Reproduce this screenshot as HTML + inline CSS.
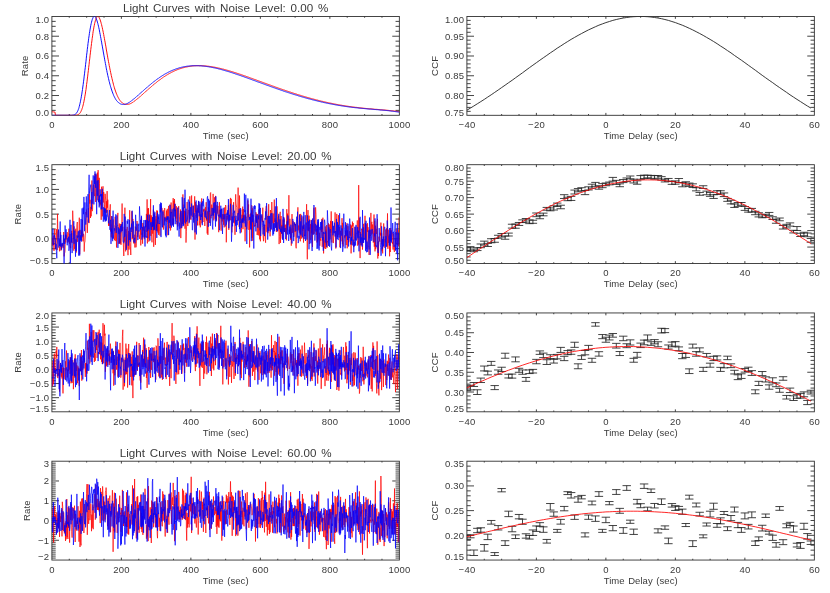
<!DOCTYPE html>
<html><head><meta charset="utf-8"><title>Light Curves and CCF</title>
<style>
html,body{margin:0;padding:0;background:#fff;}
svg{display:block;will-change:transform;}
text{font-family:"Liberation Sans",sans-serif;fill:#3a3a3a;}
</style></head><body>
<svg width="830" height="593" viewBox="0 0 830 593">
<defs><clipPath id="cl0"><rect x="51.9" y="16.45" width="347.45" height="98.85"/></clipPath><clipPath id="cr0"><rect x="466.9" y="16.45" width="347.45" height="98.85"/></clipPath><clipPath id="cl1"><rect x="51.9" y="164.70" width="347.45" height="98.85"/></clipPath><clipPath id="cr1"><rect x="466.9" y="164.70" width="347.45" height="98.85"/></clipPath><clipPath id="cl2"><rect x="51.9" y="312.95" width="347.45" height="98.85"/></clipPath><clipPath id="cr2"><rect x="466.9" y="312.95" width="347.45" height="98.85"/></clipPath><clipPath id="cl3"><rect x="51.9" y="461.20" width="347.45" height="98.85"/></clipPath><clipPath id="cr3"><rect x="466.9" y="461.20" width="347.45" height="98.85"/></clipPath></defs>
<rect x="0" y="0" width="830" height="593" fill="#ffffff"/>
<rect x="51.90" y="16.45" width="347.45" height="98.85" fill="none" stroke="#303030" stroke-width="0.9"/>
<text x="52.01" y="128.10" text-anchor="middle" font-size="9.5" letter-spacing="0.22">0</text>
<line x1="69.27" y1="115.30" x2="69.27" y2="114.00" stroke="#303030" stroke-width="0.9"/>
<line x1="69.27" y1="16.45" x2="69.27" y2="17.75" stroke="#303030" stroke-width="0.9"/>
<line x1="86.65" y1="115.30" x2="86.65" y2="114.00" stroke="#303030" stroke-width="0.9"/>
<line x1="86.65" y1="16.45" x2="86.65" y2="17.75" stroke="#303030" stroke-width="0.9"/>
<line x1="104.02" y1="115.30" x2="104.02" y2="114.00" stroke="#303030" stroke-width="0.9"/>
<line x1="104.02" y1="16.45" x2="104.02" y2="17.75" stroke="#303030" stroke-width="0.9"/>
<line x1="121.39" y1="115.30" x2="121.39" y2="112.90" stroke="#303030" stroke-width="0.9"/>
<line x1="121.39" y1="16.45" x2="121.39" y2="18.85" stroke="#303030" stroke-width="0.9"/>
<text x="121.50" y="128.10" text-anchor="middle" font-size="9.5" letter-spacing="0.22">200</text>
<line x1="138.76" y1="115.30" x2="138.76" y2="114.00" stroke="#303030" stroke-width="0.9"/>
<line x1="138.76" y1="16.45" x2="138.76" y2="17.75" stroke="#303030" stroke-width="0.9"/>
<line x1="156.14" y1="115.30" x2="156.14" y2="114.00" stroke="#303030" stroke-width="0.9"/>
<line x1="156.14" y1="16.45" x2="156.14" y2="17.75" stroke="#303030" stroke-width="0.9"/>
<line x1="173.51" y1="115.30" x2="173.51" y2="114.00" stroke="#303030" stroke-width="0.9"/>
<line x1="173.51" y1="16.45" x2="173.51" y2="17.75" stroke="#303030" stroke-width="0.9"/>
<line x1="190.88" y1="115.30" x2="190.88" y2="112.90" stroke="#303030" stroke-width="0.9"/>
<line x1="190.88" y1="16.45" x2="190.88" y2="18.85" stroke="#303030" stroke-width="0.9"/>
<text x="190.99" y="128.10" text-anchor="middle" font-size="9.5" letter-spacing="0.22">400</text>
<line x1="208.25" y1="115.30" x2="208.25" y2="114.00" stroke="#303030" stroke-width="0.9"/>
<line x1="208.25" y1="16.45" x2="208.25" y2="17.75" stroke="#303030" stroke-width="0.9"/>
<line x1="225.63" y1="115.30" x2="225.63" y2="114.00" stroke="#303030" stroke-width="0.9"/>
<line x1="225.63" y1="16.45" x2="225.63" y2="17.75" stroke="#303030" stroke-width="0.9"/>
<line x1="243.00" y1="115.30" x2="243.00" y2="114.00" stroke="#303030" stroke-width="0.9"/>
<line x1="243.00" y1="16.45" x2="243.00" y2="17.75" stroke="#303030" stroke-width="0.9"/>
<line x1="260.37" y1="115.30" x2="260.37" y2="112.90" stroke="#303030" stroke-width="0.9"/>
<line x1="260.37" y1="16.45" x2="260.37" y2="18.85" stroke="#303030" stroke-width="0.9"/>
<text x="260.48" y="128.10" text-anchor="middle" font-size="9.5" letter-spacing="0.22">600</text>
<line x1="277.74" y1="115.30" x2="277.74" y2="114.00" stroke="#303030" stroke-width="0.9"/>
<line x1="277.74" y1="16.45" x2="277.74" y2="17.75" stroke="#303030" stroke-width="0.9"/>
<line x1="295.12" y1="115.30" x2="295.12" y2="114.00" stroke="#303030" stroke-width="0.9"/>
<line x1="295.12" y1="16.45" x2="295.12" y2="17.75" stroke="#303030" stroke-width="0.9"/>
<line x1="312.49" y1="115.30" x2="312.49" y2="114.00" stroke="#303030" stroke-width="0.9"/>
<line x1="312.49" y1="16.45" x2="312.49" y2="17.75" stroke="#303030" stroke-width="0.9"/>
<line x1="329.86" y1="115.30" x2="329.86" y2="112.90" stroke="#303030" stroke-width="0.9"/>
<line x1="329.86" y1="16.45" x2="329.86" y2="18.85" stroke="#303030" stroke-width="0.9"/>
<text x="329.97" y="128.10" text-anchor="middle" font-size="9.5" letter-spacing="0.22">800</text>
<line x1="347.23" y1="115.30" x2="347.23" y2="114.00" stroke="#303030" stroke-width="0.9"/>
<line x1="347.23" y1="16.45" x2="347.23" y2="17.75" stroke="#303030" stroke-width="0.9"/>
<line x1="364.61" y1="115.30" x2="364.61" y2="114.00" stroke="#303030" stroke-width="0.9"/>
<line x1="364.61" y1="16.45" x2="364.61" y2="17.75" stroke="#303030" stroke-width="0.9"/>
<line x1="381.98" y1="115.30" x2="381.98" y2="114.00" stroke="#303030" stroke-width="0.9"/>
<line x1="381.98" y1="16.45" x2="381.98" y2="17.75" stroke="#303030" stroke-width="0.9"/>
<text x="399.46" y="128.10" text-anchor="middle" font-size="9.5" letter-spacing="0.22">1000</text>
<text x="49.32" y="115.70" text-anchor="end" font-size="9.5" letter-spacing="0.22">0.0</text>
<line x1="51.90" y1="110.36" x2="55.70" y2="110.36" stroke="#303030" stroke-width="0.9"/>
<line x1="399.35" y1="110.36" x2="395.55" y2="110.36" stroke="#303030" stroke-width="0.9"/>
<line x1="51.90" y1="105.41" x2="55.70" y2="105.41" stroke="#303030" stroke-width="0.9"/>
<line x1="399.35" y1="105.41" x2="395.55" y2="105.41" stroke="#303030" stroke-width="0.9"/>
<line x1="51.90" y1="100.47" x2="55.70" y2="100.47" stroke="#303030" stroke-width="0.9"/>
<line x1="399.35" y1="100.47" x2="395.55" y2="100.47" stroke="#303030" stroke-width="0.9"/>
<line x1="51.90" y1="95.53" x2="59.00" y2="95.53" stroke="#303030" stroke-width="0.9"/>
<line x1="399.35" y1="95.53" x2="392.25" y2="95.53" stroke="#303030" stroke-width="0.9"/>
<text x="49.32" y="99.03" text-anchor="end" font-size="9.5" letter-spacing="0.22">0.2</text>
<line x1="51.90" y1="90.59" x2="55.70" y2="90.59" stroke="#303030" stroke-width="0.9"/>
<line x1="399.35" y1="90.59" x2="395.55" y2="90.59" stroke="#303030" stroke-width="0.9"/>
<line x1="51.90" y1="85.64" x2="55.70" y2="85.64" stroke="#303030" stroke-width="0.9"/>
<line x1="399.35" y1="85.64" x2="395.55" y2="85.64" stroke="#303030" stroke-width="0.9"/>
<line x1="51.90" y1="80.70" x2="55.70" y2="80.70" stroke="#303030" stroke-width="0.9"/>
<line x1="399.35" y1="80.70" x2="395.55" y2="80.70" stroke="#303030" stroke-width="0.9"/>
<line x1="51.90" y1="75.76" x2="59.00" y2="75.76" stroke="#303030" stroke-width="0.9"/>
<line x1="399.35" y1="75.76" x2="392.25" y2="75.76" stroke="#303030" stroke-width="0.9"/>
<text x="49.32" y="79.26" text-anchor="end" font-size="9.5" letter-spacing="0.22">0.4</text>
<line x1="51.90" y1="70.82" x2="55.70" y2="70.82" stroke="#303030" stroke-width="0.9"/>
<line x1="399.35" y1="70.82" x2="395.55" y2="70.82" stroke="#303030" stroke-width="0.9"/>
<line x1="51.90" y1="65.88" x2="55.70" y2="65.88" stroke="#303030" stroke-width="0.9"/>
<line x1="399.35" y1="65.88" x2="395.55" y2="65.88" stroke="#303030" stroke-width="0.9"/>
<line x1="51.90" y1="60.93" x2="55.70" y2="60.93" stroke="#303030" stroke-width="0.9"/>
<line x1="399.35" y1="60.93" x2="395.55" y2="60.93" stroke="#303030" stroke-width="0.9"/>
<line x1="51.90" y1="55.99" x2="59.00" y2="55.99" stroke="#303030" stroke-width="0.9"/>
<line x1="399.35" y1="55.99" x2="392.25" y2="55.99" stroke="#303030" stroke-width="0.9"/>
<text x="49.32" y="59.49" text-anchor="end" font-size="9.5" letter-spacing="0.22">0.6</text>
<line x1="51.90" y1="51.05" x2="55.70" y2="51.05" stroke="#303030" stroke-width="0.9"/>
<line x1="399.35" y1="51.05" x2="395.55" y2="51.05" stroke="#303030" stroke-width="0.9"/>
<line x1="51.90" y1="46.10" x2="55.70" y2="46.10" stroke="#303030" stroke-width="0.9"/>
<line x1="399.35" y1="46.10" x2="395.55" y2="46.10" stroke="#303030" stroke-width="0.9"/>
<line x1="51.90" y1="41.16" x2="55.70" y2="41.16" stroke="#303030" stroke-width="0.9"/>
<line x1="399.35" y1="41.16" x2="395.55" y2="41.16" stroke="#303030" stroke-width="0.9"/>
<line x1="51.90" y1="36.22" x2="59.00" y2="36.22" stroke="#303030" stroke-width="0.9"/>
<line x1="399.35" y1="36.22" x2="392.25" y2="36.22" stroke="#303030" stroke-width="0.9"/>
<text x="49.32" y="39.72" text-anchor="end" font-size="9.5" letter-spacing="0.22">0.8</text>
<line x1="51.90" y1="31.28" x2="55.70" y2="31.28" stroke="#303030" stroke-width="0.9"/>
<line x1="399.35" y1="31.28" x2="395.55" y2="31.28" stroke="#303030" stroke-width="0.9"/>
<line x1="51.90" y1="26.33" x2="55.70" y2="26.33" stroke="#303030" stroke-width="0.9"/>
<line x1="399.35" y1="26.33" x2="395.55" y2="26.33" stroke="#303030" stroke-width="0.9"/>
<line x1="51.90" y1="21.39" x2="55.70" y2="21.39" stroke="#303030" stroke-width="0.9"/>
<line x1="399.35" y1="21.39" x2="395.55" y2="21.39" stroke="#303030" stroke-width="0.9"/>
<text x="49.32" y="22.55" text-anchor="end" font-size="9.5" letter-spacing="0.22">1.0</text>
<text x="225.65" y="139.20" text-anchor="middle" font-size="9.5" letter-spacing="0.05" word-spacing="0.9">Time (sec)</text>
<text x="27.70" y="65.88" text-anchor="middle" font-size="9.5" letter-spacing="0.15" transform="rotate(-90 27.70 65.88)">Rate</text>
<text x="225.63" y="11.85" text-anchor="middle" font-size="11.6" letter-spacing="0.02" word-spacing="1.55">Light Curves with Noise Level: 0.00 %</text>
<g clip-path="url(#cl0)">
<polyline points="51.9,111.7 52.2,111.7 52.6,111.8 52.9,111.8 53.3,111.9 53.6,111.9 54.0,112.0 54.3,112.0 54.7,112.1 55.0,112.1 55.4,115.3 55.7,115.3 56.1,115.3 56.4,115.3 56.8,115.3 57.1,115.3 57.5,115.3 57.8,115.3 58.2,115.3 58.5,115.3 58.8,115.3 59.2,115.3 59.5,115.3 59.9,115.3 60.2,115.3 60.6,115.3 60.9,115.3 61.3,115.3 61.6,115.3 62.0,115.3 62.3,115.3 62.7,115.3 63.0,115.3 63.4,115.3 63.7,115.3 64.1,115.3 64.4,115.3 64.8,115.3 65.1,115.3 65.5,115.3 65.8,115.3 66.1,115.3 66.5,115.3 66.8,115.3 67.2,115.3 67.5,115.3 67.9,115.3 68.2,115.3 68.6,115.3 68.9,115.3 69.3,115.3 69.6,115.3 70.0,115.3 70.3,115.3 70.7,115.3 71.0,115.3 71.4,115.3 71.7,115.3 72.1,115.3 72.4,115.3 72.7,115.3 73.1,115.3 73.4,115.3 73.8,115.3 74.1,115.3 74.5,115.3 74.8,115.3 75.2,115.3 75.5,115.2 75.9,115.2 76.2,115.2 76.6,115.1 76.9,115.0 77.3,115.0 77.6,114.8 78.0,114.7 78.3,114.5 78.7,114.3 79.0,114.1 79.3,113.8 79.7,113.4 80.0,113.0 80.4,112.5 80.7,111.9 81.1,111.2 81.4,110.4 81.8,109.6 82.1,108.6 82.5,107.5 82.8,106.3 83.2,104.9 83.5,103.4 83.9,101.8 84.2,100.1 84.6,98.2 84.9,96.2 85.3,94.1 85.6,91.9 86.0,89.5 86.3,87.0 86.6,84.4 87.0,81.8 87.3,79.0 87.7,76.1 88.0,73.2 88.4,70.3 88.7,67.3 89.1,64.3 89.4,61.2 89.8,58.2 90.1,55.2 90.5,52.2 90.8,49.3 91.2,46.4 91.5,43.6 91.9,40.9 92.2,38.3 92.6,35.8 92.9,33.4 93.2,31.2 93.6,29.1 93.9,27.1 94.3,25.3 94.6,23.6 95.0,22.2 95.3,20.8 95.7,19.7 96.0,18.7 96.4,17.9 96.7,17.3 97.1,16.9 97.4,16.6 97.8,16.5 98.1,16.5 98.5,16.7 98.8,17.1 99.2,17.6 99.5,18.2 99.8,19.0 100.2,19.9 100.5,21.0 100.9,22.1 101.2,23.4 101.6,24.7 101.9,26.2 102.3,27.7 102.6,29.3 103.0,31.0 103.3,32.7 103.7,34.5 104.0,36.4 104.4,38.3 104.7,40.2 105.1,42.1 105.4,44.1 105.8,46.1 106.1,48.0 106.4,50.0 106.8,52.0 107.1,54.0 107.5,55.9 107.8,57.9 108.2,59.8 108.5,61.7 108.9,63.5 109.2,65.4 109.6,67.2 109.9,68.9 110.3,70.7 110.6,72.3 111.0,74.0 111.3,75.6 111.7,77.1 112.0,78.6 112.4,80.1 112.7,81.5 113.1,82.9 113.4,84.2 113.7,85.5 114.1,86.7 114.4,87.8 114.8,89.0 115.1,90.0 115.5,91.1 115.8,92.0 116.2,93.0 116.5,93.9 116.9,94.7 117.2,95.5 117.6,96.3 117.9,97.0 118.3,97.7 118.6,98.3 119.0,98.9 119.3,99.5 119.7,100.0 120.0,100.5 120.3,100.9 120.7,101.3 121.0,101.7 121.4,102.1 121.7,102.4 122.1,102.7 122.4,103.0 122.8,103.2 123.1,103.4 123.5,103.6 123.8,103.8 124.2,104.0 124.5,104.1 124.9,104.2 125.2,104.3 125.6,104.3 125.9,104.4 126.3,104.4 126.6,104.4 126.9,104.4 127.3,104.4 127.6,104.4 128.0,104.4 128.3,104.3 128.7,104.2 129.0,104.2 129.4,104.1 129.7,103.9 130.1,103.8 130.4,103.6 130.8,103.5 131.1,103.3 131.5,103.1 131.8,102.9 132.2,102.7 132.5,102.5 132.9,102.3 133.2,102.0 133.6,101.8 133.9,101.5 134.2,101.3 134.6,101.0 134.9,100.8 135.3,100.5 135.6,100.2 136.0,100.0 136.3,99.7 136.7,99.4 137.0,99.1 137.4,98.9 137.7,98.6 138.1,98.3 138.4,98.0 138.8,97.7 139.1,97.4 139.5,97.1 139.8,96.8 140.2,96.5 140.5,96.2 140.8,95.9 141.2,95.6 141.5,95.3 141.9,95.0 142.2,94.7 142.6,94.4 142.9,94.0 143.3,93.7 143.6,93.4 144.0,93.1 144.3,92.8 144.7,92.5 145.0,92.2 145.4,91.9 145.7,91.6 146.1,91.2 146.4,90.9 146.8,90.6 147.1,90.3 147.4,90.0 147.8,89.7 148.1,89.4 148.5,89.1 148.8,88.8 149.2,88.5 149.5,88.2 149.9,87.9 150.2,87.6 150.6,87.3 150.9,87.0 151.3,86.7 151.6,86.4 152.0,86.1 152.3,85.8 152.7,85.5 153.0,85.2 153.4,84.9 153.7,84.6 154.1,84.3 154.4,84.0 154.7,83.7 155.1,83.5 155.4,83.2 155.8,82.9 156.1,82.6 156.5,82.3 156.8,82.1 157.2,81.8 157.5,81.5 157.9,81.2 158.2,81.0 158.6,80.7 158.9,80.4 159.3,80.2 159.6,79.9 160.0,79.7 160.3,79.4 160.7,79.2 161.0,78.9 161.3,78.7 161.7,78.4 162.0,78.2 162.4,77.9 162.7,77.7 163.1,77.4 163.4,77.2 163.8,77.0 164.1,76.7 164.5,76.5 164.8,76.3 165.2,76.1 165.5,75.8 165.9,75.6 166.2,75.4 166.6,75.2 166.9,75.0 167.3,74.8 167.6,74.6 167.9,74.3 168.3,74.1 168.6,73.9 169.0,73.7 169.3,73.5 169.7,73.4 170.0,73.2 170.4,73.0 170.7,72.8 171.1,72.6 171.4,72.4 171.8,72.2 172.1,72.1 172.5,71.9 172.8,71.7 173.2,71.6 173.5,71.4 173.9,71.2 174.2,71.1 174.5,70.9 174.9,70.7 175.2,70.6 175.6,70.4 175.9,70.3 176.3,70.2 176.6,70.0 177.0,69.9 177.3,69.7 177.7,69.6 178.0,69.5 178.4,69.3 178.7,69.2 179.1,69.1 179.4,68.9 179.8,68.8 180.1,68.7 180.5,68.6 180.8,68.5 181.2,68.4 181.5,68.3 181.8,68.2 182.2,68.0 182.5,67.9 182.9,67.8 183.2,67.7 183.6,67.7 183.9,67.6 184.3,67.5 184.6,67.4 185.0,67.3 185.3,67.2 185.7,67.1 186.0,67.1 186.4,67.0 186.7,66.9 187.1,66.8 187.4,66.8 187.8,66.7 188.1,66.6 188.4,66.6 188.8,66.5 189.1,66.5 189.5,66.4 189.8,66.3 190.2,66.3 190.5,66.2 190.9,66.2 191.2,66.1 191.6,66.1 191.9,66.1 192.3,66.0 192.6,66.0 193.0,66.0 193.3,65.9 193.7,65.9 194.0,65.9 194.4,65.8 194.7,65.8 195.0,65.8 195.4,65.8 195.7,65.7 196.1,65.7 196.4,65.7 196.8,65.7 197.1,65.7 197.5,65.7 197.8,65.7 198.2,65.7 198.5,65.7 198.9,65.7 199.2,65.7 199.6,65.7 199.9,65.7 200.3,65.7 200.6,65.7 201.0,65.7 201.3,65.7 201.7,65.7 202.0,65.7 202.3,65.7 202.7,65.8 203.0,65.8 203.4,65.8 203.7,65.8 204.1,65.8 204.4,65.9 204.8,65.9 205.1,65.9 205.5,65.9 205.8,66.0 206.2,66.0 206.5,66.0 206.9,66.1 207.2,66.1 207.6,66.2 207.9,66.2 208.3,66.2 208.6,66.3 208.9,66.3 209.3,66.4 209.6,66.4 210.0,66.5 210.3,66.5 210.7,66.6 211.0,66.6 211.4,66.7 211.7,66.7 212.1,66.8 212.4,66.8 212.8,66.9 213.1,67.0 213.5,67.0 213.8,67.1 214.2,67.1 214.5,67.2 214.9,67.3 215.2,67.3 215.5,67.4 215.9,67.5 216.2,67.5 216.6,67.6 216.9,67.7 217.3,67.8 217.6,67.8 218.0,67.9 218.3,68.0 218.7,68.1 219.0,68.1 219.4,68.2 219.7,68.3 220.1,68.4 220.4,68.5 220.8,68.5 221.1,68.6 221.5,68.7 221.8,68.8 222.2,68.9 222.5,69.0 222.8,69.1 223.2,69.1 223.5,69.2 223.9,69.3 224.2,69.4 224.6,69.5 224.9,69.6 225.3,69.7 225.6,69.8 226.0,69.9 226.3,70.0 226.7,70.1 227.0,70.2 227.4,70.3 227.7,70.4 228.1,70.5 228.4,70.6 228.8,70.7 229.1,70.8 229.4,70.9 229.8,71.0 230.1,71.1 230.5,71.2 230.8,71.3 231.2,71.4 231.5,71.5 231.9,71.6 232.2,71.7 232.6,71.8 232.9,71.9 233.3,72.0 233.6,72.2 234.0,72.3 234.3,72.4 234.7,72.5 235.0,72.6 235.4,72.7 235.7,72.8 236.0,72.9 236.4,73.0 236.7,73.2 237.1,73.3 237.4,73.4 237.8,73.5 238.1,73.6 238.5,73.7 238.8,73.9 239.2,74.0 239.5,74.1 239.9,74.2 240.2,74.3 240.6,74.4 240.9,74.6 241.3,74.7 241.6,74.8 242.0,74.9 242.3,75.0 242.7,75.2 243.0,75.3 243.3,75.4 243.7,75.5 244.0,75.6 244.4,75.8 244.7,75.9 245.1,76.0 245.4,76.1 245.8,76.2 246.1,76.4 246.5,76.5 246.8,76.6 247.2,76.7 247.5,76.9 247.9,77.0 248.2,77.1 248.6,77.2 248.9,77.4 249.3,77.5 249.6,77.6 249.9,77.7 250.3,77.9 250.6,78.0 251.0,78.1 251.3,78.2 251.7,78.4 252.0,78.5 252.4,78.6 252.7,78.7 253.1,78.9 253.4,79.0 253.8,79.1 254.1,79.2 254.5,79.4 254.8,79.5 255.2,79.6 255.5,79.7 255.9,79.9 256.2,80.0 256.5,80.1 256.9,80.3 257.2,80.4 257.6,80.5 257.9,80.6 258.3,80.8 258.6,80.9 259.0,81.0 259.3,81.1 259.7,81.3 260.0,81.4 260.4,81.5 260.7,81.7 261.1,81.8 261.4,81.9 261.8,82.0 262.1,82.2 262.5,82.3 262.8,82.4 263.1,82.5 263.5,82.7 263.8,82.8 264.2,82.9 264.5,83.1 264.9,83.2 265.2,83.3 265.6,83.4 265.9,83.6 266.3,83.7 266.6,83.8 267.0,83.9 267.3,84.1 267.7,84.2 268.0,84.3 268.4,84.4 268.7,84.6 269.1,84.7 269.4,84.8 269.8,85.0 270.1,85.1 270.4,85.2 270.8,85.3 271.1,85.5 271.5,85.6 271.8,85.7 272.2,85.8 272.5,86.0 272.9,86.1 273.2,86.2 273.6,86.3 273.9,86.5 274.3,86.6 274.6,86.7 275.0,86.8 275.3,87.0 275.7,87.1 276.0,87.2 276.4,87.3 276.7,87.5 277.0,87.6 277.4,87.7 277.7,87.8 278.1,87.9 278.4,88.1 278.8,88.2 279.1,88.3 279.5,88.4 279.8,88.6 280.2,88.7 280.5,88.8 280.9,88.9 281.2,89.0 281.6,89.2 281.9,89.3 282.3,89.4 282.6,89.5 283.0,89.6 283.3,89.8 283.6,89.9 284.0,90.0 284.3,90.1 284.7,90.2 285.0,90.4 285.4,90.5 285.7,90.6 286.1,90.7 286.4,90.8 286.8,91.0 287.1,91.1 287.5,91.2 287.8,91.3 288.2,91.4 288.5,91.5 288.9,91.7 289.2,91.8 289.6,91.9 289.9,92.0 290.3,92.1 290.6,92.2 290.9,92.3 291.3,92.5 291.6,92.6 292.0,92.7 292.3,92.8 292.7,92.9 293.0,93.0 293.4,93.1 293.7,93.3 294.1,93.4 294.4,93.5 294.8,93.6 295.1,93.7 295.5,93.8 295.8,93.9 296.2,94.0 296.5,94.1 296.9,94.3 297.2,94.4 297.5,94.5 297.9,94.6 298.2,94.7 298.6,94.8 298.9,94.9 299.3,95.0 299.6,95.1 300.0,95.2 300.3,95.3 300.7,95.4 301.0,95.5 301.4,95.7 301.7,95.8 302.1,95.9 302.4,96.0 302.8,96.1 303.1,96.2 303.5,96.3 303.8,96.4 304.1,96.5 304.5,96.6 304.8,96.7 305.2,96.8 305.5,96.9 305.9,97.0 306.2,97.1 306.6,97.2 306.9,97.3 307.3,97.4 307.6,97.5 308.0,97.6 308.3,97.7 308.7,97.8 309.0,97.9 309.4,98.0 309.7,98.1 310.1,98.2 310.4,98.3 310.8,98.4 311.1,98.5 311.4,98.6 311.8,98.7 312.1,98.8 312.5,98.9 312.8,98.9 313.2,99.0 313.5,99.1 313.9,99.2 314.2,99.3 314.6,99.4 314.9,99.5 315.3,99.6 315.6,99.7 316.0,99.8 316.3,99.9 316.7,100.0 317.0,100.0 317.4,100.1 317.7,100.2 318.0,100.3 318.4,100.4 318.7,100.5 319.1,100.6 319.4,100.7 319.8,100.7 320.1,100.8 320.5,100.9 320.8,101.0 321.2,101.1 321.5,101.2 321.9,101.3 322.2,101.3 322.6,101.4 322.9,101.5 323.3,101.6 323.6,101.7 324.0,101.7 324.3,101.8 324.6,101.9 325.0,102.0 325.3,102.1 325.7,102.1 326.0,102.2 326.4,102.3 326.7,102.4 327.1,102.5 327.4,102.5 327.8,102.6 328.1,102.7 328.5,102.8 328.8,102.8 329.2,102.9 329.5,103.0 329.9,103.1 330.2,103.1 330.6,103.2 330.9,103.3 331.2,103.3 331.6,103.4 331.9,103.5 332.3,103.6 332.6,103.6 333.0,103.7 333.3,103.8 333.7,103.8 334.0,103.9 334.4,104.0 334.7,104.0 335.1,104.1 335.4,104.2 335.8,104.2 336.1,104.3 336.5,104.4 336.8,104.4 337.2,104.5 337.5,104.6 337.9,104.6 338.2,104.7 338.5,104.8 338.9,104.8 339.2,104.9 339.6,104.9 339.9,105.0 340.3,105.1 340.6,105.1 341.0,105.2 341.3,105.2 341.7,105.3 342.0,105.4 342.4,105.4 342.7,105.5 343.1,105.5 343.4,105.6 343.8,105.6 344.1,105.7 344.5,105.8 344.8,105.8 345.1,105.9 345.5,105.9 345.8,106.0 346.2,106.0 346.5,106.1 346.9,106.1 347.2,106.2 347.6,106.2 347.9,106.3 348.3,106.3 348.6,106.4 349.0,106.4 349.3,106.5 349.7,106.5 350.0,106.6 350.4,106.6 350.7,106.7 351.1,106.7 351.4,106.8 351.7,106.8 352.1,106.9 352.4,106.9 352.8,107.0 353.1,107.0 353.5,107.0 353.8,107.1 354.2,107.1 354.5,107.2 354.9,107.2 355.2,107.3 355.6,107.3 355.9,107.4 356.3,107.4 356.6,107.4 357.0,107.5 357.3,107.5 357.7,107.6 358.0,107.6 358.4,107.6 358.7,107.7 359.0,107.7 359.4,107.8 359.7,107.8 360.1,107.8 360.4,107.9 360.8,107.9 361.1,107.9 361.5,108.0 361.8,108.0 362.2,108.1 362.5,108.1 362.9,108.1 363.2,108.2 363.6,108.2 363.9,108.2 364.3,108.3 364.6,108.3 365.0,108.3 365.3,108.4 365.6,108.4 366.0,108.4 366.3,108.5 366.7,108.5 367.0,108.5 367.4,108.6 367.7,108.6 368.1,108.6 368.4,108.7 368.8,108.7 369.1,108.7 369.5,108.8 369.8,108.8 370.2,108.8 370.5,108.8 370.9,108.9 371.2,108.9 371.6,108.9 371.9,109.0 372.2,109.0 372.6,109.0 372.9,109.1 373.3,109.1 373.6,109.1 374.0,109.1 374.3,109.2 374.7,109.2 375.0,109.2 375.4,109.3 375.7,109.3 376.1,109.3 376.4,109.3 376.8,109.4 377.1,109.4 377.5,109.4 377.8,109.5 378.2,109.5 378.5,109.5 378.9,109.5 379.2,109.6 379.5,109.6 379.9,109.6 380.2,109.7 380.6,109.7 380.9,109.7 381.3,109.7 381.6,109.8 382.0,109.8 382.3,109.8 382.7,109.9 383.0,109.9 383.4,109.9 383.7,110.0 384.1,110.0 384.4,110.0 384.8,110.0 385.1,110.1 385.5,110.1 385.8,110.1 386.1,110.2 386.5,110.2 386.8,110.2 387.2,110.3 387.5,110.3 387.9,110.3 388.2,110.4 388.6,110.4 388.9,110.4 389.3,110.5 389.6,110.5 390.0,110.5 390.3,110.6 390.7,110.6 391.0,110.6 391.4,110.7 391.7,110.7 392.1,110.7 392.4,110.8 392.7,110.8 393.1,110.9 393.4,110.9 393.8,110.9 394.1,111.0 394.5,111.0 394.8,111.1 395.2,111.1 395.5,111.1 395.9,111.2 396.2,111.2 396.6,111.3 396.9,111.3 397.3,111.4 397.6,111.4 398.0,111.5 398.3,111.5 398.7,111.6 399.0,111.6" fill="none" stroke="#ff0000" stroke-width="0.95" stroke-linejoin="bevel"/>
<polyline points="51.9,115.3 52.2,115.3 52.6,115.3 52.9,115.3 53.3,115.3 53.6,115.3 54.0,115.3 54.3,115.3 54.7,115.3 55.0,115.3 55.4,115.3 55.7,115.3 56.1,115.3 56.4,115.3 56.8,115.3 57.1,115.3 57.5,115.3 57.8,115.3 58.2,115.3 58.5,115.3 58.8,115.3 59.2,115.3 59.5,115.3 59.9,115.3 60.2,115.3 60.6,115.3 60.9,115.3 61.3,115.3 61.6,115.3 62.0,115.3 62.3,115.3 62.7,115.3 63.0,115.3 63.4,115.3 63.7,115.3 64.1,115.3 64.4,115.3 64.8,115.3 65.1,115.3 65.5,115.3 65.8,115.3 66.1,115.3 66.5,115.3 66.8,115.3 67.2,115.3 67.5,115.3 67.9,115.3 68.2,115.3 68.6,115.3 68.9,115.3 69.3,115.3 69.6,115.3 70.0,115.3 70.3,115.3 70.7,115.3 71.0,115.3 71.4,115.3 71.7,115.3 72.1,115.2 72.4,115.2 72.7,115.2 73.1,115.1 73.4,115.0 73.8,115.0 74.1,114.8 74.5,114.7 74.8,114.5 75.2,114.3 75.5,114.1 75.9,113.8 76.2,113.4 76.6,113.0 76.9,112.5 77.3,111.9 77.6,111.2 78.0,110.4 78.3,109.6 78.7,108.6 79.0,107.5 79.3,106.3 79.7,104.9 80.0,103.4 80.4,101.8 80.7,100.1 81.1,98.2 81.4,96.2 81.8,94.1 82.1,91.9 82.5,89.5 82.8,87.0 83.2,84.4 83.5,81.8 83.9,79.0 84.2,76.1 84.6,73.2 84.9,70.3 85.3,67.3 85.6,64.3 86.0,61.2 86.3,58.2 86.6,55.2 87.0,52.2 87.3,49.3 87.7,46.4 88.0,43.6 88.4,40.9 88.7,38.3 89.1,35.8 89.4,33.4 89.8,31.2 90.1,29.1 90.5,27.1 90.8,25.3 91.2,23.6 91.5,22.2 91.9,20.8 92.2,19.7 92.6,18.7 92.9,17.9 93.2,17.3 93.6,16.9 93.9,16.6 94.3,16.5 94.6,16.5 95.0,16.7 95.3,17.1 95.7,17.6 96.0,18.2 96.4,19.0 96.7,19.9 97.1,21.0 97.4,22.1 97.8,23.4 98.1,24.7 98.5,26.2 98.8,27.7 99.2,29.3 99.5,31.0 99.8,32.7 100.2,34.5 100.5,36.4 100.9,38.3 101.2,40.2 101.6,42.1 101.9,44.1 102.3,46.1 102.6,48.0 103.0,50.0 103.3,52.0 103.7,54.0 104.0,55.9 104.4,57.9 104.7,59.8 105.1,61.7 105.4,63.5 105.8,65.4 106.1,67.2 106.4,68.9 106.8,70.7 107.1,72.3 107.5,74.0 107.8,75.6 108.2,77.1 108.5,78.6 108.9,80.1 109.2,81.5 109.6,82.9 109.9,84.2 110.3,85.5 110.6,86.7 111.0,87.8 111.3,89.0 111.7,90.0 112.0,91.1 112.4,92.0 112.7,93.0 113.1,93.9 113.4,94.7 113.7,95.5 114.1,96.3 114.4,97.0 114.8,97.7 115.1,98.3 115.5,98.9 115.8,99.5 116.2,100.0 116.5,100.5 116.9,100.9 117.2,101.3 117.6,101.7 117.9,102.1 118.3,102.4 118.6,102.7 119.0,103.0 119.3,103.2 119.7,103.4 120.0,103.6 120.3,103.8 120.7,104.0 121.0,104.1 121.4,104.2 121.7,104.3 122.1,104.3 122.4,104.4 122.8,104.4 123.1,104.4 123.5,104.4 123.8,104.4 124.2,104.4 124.5,104.4 124.9,104.3 125.2,104.2 125.6,104.2 125.9,104.1 126.3,103.9 126.6,103.8 126.9,103.6 127.3,103.5 127.6,103.3 128.0,103.1 128.3,102.9 128.7,102.7 129.0,102.5 129.4,102.3 129.7,102.0 130.1,101.8 130.4,101.5 130.8,101.3 131.1,101.0 131.5,100.8 131.8,100.5 132.2,100.2 132.5,100.0 132.9,99.7 133.2,99.4 133.6,99.1 133.9,98.9 134.2,98.6 134.6,98.3 134.9,98.0 135.3,97.7 135.6,97.4 136.0,97.1 136.3,96.8 136.7,96.5 137.0,96.2 137.4,95.9 137.7,95.6 138.1,95.3 138.4,95.0 138.8,94.7 139.1,94.4 139.5,94.0 139.8,93.7 140.2,93.4 140.5,93.1 140.8,92.8 141.2,92.5 141.5,92.2 141.9,91.9 142.2,91.6 142.6,91.2 142.9,90.9 143.3,90.6 143.6,90.3 144.0,90.0 144.3,89.7 144.7,89.4 145.0,89.1 145.4,88.8 145.7,88.5 146.1,88.2 146.4,87.9 146.8,87.6 147.1,87.3 147.4,87.0 147.8,86.7 148.1,86.4 148.5,86.1 148.8,85.8 149.2,85.5 149.5,85.2 149.9,84.9 150.2,84.6 150.6,84.3 150.9,84.0 151.3,83.7 151.6,83.5 152.0,83.2 152.3,82.9 152.7,82.6 153.0,82.3 153.4,82.1 153.7,81.8 154.1,81.5 154.4,81.2 154.7,81.0 155.1,80.7 155.4,80.4 155.8,80.2 156.1,79.9 156.5,79.7 156.8,79.4 157.2,79.2 157.5,78.9 157.9,78.7 158.2,78.4 158.6,78.2 158.9,77.9 159.3,77.7 159.6,77.4 160.0,77.2 160.3,77.0 160.7,76.7 161.0,76.5 161.3,76.3 161.7,76.1 162.0,75.8 162.4,75.6 162.7,75.4 163.1,75.2 163.4,75.0 163.8,74.8 164.1,74.6 164.5,74.3 164.8,74.1 165.2,73.9 165.5,73.7 165.9,73.5 166.2,73.4 166.6,73.2 166.9,73.0 167.3,72.8 167.6,72.6 167.9,72.4 168.3,72.2 168.6,72.1 169.0,71.9 169.3,71.7 169.7,71.6 170.0,71.4 170.4,71.2 170.7,71.1 171.1,70.9 171.4,70.7 171.8,70.6 172.1,70.4 172.5,70.3 172.8,70.2 173.2,70.0 173.5,69.9 173.9,69.7 174.2,69.6 174.5,69.5 174.9,69.3 175.2,69.2 175.6,69.1 175.9,68.9 176.3,68.8 176.6,68.7 177.0,68.6 177.3,68.5 177.7,68.4 178.0,68.3 178.4,68.2 178.7,68.0 179.1,67.9 179.4,67.8 179.8,67.7 180.1,67.7 180.5,67.6 180.8,67.5 181.2,67.4 181.5,67.3 181.8,67.2 182.2,67.1 182.5,67.1 182.9,67.0 183.2,66.9 183.6,66.8 183.9,66.8 184.3,66.7 184.6,66.6 185.0,66.6 185.3,66.5 185.7,66.5 186.0,66.4 186.4,66.3 186.7,66.3 187.1,66.2 187.4,66.2 187.8,66.1 188.1,66.1 188.4,66.1 188.8,66.0 189.1,66.0 189.5,66.0 189.8,65.9 190.2,65.9 190.5,65.9 190.9,65.8 191.2,65.8 191.6,65.8 191.9,65.8 192.3,65.7 192.6,65.7 193.0,65.7 193.3,65.7 193.7,65.7 194.0,65.7 194.4,65.7 194.7,65.7 195.0,65.7 195.4,65.7 195.7,65.7 196.1,65.7 196.4,65.7 196.8,65.7 197.1,65.7 197.5,65.7 197.8,65.7 198.2,65.7 198.5,65.7 198.9,65.7 199.2,65.8 199.6,65.8 199.9,65.8 200.3,65.8 200.6,65.8 201.0,65.9 201.3,65.9 201.7,65.9 202.0,65.9 202.3,66.0 202.7,66.0 203.0,66.0 203.4,66.1 203.7,66.1 204.1,66.2 204.4,66.2 204.8,66.2 205.1,66.3 205.5,66.3 205.8,66.4 206.2,66.4 206.5,66.5 206.9,66.5 207.2,66.6 207.6,66.6 207.9,66.7 208.3,66.7 208.6,66.8 208.9,66.8 209.3,66.9 209.6,67.0 210.0,67.0 210.3,67.1 210.7,67.1 211.0,67.2 211.4,67.3 211.7,67.3 212.1,67.4 212.4,67.5 212.8,67.5 213.1,67.6 213.5,67.7 213.8,67.8 214.2,67.8 214.5,67.9 214.9,68.0 215.2,68.1 215.5,68.1 215.9,68.2 216.2,68.3 216.6,68.4 216.9,68.5 217.3,68.5 217.6,68.6 218.0,68.7 218.3,68.8 218.7,68.9 219.0,69.0 219.4,69.1 219.7,69.1 220.1,69.2 220.4,69.3 220.8,69.4 221.1,69.5 221.5,69.6 221.8,69.7 222.2,69.8 222.5,69.9 222.8,70.0 223.2,70.1 223.5,70.2 223.9,70.3 224.2,70.4 224.6,70.5 224.9,70.6 225.3,70.7 225.6,70.8 226.0,70.9 226.3,71.0 226.7,71.1 227.0,71.2 227.4,71.3 227.7,71.4 228.1,71.5 228.4,71.6 228.8,71.7 229.1,71.8 229.4,71.9 229.8,72.0 230.1,72.2 230.5,72.3 230.8,72.4 231.2,72.5 231.5,72.6 231.9,72.7 232.2,72.8 232.6,72.9 232.9,73.0 233.3,73.2 233.6,73.3 234.0,73.4 234.3,73.5 234.7,73.6 235.0,73.7 235.4,73.9 235.7,74.0 236.0,74.1 236.4,74.2 236.7,74.3 237.1,74.4 237.4,74.6 237.8,74.7 238.1,74.8 238.5,74.9 238.8,75.0 239.2,75.2 239.5,75.3 239.9,75.4 240.2,75.5 240.6,75.6 240.9,75.8 241.3,75.9 241.6,76.0 242.0,76.1 242.3,76.2 242.7,76.4 243.0,76.5 243.3,76.6 243.7,76.7 244.0,76.9 244.4,77.0 244.7,77.1 245.1,77.2 245.4,77.4 245.8,77.5 246.1,77.6 246.5,77.7 246.8,77.9 247.2,78.0 247.5,78.1 247.9,78.2 248.2,78.4 248.6,78.5 248.9,78.6 249.3,78.7 249.6,78.9 249.9,79.0 250.3,79.1 250.6,79.2 251.0,79.4 251.3,79.5 251.7,79.6 252.0,79.7 252.4,79.9 252.7,80.0 253.1,80.1 253.4,80.3 253.8,80.4 254.1,80.5 254.5,80.6 254.8,80.8 255.2,80.9 255.5,81.0 255.9,81.1 256.2,81.3 256.5,81.4 256.9,81.5 257.2,81.7 257.6,81.8 257.9,81.9 258.3,82.0 258.6,82.2 259.0,82.3 259.3,82.4 259.7,82.5 260.0,82.7 260.4,82.8 260.7,82.9 261.1,83.1 261.4,83.2 261.8,83.3 262.1,83.4 262.5,83.6 262.8,83.7 263.1,83.8 263.5,83.9 263.8,84.1 264.2,84.2 264.5,84.3 264.9,84.4 265.2,84.6 265.6,84.7 265.9,84.8 266.3,85.0 266.6,85.1 267.0,85.2 267.3,85.3 267.7,85.5 268.0,85.6 268.4,85.7 268.7,85.8 269.1,86.0 269.4,86.1 269.8,86.2 270.1,86.3 270.4,86.5 270.8,86.6 271.1,86.7 271.5,86.8 271.8,87.0 272.2,87.1 272.5,87.2 272.9,87.3 273.2,87.5 273.6,87.6 273.9,87.7 274.3,87.8 274.6,87.9 275.0,88.1 275.3,88.2 275.7,88.3 276.0,88.4 276.4,88.6 276.7,88.7 277.0,88.8 277.4,88.9 277.7,89.0 278.1,89.2 278.4,89.3 278.8,89.4 279.1,89.5 279.5,89.6 279.8,89.8 280.2,89.9 280.5,90.0 280.9,90.1 281.2,90.2 281.6,90.4 281.9,90.5 282.3,90.6 282.6,90.7 283.0,90.8 283.3,91.0 283.6,91.1 284.0,91.2 284.3,91.3 284.7,91.4 285.0,91.5 285.4,91.7 285.7,91.8 286.1,91.9 286.4,92.0 286.8,92.1 287.1,92.2 287.5,92.3 287.8,92.5 288.2,92.6 288.5,92.7 288.9,92.8 289.2,92.9 289.6,93.0 289.9,93.1 290.3,93.3 290.6,93.4 290.9,93.5 291.3,93.6 291.6,93.7 292.0,93.8 292.3,93.9 292.7,94.0 293.0,94.1 293.4,94.3 293.7,94.4 294.1,94.5 294.4,94.6 294.8,94.7 295.1,94.8 295.5,94.9 295.8,95.0 296.2,95.1 296.5,95.2 296.9,95.3 297.2,95.4 297.5,95.5 297.9,95.7 298.2,95.8 298.6,95.9 298.9,96.0 299.3,96.1 299.6,96.2 300.0,96.3 300.3,96.4 300.7,96.5 301.0,96.6 301.4,96.7 301.7,96.8 302.1,96.9 302.4,97.0 302.8,97.1 303.1,97.2 303.5,97.3 303.8,97.4 304.1,97.5 304.5,97.6 304.8,97.7 305.2,97.8 305.5,97.9 305.9,98.0 306.2,98.1 306.6,98.2 306.9,98.3 307.3,98.4 307.6,98.5 308.0,98.6 308.3,98.7 308.7,98.8 309.0,98.9 309.4,98.9 309.7,99.0 310.1,99.1 310.4,99.2 310.8,99.3 311.1,99.4 311.4,99.5 311.8,99.6 312.1,99.7 312.5,99.8 312.8,99.9 313.2,100.0 313.5,100.0 313.9,100.1 314.2,100.2 314.6,100.3 314.9,100.4 315.3,100.5 315.6,100.6 316.0,100.7 316.3,100.7 316.7,100.8 317.0,100.9 317.4,101.0 317.7,101.1 318.0,101.2 318.4,101.3 318.7,101.3 319.1,101.4 319.4,101.5 319.8,101.6 320.1,101.7 320.5,101.7 320.8,101.8 321.2,101.9 321.5,102.0 321.9,102.1 322.2,102.1 322.6,102.2 322.9,102.3 323.3,102.4 323.6,102.5 324.0,102.5 324.3,102.6 324.6,102.7 325.0,102.8 325.3,102.8 325.7,102.9 326.0,103.0 326.4,103.1 326.7,103.1 327.1,103.2 327.4,103.3 327.8,103.3 328.1,103.4 328.5,103.5 328.8,103.6 329.2,103.6 329.5,103.7 329.9,103.8 330.2,103.8 330.6,103.9 330.9,104.0 331.2,104.0 331.6,104.1 331.9,104.2 332.3,104.2 332.6,104.3 333.0,104.4 333.3,104.4 333.7,104.5 334.0,104.6 334.4,104.6 334.7,104.7 335.1,104.8 335.4,104.8 335.8,104.9 336.1,104.9 336.5,105.0 336.8,105.1 337.2,105.1 337.5,105.2 337.9,105.2 338.2,105.3 338.5,105.4 338.9,105.4 339.2,105.5 339.6,105.5 339.9,105.6 340.3,105.6 340.6,105.7 341.0,105.8 341.3,105.8 341.7,105.9 342.0,105.9 342.4,106.0 342.7,106.0 343.1,106.1 343.4,106.1 343.8,106.2 344.1,106.2 344.5,106.3 344.8,106.3 345.1,106.4 345.5,106.4 345.8,106.5 346.2,106.5 346.5,106.6 346.9,106.6 347.2,106.7 347.6,106.7 347.9,106.8 348.3,106.8 348.6,106.9 349.0,106.9 349.3,107.0 349.7,107.0 350.0,107.0 350.4,107.1 350.7,107.1 351.1,107.2 351.4,107.2 351.7,107.3 352.1,107.3 352.4,107.4 352.8,107.4 353.1,107.4 353.5,107.5 353.8,107.5 354.2,107.6 354.5,107.6 354.9,107.6 355.2,107.7 355.6,107.7 355.9,107.8 356.3,107.8 356.6,107.8 357.0,107.9 357.3,107.9 357.7,107.9 358.0,108.0 358.4,108.0 358.7,108.1 359.0,108.1 359.4,108.1 359.7,108.2 360.1,108.2 360.4,108.2 360.8,108.3 361.1,108.3 361.5,108.3 361.8,108.4 362.2,108.4 362.5,108.4 362.9,108.5 363.2,108.5 363.6,108.5 363.9,108.6 364.3,108.6 364.6,108.6 365.0,108.7 365.3,108.7 365.6,108.7 366.0,108.8 366.3,108.8 366.7,108.8 367.0,108.8 367.4,108.9 367.7,108.9 368.1,108.9 368.4,109.0 368.8,109.0 369.1,109.0 369.5,109.1 369.8,109.1 370.2,109.1 370.5,109.1 370.9,109.2 371.2,109.2 371.6,109.2 371.9,109.3 372.2,109.3 372.6,109.3 372.9,109.3 373.3,109.4 373.6,109.4 374.0,109.4 374.3,109.5 374.7,109.5 375.0,109.5 375.4,109.5 375.7,109.6 376.1,109.6 376.4,109.6 376.8,109.7 377.1,109.7 377.5,109.7 377.8,109.7 378.2,109.8 378.5,109.8 378.9,109.8 379.2,109.9 379.5,109.9 379.9,109.9 380.2,110.0 380.6,110.0 380.9,110.0 381.3,110.0 381.6,110.1 382.0,110.1 382.3,110.1 382.7,110.2 383.0,110.2 383.4,110.2 383.7,110.3 384.1,110.3 384.4,110.3 384.8,110.4 385.1,110.4 385.5,110.4 385.8,110.5 386.1,110.5 386.5,110.5 386.8,110.6 387.2,110.6 387.5,110.6 387.9,110.7 388.2,110.7 388.6,110.7 388.9,110.8 389.3,110.8 389.6,110.9 390.0,110.9 390.3,110.9 390.7,111.0 391.0,111.0 391.4,111.1 391.7,111.1 392.1,111.1 392.4,111.2 392.7,111.2 393.1,111.3 393.4,111.3 393.8,111.4 394.1,111.4 394.5,111.5 394.8,111.5 395.2,111.6 395.5,111.6 395.9,111.7 396.2,111.7 396.6,111.8 396.9,111.8 397.3,111.9 397.6,111.9 398.0,112.0 398.3,112.0 398.7,112.1 399.0,112.1" fill="none" stroke="#0000ff" stroke-width="0.95" stroke-linejoin="bevel"/>
</g>
<rect x="466.90" y="16.45" width="347.45" height="98.85" fill="none" stroke="#303030" stroke-width="0.9"/>
<text x="467.01" y="128.10" text-anchor="middle" font-size="9.5" letter-spacing="0.22">−40</text>
<line x1="484.27" y1="115.30" x2="484.27" y2="114.00" stroke="#303030" stroke-width="0.9"/>
<line x1="484.27" y1="16.45" x2="484.27" y2="17.75" stroke="#303030" stroke-width="0.9"/>
<line x1="501.64" y1="115.30" x2="501.64" y2="114.00" stroke="#303030" stroke-width="0.9"/>
<line x1="501.64" y1="16.45" x2="501.64" y2="17.75" stroke="#303030" stroke-width="0.9"/>
<line x1="519.02" y1="115.30" x2="519.02" y2="114.00" stroke="#303030" stroke-width="0.9"/>
<line x1="519.02" y1="16.45" x2="519.02" y2="17.75" stroke="#303030" stroke-width="0.9"/>
<line x1="536.39" y1="115.30" x2="536.39" y2="112.90" stroke="#303030" stroke-width="0.9"/>
<line x1="536.39" y1="16.45" x2="536.39" y2="18.85" stroke="#303030" stroke-width="0.9"/>
<text x="536.50" y="128.10" text-anchor="middle" font-size="9.5" letter-spacing="0.22">−20</text>
<line x1="553.76" y1="115.30" x2="553.76" y2="114.00" stroke="#303030" stroke-width="0.9"/>
<line x1="553.76" y1="16.45" x2="553.76" y2="17.75" stroke="#303030" stroke-width="0.9"/>
<line x1="571.13" y1="115.30" x2="571.13" y2="114.00" stroke="#303030" stroke-width="0.9"/>
<line x1="571.13" y1="16.45" x2="571.13" y2="17.75" stroke="#303030" stroke-width="0.9"/>
<line x1="588.51" y1="115.30" x2="588.51" y2="114.00" stroke="#303030" stroke-width="0.9"/>
<line x1="588.51" y1="16.45" x2="588.51" y2="17.75" stroke="#303030" stroke-width="0.9"/>
<line x1="605.88" y1="115.30" x2="605.88" y2="112.90" stroke="#303030" stroke-width="0.9"/>
<line x1="605.88" y1="16.45" x2="605.88" y2="18.85" stroke="#303030" stroke-width="0.9"/>
<text x="605.99" y="128.10" text-anchor="middle" font-size="9.5" letter-spacing="0.22">0</text>
<line x1="623.25" y1="115.30" x2="623.25" y2="114.00" stroke="#303030" stroke-width="0.9"/>
<line x1="623.25" y1="16.45" x2="623.25" y2="17.75" stroke="#303030" stroke-width="0.9"/>
<line x1="640.62" y1="115.30" x2="640.62" y2="114.00" stroke="#303030" stroke-width="0.9"/>
<line x1="640.62" y1="16.45" x2="640.62" y2="17.75" stroke="#303030" stroke-width="0.9"/>
<line x1="658.00" y1="115.30" x2="658.00" y2="114.00" stroke="#303030" stroke-width="0.9"/>
<line x1="658.00" y1="16.45" x2="658.00" y2="17.75" stroke="#303030" stroke-width="0.9"/>
<line x1="675.37" y1="115.30" x2="675.37" y2="112.90" stroke="#303030" stroke-width="0.9"/>
<line x1="675.37" y1="16.45" x2="675.37" y2="18.85" stroke="#303030" stroke-width="0.9"/>
<text x="675.48" y="128.10" text-anchor="middle" font-size="9.5" letter-spacing="0.22">20</text>
<line x1="692.74" y1="115.30" x2="692.74" y2="114.00" stroke="#303030" stroke-width="0.9"/>
<line x1="692.74" y1="16.45" x2="692.74" y2="17.75" stroke="#303030" stroke-width="0.9"/>
<line x1="710.12" y1="115.30" x2="710.12" y2="114.00" stroke="#303030" stroke-width="0.9"/>
<line x1="710.12" y1="16.45" x2="710.12" y2="17.75" stroke="#303030" stroke-width="0.9"/>
<line x1="727.49" y1="115.30" x2="727.49" y2="114.00" stroke="#303030" stroke-width="0.9"/>
<line x1="727.49" y1="16.45" x2="727.49" y2="17.75" stroke="#303030" stroke-width="0.9"/>
<line x1="744.86" y1="115.30" x2="744.86" y2="112.90" stroke="#303030" stroke-width="0.9"/>
<line x1="744.86" y1="16.45" x2="744.86" y2="18.85" stroke="#303030" stroke-width="0.9"/>
<text x="744.97" y="128.10" text-anchor="middle" font-size="9.5" letter-spacing="0.22">40</text>
<line x1="762.23" y1="115.30" x2="762.23" y2="114.00" stroke="#303030" stroke-width="0.9"/>
<line x1="762.23" y1="16.45" x2="762.23" y2="17.75" stroke="#303030" stroke-width="0.9"/>
<line x1="779.61" y1="115.30" x2="779.61" y2="114.00" stroke="#303030" stroke-width="0.9"/>
<line x1="779.61" y1="16.45" x2="779.61" y2="17.75" stroke="#303030" stroke-width="0.9"/>
<line x1="796.98" y1="115.30" x2="796.98" y2="114.00" stroke="#303030" stroke-width="0.9"/>
<line x1="796.98" y1="16.45" x2="796.98" y2="17.75" stroke="#303030" stroke-width="0.9"/>
<text x="814.46" y="128.10" text-anchor="middle" font-size="9.5" letter-spacing="0.22">60</text>
<text x="464.32" y="115.70" text-anchor="end" font-size="9.5" letter-spacing="0.22">0.75</text>
<line x1="466.90" y1="111.35" x2="470.70" y2="111.35" stroke="#303030" stroke-width="0.9"/>
<line x1="814.35" y1="111.35" x2="810.55" y2="111.35" stroke="#303030" stroke-width="0.9"/>
<line x1="466.90" y1="107.39" x2="470.70" y2="107.39" stroke="#303030" stroke-width="0.9"/>
<line x1="814.35" y1="107.39" x2="810.55" y2="107.39" stroke="#303030" stroke-width="0.9"/>
<line x1="466.90" y1="103.44" x2="470.70" y2="103.44" stroke="#303030" stroke-width="0.9"/>
<line x1="814.35" y1="103.44" x2="810.55" y2="103.44" stroke="#303030" stroke-width="0.9"/>
<line x1="466.90" y1="99.48" x2="470.70" y2="99.48" stroke="#303030" stroke-width="0.9"/>
<line x1="814.35" y1="99.48" x2="810.55" y2="99.48" stroke="#303030" stroke-width="0.9"/>
<line x1="466.90" y1="95.53" x2="474.00" y2="95.53" stroke="#303030" stroke-width="0.9"/>
<line x1="814.35" y1="95.53" x2="807.25" y2="95.53" stroke="#303030" stroke-width="0.9"/>
<text x="464.32" y="99.03" text-anchor="end" font-size="9.5" letter-spacing="0.22">0.80</text>
<line x1="466.90" y1="91.58" x2="470.70" y2="91.58" stroke="#303030" stroke-width="0.9"/>
<line x1="814.35" y1="91.58" x2="810.55" y2="91.58" stroke="#303030" stroke-width="0.9"/>
<line x1="466.90" y1="87.62" x2="470.70" y2="87.62" stroke="#303030" stroke-width="0.9"/>
<line x1="814.35" y1="87.62" x2="810.55" y2="87.62" stroke="#303030" stroke-width="0.9"/>
<line x1="466.90" y1="83.67" x2="470.70" y2="83.67" stroke="#303030" stroke-width="0.9"/>
<line x1="814.35" y1="83.67" x2="810.55" y2="83.67" stroke="#303030" stroke-width="0.9"/>
<line x1="466.90" y1="79.71" x2="470.70" y2="79.71" stroke="#303030" stroke-width="0.9"/>
<line x1="814.35" y1="79.71" x2="810.55" y2="79.71" stroke="#303030" stroke-width="0.9"/>
<line x1="466.90" y1="75.76" x2="474.00" y2="75.76" stroke="#303030" stroke-width="0.9"/>
<line x1="814.35" y1="75.76" x2="807.25" y2="75.76" stroke="#303030" stroke-width="0.9"/>
<text x="464.32" y="79.26" text-anchor="end" font-size="9.5" letter-spacing="0.22">0.85</text>
<line x1="466.90" y1="71.81" x2="470.70" y2="71.81" stroke="#303030" stroke-width="0.9"/>
<line x1="814.35" y1="71.81" x2="810.55" y2="71.81" stroke="#303030" stroke-width="0.9"/>
<line x1="466.90" y1="67.85" x2="470.70" y2="67.85" stroke="#303030" stroke-width="0.9"/>
<line x1="814.35" y1="67.85" x2="810.55" y2="67.85" stroke="#303030" stroke-width="0.9"/>
<line x1="466.90" y1="63.90" x2="470.70" y2="63.90" stroke="#303030" stroke-width="0.9"/>
<line x1="814.35" y1="63.90" x2="810.55" y2="63.90" stroke="#303030" stroke-width="0.9"/>
<line x1="466.90" y1="59.94" x2="470.70" y2="59.94" stroke="#303030" stroke-width="0.9"/>
<line x1="814.35" y1="59.94" x2="810.55" y2="59.94" stroke="#303030" stroke-width="0.9"/>
<line x1="466.90" y1="55.99" x2="474.00" y2="55.99" stroke="#303030" stroke-width="0.9"/>
<line x1="814.35" y1="55.99" x2="807.25" y2="55.99" stroke="#303030" stroke-width="0.9"/>
<text x="464.32" y="59.49" text-anchor="end" font-size="9.5" letter-spacing="0.22">0.90</text>
<line x1="466.90" y1="52.04" x2="470.70" y2="52.04" stroke="#303030" stroke-width="0.9"/>
<line x1="814.35" y1="52.04" x2="810.55" y2="52.04" stroke="#303030" stroke-width="0.9"/>
<line x1="466.90" y1="48.08" x2="470.70" y2="48.08" stroke="#303030" stroke-width="0.9"/>
<line x1="814.35" y1="48.08" x2="810.55" y2="48.08" stroke="#303030" stroke-width="0.9"/>
<line x1="466.90" y1="44.13" x2="470.70" y2="44.13" stroke="#303030" stroke-width="0.9"/>
<line x1="814.35" y1="44.13" x2="810.55" y2="44.13" stroke="#303030" stroke-width="0.9"/>
<line x1="466.90" y1="40.17" x2="470.70" y2="40.17" stroke="#303030" stroke-width="0.9"/>
<line x1="814.35" y1="40.17" x2="810.55" y2="40.17" stroke="#303030" stroke-width="0.9"/>
<line x1="466.90" y1="36.22" x2="474.00" y2="36.22" stroke="#303030" stroke-width="0.9"/>
<line x1="814.35" y1="36.22" x2="807.25" y2="36.22" stroke="#303030" stroke-width="0.9"/>
<text x="464.32" y="39.72" text-anchor="end" font-size="9.5" letter-spacing="0.22">0.95</text>
<line x1="466.90" y1="32.27" x2="470.70" y2="32.27" stroke="#303030" stroke-width="0.9"/>
<line x1="814.35" y1="32.27" x2="810.55" y2="32.27" stroke="#303030" stroke-width="0.9"/>
<line x1="466.90" y1="28.31" x2="470.70" y2="28.31" stroke="#303030" stroke-width="0.9"/>
<line x1="814.35" y1="28.31" x2="810.55" y2="28.31" stroke="#303030" stroke-width="0.9"/>
<line x1="466.90" y1="24.36" x2="470.70" y2="24.36" stroke="#303030" stroke-width="0.9"/>
<line x1="814.35" y1="24.36" x2="810.55" y2="24.36" stroke="#303030" stroke-width="0.9"/>
<line x1="466.90" y1="20.40" x2="470.70" y2="20.40" stroke="#303030" stroke-width="0.9"/>
<line x1="814.35" y1="20.40" x2="810.55" y2="20.40" stroke="#303030" stroke-width="0.9"/>
<text x="464.32" y="22.55" text-anchor="end" font-size="9.5" letter-spacing="0.22">1.00</text>
<text x="640.65" y="139.20" text-anchor="middle" font-size="9.5" letter-spacing="0.05" word-spacing="0.9">Time Delay (sec)</text>
<text x="438.20" y="65.88" text-anchor="middle" font-size="9.5" letter-spacing="0.15" transform="rotate(-90 438.20 65.88)">CCF</text>
<g clip-path="url(#cr0)">
<polyline points="466.9,110.2 470.4,108.1 473.8,106.0 477.3,103.8 480.8,101.6 484.3,99.4 487.7,97.1 491.2,94.8 494.7,92.4 498.2,90.0 501.6,87.6 505.1,85.2 508.6,82.7 512.1,80.3 515.5,77.8 519.0,75.3 522.5,72.8 526.0,70.2 529.4,67.7 532.9,65.2 536.4,62.7 539.9,60.2 543.3,57.8 546.8,55.4 550.3,52.9 553.8,50.6 557.2,48.2 560.7,46.0 564.2,43.7 567.7,41.5 571.1,39.4 574.6,37.4 578.1,35.4 581.6,33.5 585.0,31.7 588.5,29.9 592.0,28.3 595.5,26.7 598.9,25.2 602.4,23.9 605.9,22.6 609.4,21.5 612.8,20.4 616.3,19.5 619.8,18.7 623.3,18.0 626.7,17.5 630.2,17.0 633.7,16.7 637.2,16.5 640.6,16.5 644.1,16.5 647.6,16.7 651.0,17.0 654.5,17.5 658.0,18.0 661.5,18.7 664.9,19.5 668.4,20.4 671.9,21.5 675.4,22.6 678.8,23.9 682.3,25.2 685.8,26.7 689.3,28.3 692.7,29.9 696.2,31.7 699.7,33.5 703.2,35.4 706.6,37.4 710.1,39.4 713.6,41.5 717.1,43.7 720.5,46.0 724.0,48.2 727.5,50.6 731.0,52.9 734.4,55.4 737.9,57.8 741.4,60.2 744.9,62.7 748.3,65.2 751.8,67.7 755.3,70.2 758.8,72.8 762.2,75.3 765.7,77.8 769.2,80.3 772.7,82.7 776.1,85.2 779.6,87.6 783.1,90.0 786.6,92.4 790.0,94.8 793.5,97.1 797.0,99.4 800.5,101.6 803.9,103.8 807.4,106.0 810.9,108.1" fill="none" stroke="#222222" stroke-width="0.9" stroke-linejoin="bevel"/>
</g>
<rect x="51.90" y="164.70" width="347.45" height="98.85" fill="none" stroke="#303030" stroke-width="0.9"/>
<text x="52.01" y="276.35" text-anchor="middle" font-size="9.5" letter-spacing="0.22">0</text>
<line x1="69.27" y1="263.55" x2="69.27" y2="262.25" stroke="#303030" stroke-width="0.9"/>
<line x1="69.27" y1="164.70" x2="69.27" y2="166.00" stroke="#303030" stroke-width="0.9"/>
<line x1="86.65" y1="263.55" x2="86.65" y2="262.25" stroke="#303030" stroke-width="0.9"/>
<line x1="86.65" y1="164.70" x2="86.65" y2="166.00" stroke="#303030" stroke-width="0.9"/>
<line x1="104.02" y1="263.55" x2="104.02" y2="262.25" stroke="#303030" stroke-width="0.9"/>
<line x1="104.02" y1="164.70" x2="104.02" y2="166.00" stroke="#303030" stroke-width="0.9"/>
<line x1="121.39" y1="263.55" x2="121.39" y2="261.15" stroke="#303030" stroke-width="0.9"/>
<line x1="121.39" y1="164.70" x2="121.39" y2="167.10" stroke="#303030" stroke-width="0.9"/>
<text x="121.50" y="276.35" text-anchor="middle" font-size="9.5" letter-spacing="0.22">200</text>
<line x1="138.76" y1="263.55" x2="138.76" y2="262.25" stroke="#303030" stroke-width="0.9"/>
<line x1="138.76" y1="164.70" x2="138.76" y2="166.00" stroke="#303030" stroke-width="0.9"/>
<line x1="156.14" y1="263.55" x2="156.14" y2="262.25" stroke="#303030" stroke-width="0.9"/>
<line x1="156.14" y1="164.70" x2="156.14" y2="166.00" stroke="#303030" stroke-width="0.9"/>
<line x1="173.51" y1="263.55" x2="173.51" y2="262.25" stroke="#303030" stroke-width="0.9"/>
<line x1="173.51" y1="164.70" x2="173.51" y2="166.00" stroke="#303030" stroke-width="0.9"/>
<line x1="190.88" y1="263.55" x2="190.88" y2="261.15" stroke="#303030" stroke-width="0.9"/>
<line x1="190.88" y1="164.70" x2="190.88" y2="167.10" stroke="#303030" stroke-width="0.9"/>
<text x="190.99" y="276.35" text-anchor="middle" font-size="9.5" letter-spacing="0.22">400</text>
<line x1="208.25" y1="263.55" x2="208.25" y2="262.25" stroke="#303030" stroke-width="0.9"/>
<line x1="208.25" y1="164.70" x2="208.25" y2="166.00" stroke="#303030" stroke-width="0.9"/>
<line x1="225.63" y1="263.55" x2="225.63" y2="262.25" stroke="#303030" stroke-width="0.9"/>
<line x1="225.63" y1="164.70" x2="225.63" y2="166.00" stroke="#303030" stroke-width="0.9"/>
<line x1="243.00" y1="263.55" x2="243.00" y2="262.25" stroke="#303030" stroke-width="0.9"/>
<line x1="243.00" y1="164.70" x2="243.00" y2="166.00" stroke="#303030" stroke-width="0.9"/>
<line x1="260.37" y1="263.55" x2="260.37" y2="261.15" stroke="#303030" stroke-width="0.9"/>
<line x1="260.37" y1="164.70" x2="260.37" y2="167.10" stroke="#303030" stroke-width="0.9"/>
<text x="260.48" y="276.35" text-anchor="middle" font-size="9.5" letter-spacing="0.22">600</text>
<line x1="277.74" y1="263.55" x2="277.74" y2="262.25" stroke="#303030" stroke-width="0.9"/>
<line x1="277.74" y1="164.70" x2="277.74" y2="166.00" stroke="#303030" stroke-width="0.9"/>
<line x1="295.12" y1="263.55" x2="295.12" y2="262.25" stroke="#303030" stroke-width="0.9"/>
<line x1="295.12" y1="164.70" x2="295.12" y2="166.00" stroke="#303030" stroke-width="0.9"/>
<line x1="312.49" y1="263.55" x2="312.49" y2="262.25" stroke="#303030" stroke-width="0.9"/>
<line x1="312.49" y1="164.70" x2="312.49" y2="166.00" stroke="#303030" stroke-width="0.9"/>
<line x1="329.86" y1="263.55" x2="329.86" y2="261.15" stroke="#303030" stroke-width="0.9"/>
<line x1="329.86" y1="164.70" x2="329.86" y2="167.10" stroke="#303030" stroke-width="0.9"/>
<text x="329.97" y="276.35" text-anchor="middle" font-size="9.5" letter-spacing="0.22">800</text>
<line x1="347.23" y1="263.55" x2="347.23" y2="262.25" stroke="#303030" stroke-width="0.9"/>
<line x1="347.23" y1="164.70" x2="347.23" y2="166.00" stroke="#303030" stroke-width="0.9"/>
<line x1="364.61" y1="263.55" x2="364.61" y2="262.25" stroke="#303030" stroke-width="0.9"/>
<line x1="364.61" y1="164.70" x2="364.61" y2="166.00" stroke="#303030" stroke-width="0.9"/>
<line x1="381.98" y1="263.55" x2="381.98" y2="262.25" stroke="#303030" stroke-width="0.9"/>
<line x1="381.98" y1="164.70" x2="381.98" y2="166.00" stroke="#303030" stroke-width="0.9"/>
<text x="399.46" y="276.35" text-anchor="middle" font-size="9.5" letter-spacing="0.22">1000</text>
<text x="49.32" y="263.95" text-anchor="end" font-size="9.5" letter-spacing="0.22">−0.5</text>
<line x1="51.90" y1="258.61" x2="55.70" y2="258.61" stroke="#303030" stroke-width="0.9"/>
<line x1="399.35" y1="258.61" x2="395.55" y2="258.61" stroke="#303030" stroke-width="0.9"/>
<line x1="51.90" y1="253.67" x2="55.70" y2="253.67" stroke="#303030" stroke-width="0.9"/>
<line x1="399.35" y1="253.67" x2="395.55" y2="253.67" stroke="#303030" stroke-width="0.9"/>
<line x1="51.90" y1="248.72" x2="55.70" y2="248.72" stroke="#303030" stroke-width="0.9"/>
<line x1="399.35" y1="248.72" x2="395.55" y2="248.72" stroke="#303030" stroke-width="0.9"/>
<line x1="51.90" y1="243.78" x2="55.70" y2="243.78" stroke="#303030" stroke-width="0.9"/>
<line x1="399.35" y1="243.78" x2="395.55" y2="243.78" stroke="#303030" stroke-width="0.9"/>
<line x1="51.90" y1="238.84" x2="59.00" y2="238.84" stroke="#303030" stroke-width="0.9"/>
<line x1="399.35" y1="238.84" x2="392.25" y2="238.84" stroke="#303030" stroke-width="0.9"/>
<text x="49.32" y="242.34" text-anchor="end" font-size="9.5" letter-spacing="0.22">0.0</text>
<line x1="51.90" y1="233.90" x2="55.70" y2="233.90" stroke="#303030" stroke-width="0.9"/>
<line x1="399.35" y1="233.90" x2="395.55" y2="233.90" stroke="#303030" stroke-width="0.9"/>
<line x1="51.90" y1="228.95" x2="55.70" y2="228.95" stroke="#303030" stroke-width="0.9"/>
<line x1="399.35" y1="228.95" x2="395.55" y2="228.95" stroke="#303030" stroke-width="0.9"/>
<line x1="51.90" y1="224.01" x2="55.70" y2="224.01" stroke="#303030" stroke-width="0.9"/>
<line x1="399.35" y1="224.01" x2="395.55" y2="224.01" stroke="#303030" stroke-width="0.9"/>
<line x1="51.90" y1="219.07" x2="55.70" y2="219.07" stroke="#303030" stroke-width="0.9"/>
<line x1="399.35" y1="219.07" x2="395.55" y2="219.07" stroke="#303030" stroke-width="0.9"/>
<line x1="51.90" y1="214.12" x2="59.00" y2="214.12" stroke="#303030" stroke-width="0.9"/>
<line x1="399.35" y1="214.12" x2="392.25" y2="214.12" stroke="#303030" stroke-width="0.9"/>
<text x="49.32" y="217.62" text-anchor="end" font-size="9.5" letter-spacing="0.22">0.5</text>
<line x1="51.90" y1="209.18" x2="55.70" y2="209.18" stroke="#303030" stroke-width="0.9"/>
<line x1="399.35" y1="209.18" x2="395.55" y2="209.18" stroke="#303030" stroke-width="0.9"/>
<line x1="51.90" y1="204.24" x2="55.70" y2="204.24" stroke="#303030" stroke-width="0.9"/>
<line x1="399.35" y1="204.24" x2="395.55" y2="204.24" stroke="#303030" stroke-width="0.9"/>
<line x1="51.90" y1="199.30" x2="55.70" y2="199.30" stroke="#303030" stroke-width="0.9"/>
<line x1="399.35" y1="199.30" x2="395.55" y2="199.30" stroke="#303030" stroke-width="0.9"/>
<line x1="51.90" y1="194.36" x2="55.70" y2="194.36" stroke="#303030" stroke-width="0.9"/>
<line x1="399.35" y1="194.36" x2="395.55" y2="194.36" stroke="#303030" stroke-width="0.9"/>
<line x1="51.90" y1="189.41" x2="59.00" y2="189.41" stroke="#303030" stroke-width="0.9"/>
<line x1="399.35" y1="189.41" x2="392.25" y2="189.41" stroke="#303030" stroke-width="0.9"/>
<text x="49.32" y="192.91" text-anchor="end" font-size="9.5" letter-spacing="0.22">1.0</text>
<line x1="51.90" y1="184.47" x2="55.70" y2="184.47" stroke="#303030" stroke-width="0.9"/>
<line x1="399.35" y1="184.47" x2="395.55" y2="184.47" stroke="#303030" stroke-width="0.9"/>
<line x1="51.90" y1="179.53" x2="55.70" y2="179.53" stroke="#303030" stroke-width="0.9"/>
<line x1="399.35" y1="179.53" x2="395.55" y2="179.53" stroke="#303030" stroke-width="0.9"/>
<line x1="51.90" y1="174.58" x2="55.70" y2="174.58" stroke="#303030" stroke-width="0.9"/>
<line x1="399.35" y1="174.58" x2="395.55" y2="174.58" stroke="#303030" stroke-width="0.9"/>
<line x1="51.90" y1="169.64" x2="55.70" y2="169.64" stroke="#303030" stroke-width="0.9"/>
<line x1="399.35" y1="169.64" x2="395.55" y2="169.64" stroke="#303030" stroke-width="0.9"/>
<text x="49.32" y="170.80" text-anchor="end" font-size="9.5" letter-spacing="0.22">1.5</text>
<text x="225.65" y="287.45" text-anchor="middle" font-size="9.5" letter-spacing="0.05" word-spacing="0.9">Time (sec)</text>
<text x="21.40" y="214.12" text-anchor="middle" font-size="9.5" letter-spacing="0.15" transform="rotate(-90 21.40 214.12)">Rate</text>
<text x="225.63" y="160.10" text-anchor="middle" font-size="11.6" letter-spacing="0.02" word-spacing="1.55">Light Curves with Noise Level: 20.00 %</text>
<g clip-path="url(#cl1)">
<polyline points="51.9,246.0 52.2,237.8 52.6,245.4 52.9,241.6 53.3,235.6 53.6,243.7 54.0,250.9 54.3,240.6 54.7,229.0 55.0,237.8 55.4,249.1 55.7,240.4 56.1,235.7 56.4,229.2 56.8,242.6 57.1,250.0 57.5,213.9 57.8,230.9 58.2,237.6 58.5,230.1 58.8,238.4 59.2,246.5 59.5,251.3 59.9,244.4 60.2,245.9 60.6,232.1 60.9,250.6 61.3,243.9 61.6,248.7 62.0,244.1 62.3,244.6 62.7,244.4 63.0,248.0 63.4,247.2 63.7,232.0 64.1,256.4 64.4,253.2 64.8,252.5 65.1,250.9 65.5,234.9 65.8,242.5 66.1,234.8 66.5,238.8 66.8,239.5 67.2,232.1 67.5,237.5 67.9,242.6 68.2,241.0 68.6,232.5 68.9,228.7 69.3,236.8 69.6,243.8 70.0,234.0 70.3,245.8 70.7,248.2 71.0,241.9 71.4,241.2 71.7,230.8 72.1,243.1 72.4,235.1 72.7,210.7 73.1,222.4 73.4,227.6 73.8,250.7 74.1,226.4 74.5,248.8 74.8,246.7 75.2,233.8 75.5,229.9 75.9,228.7 76.2,252.6 76.6,243.4 76.9,224.9 77.3,222.0 77.6,241.8 78.0,235.6 78.3,235.9 78.7,237.3 79.0,234.9 79.3,217.7 79.7,254.2 80.0,239.8 80.4,234.7 80.7,230.0 81.1,230.3 81.4,240.1 81.8,231.6 82.1,237.5 82.5,219.8 82.8,241.2 83.2,241.3 83.5,233.8 83.9,235.7 84.2,251.6 84.6,242.4 84.9,242.4 85.3,235.9 85.6,230.3 86.0,212.0 86.3,214.7 86.6,209.6 87.0,222.4 87.3,232.9 87.7,222.7 88.0,218.5 88.4,208.1 88.7,213.2 89.1,223.1 89.4,193.6 89.8,203.6 90.1,199.8 90.5,218.0 90.8,206.9 91.2,216.3 91.5,193.8 91.9,180.5 92.2,211.2 92.6,209.4 92.9,199.3 93.2,198.9 93.6,184.7 93.9,192.1 94.3,195.2 94.6,196.1 95.0,173.9 95.3,192.8 95.7,202.0 96.0,174.8 96.4,185.4 96.7,192.1 97.1,196.2 97.4,172.6 97.8,200.3 98.1,170.1 98.5,181.6 98.8,202.3 99.2,177.8 99.5,183.4 99.8,205.8 100.2,199.8 100.5,204.6 100.9,202.4 101.2,219.8 101.6,186.7 101.9,202.6 102.3,216.4 102.6,196.4 103.0,186.3 103.3,202.5 103.7,192.0 104.0,195.8 104.4,204.3 104.7,212.5 105.1,193.8 105.4,196.9 105.8,200.1 106.1,213.4 106.4,201.2 106.8,212.5 107.1,191.1 107.5,207.7 107.8,199.7 108.2,212.2 108.5,225.7 108.9,221.5 109.2,226.0 109.6,221.0 109.9,209.3 110.3,204.3 110.6,231.5 111.0,224.5 111.3,237.3 111.7,216.0 112.0,229.3 112.4,238.6 112.7,224.1 113.1,219.4 113.4,220.4 113.7,228.9 114.1,230.9 114.4,240.3 114.8,237.9 115.1,216.8 115.5,228.9 115.8,241.1 116.2,225.9 116.5,247.5 116.9,225.1 117.2,221.1 117.6,216.2 117.9,212.9 118.3,237.7 118.6,243.8 119.0,242.1 119.3,223.5 119.7,243.8 120.0,238.5 120.3,243.5 120.7,223.9 121.0,244.8 121.4,231.6 121.7,227.8 122.1,203.5 122.4,231.1 122.8,226.8 123.1,238.9 123.5,247.9 123.8,256.0 124.2,236.7 124.5,241.6 124.9,207.7 125.2,237.7 125.6,251.4 125.9,229.2 126.3,238.2 126.6,248.5 126.9,230.6 127.3,226.9 127.6,240.0 128.0,255.2 128.3,237.1 128.7,230.9 129.0,249.6 129.4,243.1 129.7,210.2 130.1,242.4 130.4,246.7 130.8,255.0 131.1,228.7 131.5,227.7 131.8,211.3 132.2,239.2 132.5,236.1 132.9,218.9 133.2,238.1 133.6,243.4 133.9,236.5 134.2,234.7 134.6,235.7 134.9,247.5 135.3,226.6 135.6,229.0 136.0,247.3 136.3,243.3 136.7,234.6 137.0,221.0 137.4,224.5 137.7,236.9 138.1,230.8 138.4,230.6 138.8,231.0 139.1,235.7 139.5,238.8 139.8,234.9 140.2,234.5 140.5,228.5 140.8,245.4 141.2,219.4 141.5,217.2 141.9,234.8 142.2,232.5 142.6,243.7 142.9,223.0 143.3,230.6 143.6,226.7 144.0,234.7 144.3,239.2 144.7,230.0 145.0,234.6 145.4,237.3 145.7,224.9 146.1,226.7 146.4,213.9 146.8,232.0 147.1,199.4 147.4,243.4 147.8,208.4 148.1,238.4 148.5,208.2 148.8,241.6 149.2,240.0 149.5,234.1 149.9,215.1 150.2,222.1 150.6,199.0 150.9,235.9 151.3,215.4 151.6,234.8 152.0,242.3 152.3,217.2 152.7,233.7 153.0,226.6 153.4,209.7 153.7,246.8 154.1,232.9 154.4,212.9 154.7,229.7 155.1,218.8 155.4,244.9 155.8,217.6 156.1,216.2 156.5,228.0 156.8,210.4 157.2,231.0 157.5,210.8 157.9,232.6 158.2,220.0 158.6,234.8 158.9,224.9 159.3,223.1 159.6,231.3 160.0,235.7 160.3,225.4 160.7,208.0 161.0,210.7 161.3,206.4 161.7,209.7 162.0,208.3 162.4,226.2 162.7,227.2 163.1,210.2 163.4,229.6 163.8,224.7 164.1,220.8 164.5,208.3 164.8,208.0 165.2,221.3 165.5,216.8 165.9,217.3 166.2,220.1 166.6,210.5 166.9,221.8 167.3,208.8 167.6,224.6 167.9,235.3 168.3,217.6 168.6,205.9 169.0,226.4 169.3,227.3 169.7,228.2 170.0,204.7 170.4,230.5 170.7,229.7 171.1,202.5 171.4,213.1 171.8,211.7 172.1,222.9 172.5,224.5 172.8,207.1 173.2,198.1 173.5,224.6 173.9,200.8 174.2,210.5 174.5,199.0 174.9,211.2 175.2,204.2 175.6,218.4 175.9,218.4 176.3,206.2 176.6,219.4 177.0,224.3 177.3,207.9 177.7,226.4 178.0,226.3 178.4,209.3 178.7,206.1 179.1,212.4 179.4,216.9 179.8,221.8 180.1,221.0 180.5,209.5 180.8,238.1 181.2,210.9 181.5,221.6 181.8,228.2 182.2,213.2 182.5,224.1 182.9,194.4 183.2,222.6 183.6,224.4 183.9,204.6 184.3,222.6 184.6,210.7 185.0,228.7 185.3,211.4 185.7,221.0 186.0,242.6 186.4,231.7 186.7,224.1 187.1,202.0 187.4,214.7 187.8,226.0 188.1,215.2 188.4,211.7 188.8,209.9 189.1,210.0 189.5,221.8 189.8,196.3 190.2,205.9 190.5,214.1 190.9,219.8 191.2,216.5 191.6,195.5 191.9,205.8 192.3,216.9 192.6,211.7 193.0,205.7 193.3,209.5 193.7,219.8 194.0,212.3 194.4,206.9 194.7,196.3 195.0,239.6 195.4,202.0 195.7,212.1 196.1,204.5 196.4,209.7 196.8,217.9 197.1,208.8 197.5,225.4 197.8,207.7 198.2,212.7 198.5,201.2 198.9,212.9 199.2,225.4 199.6,220.6 199.9,204.4 200.3,227.3 200.6,225.0 201.0,212.4 201.3,209.5 201.7,198.4 202.0,223.3 202.3,215.3 202.7,212.8 203.0,222.0 203.4,209.4 203.7,211.5 204.1,208.7 204.4,212.8 204.8,226.0 205.1,220.4 205.5,207.2 205.8,215.5 206.2,202.2 206.5,220.6 206.9,218.0 207.2,233.5 207.6,211.3 207.9,234.9 208.3,207.4 208.6,209.2 208.9,215.7 209.3,222.9 209.6,211.1 210.0,223.0 210.3,193.2 210.7,192.5 211.0,218.3 211.4,212.5 211.7,204.6 212.1,209.4 212.4,215.5 212.8,209.9 213.1,193.9 213.5,212.2 213.8,220.4 214.2,206.2 214.5,197.3 214.9,202.6 215.2,218.8 215.5,195.9 215.9,214.1 216.2,214.0 216.6,220.4 216.9,205.3 217.3,213.6 217.6,208.6 218.0,206.1 218.3,211.9 218.7,232.2 219.0,219.8 219.4,202.2 219.7,217.7 220.1,210.9 220.4,209.7 220.8,218.4 221.1,230.7 221.5,215.2 221.8,209.0 222.2,221.5 222.5,214.2 222.8,219.3 223.2,218.1 223.5,224.7 223.9,214.1 224.2,227.4 224.6,207.5 224.9,218.7 225.3,212.8 225.6,205.0 226.0,206.7 226.3,242.3 226.7,218.0 227.0,215.9 227.4,219.6 227.7,211.8 228.1,211.9 228.4,205.1 228.8,229.9 229.1,222.7 229.4,222.6 229.8,207.4 230.1,200.1 230.5,197.9 230.8,220.0 231.2,198.8 231.5,218.5 231.9,232.4 232.2,221.6 232.6,216.4 232.9,212.7 233.3,212.3 233.6,202.2 234.0,223.2 234.3,216.1 234.7,224.5 235.0,234.8 235.4,201.9 235.7,194.3 236.0,203.0 236.4,206.0 236.7,207.3 237.1,218.3 237.4,220.9 237.8,213.8 238.1,187.6 238.5,214.3 238.8,210.7 239.2,226.9 239.5,195.5 239.9,213.1 240.2,222.9 240.6,211.1 240.9,209.7 241.3,232.4 241.6,228.8 242.0,214.7 242.3,222.9 242.7,206.6 243.0,229.2 243.3,209.0 243.7,220.2 244.0,216.3 244.4,220.6 244.7,214.7 245.1,241.3 245.4,215.4 245.8,217.6 246.1,216.8 246.5,220.2 246.8,229.4 247.2,226.2 247.5,221.8 247.9,200.4 248.2,217.3 248.6,204.4 248.9,229.9 249.3,220.6 249.6,247.4 249.9,215.5 250.3,213.9 250.6,224.7 251.0,212.8 251.3,230.0 251.7,205.2 252.0,237.8 252.4,208.3 252.7,240.8 253.1,215.0 253.4,218.6 253.8,220.2 254.1,222.5 254.5,226.6 254.8,225.1 255.2,226.1 255.5,217.0 255.9,212.2 256.2,213.2 256.5,221.3 256.9,213.9 257.2,235.0 257.6,214.2 257.9,217.7 258.3,235.4 258.6,227.8 259.0,209.4 259.3,226.2 259.7,239.4 260.0,214.8 260.4,241.3 260.7,231.9 261.1,222.1 261.4,218.3 261.8,215.5 262.1,218.2 262.5,222.1 262.8,207.7 263.1,236.6 263.5,241.2 263.8,226.4 264.2,230.4 264.5,226.5 264.9,224.9 265.2,239.4 265.6,242.7 265.9,210.2 266.3,205.9 266.6,229.1 267.0,232.2 267.3,217.2 267.7,215.9 268.0,233.2 268.4,219.7 268.7,204.2 269.1,227.7 269.4,222.5 269.8,227.3 270.1,236.3 270.4,210.0 270.8,212.8 271.1,229.7 271.5,210.1 271.8,202.0 272.2,210.3 272.5,219.8 272.9,223.3 273.2,213.5 273.6,228.9 273.9,220.5 274.3,199.6 274.6,222.1 275.0,218.4 275.3,223.5 275.7,227.6 276.0,220.0 276.4,232.0 276.7,224.0 277.0,206.3 277.4,216.4 277.7,231.2 278.1,226.6 278.4,215.8 278.8,231.1 279.1,244.1 279.5,236.3 279.8,216.4 280.2,211.8 280.5,242.9 280.9,216.7 281.2,216.0 281.6,233.7 281.9,224.9 282.3,238.7 282.6,226.7 283.0,219.5 283.3,231.5 283.6,216.9 284.0,222.0 284.3,219.4 284.7,232.0 285.0,224.8 285.4,230.1 285.7,233.5 286.1,224.4 286.4,240.4 286.8,209.2 287.1,230.1 287.5,213.6 287.8,225.3 288.2,224.4 288.5,223.8 288.9,195.2 289.2,223.7 289.6,232.2 289.9,218.8 290.3,226.3 290.6,239.7 290.9,228.4 291.3,245.7 291.6,231.3 292.0,214.1 292.3,232.9 292.7,227.1 293.0,221.2 293.4,221.6 293.7,237.0 294.1,235.8 294.4,225.4 294.8,222.6 295.1,232.0 295.5,224.1 295.8,246.3 296.2,248.3 296.5,239.4 296.9,224.1 297.2,216.9 297.5,219.0 297.9,207.3 298.2,230.4 298.6,225.5 298.9,226.8 299.3,232.7 299.6,214.3 300.0,217.7 300.3,241.3 300.7,213.9 301.0,219.4 301.4,218.6 301.7,238.6 302.1,232.7 302.4,226.5 302.8,230.8 303.1,216.4 303.5,242.6 303.8,235.9 304.1,224.5 304.5,229.1 304.8,235.9 305.2,231.1 305.5,230.5 305.9,230.3 306.2,220.0 306.6,204.2 306.9,224.5 307.3,259.3 307.6,226.2 308.0,210.1 308.3,226.7 308.7,231.2 309.0,215.7 309.4,244.0 309.7,227.6 310.1,228.5 310.4,224.1 310.8,239.8 311.1,219.8 311.4,233.3 311.8,226.9 312.1,222.9 312.5,247.0 312.8,224.6 313.2,234.2 313.5,219.1 313.9,207.7 314.2,233.8 314.6,220.3 314.9,230.5 315.3,221.1 315.6,207.4 316.0,214.3 316.3,235.0 316.7,229.1 317.0,242.5 317.4,224.6 317.7,241.3 318.0,222.0 318.4,223.9 318.7,228.2 319.1,239.6 319.4,232.8 319.8,245.8 320.1,239.9 320.5,238.5 320.8,240.8 321.2,226.1 321.5,232.0 321.9,218.9 322.2,246.8 322.6,238.1 322.9,217.7 323.3,243.5 323.6,253.4 324.0,232.5 324.3,248.4 324.6,240.2 325.0,239.3 325.3,226.4 325.7,249.0 326.0,229.6 326.4,244.6 326.7,225.0 327.1,247.6 327.4,241.0 327.8,242.4 328.1,236.1 328.5,223.3 328.8,240.6 329.2,224.4 329.5,226.7 329.9,239.5 330.2,238.5 330.6,220.9 330.9,232.8 331.2,211.4 331.6,236.9 331.9,242.5 332.3,221.8 332.6,224.9 333.0,227.8 333.3,243.1 333.7,238.0 334.0,231.1 334.4,232.8 334.7,231.5 335.1,212.4 335.4,232.8 335.8,248.5 336.1,236.1 336.5,232.4 336.8,213.9 337.2,229.2 337.5,237.1 337.9,223.7 338.2,224.5 338.5,215.2 338.9,234.9 339.2,234.3 339.6,227.1 339.9,247.3 340.3,234.4 340.6,230.8 341.0,241.3 341.3,233.9 341.7,233.7 342.0,218.2 342.4,244.2 342.7,222.8 343.1,246.6 343.4,242.4 343.8,241.4 344.1,239.5 344.5,235.4 344.8,237.7 345.1,236.0 345.5,230.7 345.8,234.8 346.2,245.1 346.5,237.1 346.9,223.3 347.2,248.3 347.6,243.1 347.9,226.2 348.3,233.8 348.6,242.4 349.0,241.2 349.3,237.3 349.7,231.2 350.0,232.6 350.4,235.7 350.7,224.5 351.1,253.4 351.4,225.5 351.7,244.8 352.1,239.2 352.4,221.6 352.8,226.3 353.1,223.0 353.5,235.9 353.8,247.1 354.2,241.6 354.5,236.9 354.9,227.1 355.2,227.6 355.6,240.1 355.9,237.0 356.3,233.6 356.6,233.9 357.0,229.6 357.3,220.4 357.7,245.7 358.0,241.1 358.4,244.5 358.7,185.1 359.0,232.9 359.4,217.9 359.7,238.5 360.1,258.1 360.4,232.0 360.8,236.2 361.1,245.1 361.5,228.7 361.8,229.6 362.2,229.1 362.5,249.6 362.9,238.4 363.2,241.1 363.6,223.8 363.9,232.1 364.3,238.5 364.6,229.9 365.0,215.8 365.3,226.7 365.6,241.5 366.0,224.1 366.3,224.7 366.7,248.9 367.0,245.1 367.4,223.2 367.7,231.9 368.1,227.2 368.4,247.1 368.8,246.6 369.1,255.0 369.5,229.6 369.8,238.3 370.2,235.1 370.5,236.0 370.9,212.9 371.2,234.7 371.6,223.0 371.9,221.8 372.2,233.6 372.6,224.5 372.9,226.8 373.3,242.6 373.6,230.7 374.0,214.5 374.3,246.7 374.7,220.8 375.0,251.4 375.4,225.7 375.7,249.2 376.1,228.8 376.4,234.0 376.8,228.1 377.1,222.0 377.5,218.9 377.8,258.5 378.2,241.5 378.5,256.0 378.9,236.7 379.2,238.9 379.5,240.1 379.9,241.6 380.2,232.7 380.6,235.5 380.9,222.6 381.3,244.4 381.6,233.2 382.0,251.3 382.3,247.1 382.7,253.4 383.0,240.8 383.4,235.2 383.7,223.4 384.1,235.1 384.4,238.9 384.8,247.8 385.1,239.0 385.5,242.4 385.8,229.5 386.1,239.4 386.5,228.4 386.8,235.2 387.2,246.6 387.5,213.4 387.9,248.8 388.2,229.7 388.6,242.9 388.9,240.7 389.3,235.4 389.6,256.3 390.0,234.0 390.3,252.0 390.7,228.0 391.0,240.3 391.4,230.3 391.7,240.4 392.1,232.6 392.4,243.8 392.7,241.8 393.1,249.6 393.4,233.6 393.8,236.0 394.1,251.2 394.5,252.0 394.8,244.8 395.2,250.4 395.5,238.0 395.9,243.9 396.2,229.3 396.6,233.1 396.9,237.7 397.3,245.1 397.6,239.3 398.0,230.0 398.3,230.9 398.7,246.4 399.0,217.4" fill="none" stroke="#ff0000" stroke-width="0.7" stroke-linejoin="bevel"/>
<polyline points="51.9,254.0 52.2,244.5 52.6,238.1 52.9,228.7 53.3,241.1 53.6,245.1 54.0,240.8 54.3,234.9 54.7,238.0 55.0,238.9 55.4,238.3 55.7,249.2 56.1,244.2 56.4,251.5 56.8,258.3 57.1,244.6 57.5,241.1 57.8,233.4 58.2,231.3 58.5,229.5 58.8,247.6 59.2,238.5 59.5,245.9 59.9,231.2 60.2,221.5 60.6,246.6 60.9,234.8 61.3,249.6 61.6,249.8 62.0,242.9 62.3,246.5 62.7,243.2 63.0,243.9 63.4,234.9 63.7,241.7 64.1,266.1 64.4,238.6 64.8,244.0 65.1,225.5 65.5,239.4 65.8,232.6 66.1,229.3 66.5,237.3 66.8,237.3 67.2,245.3 67.5,241.9 67.9,238.3 68.2,241.6 68.6,236.7 68.9,250.8 69.3,248.2 69.6,232.9 70.0,219.8 70.3,263.8 70.7,243.0 71.0,224.8 71.4,242.4 71.7,233.2 72.1,253.1 72.4,245.7 72.7,245.6 73.1,238.3 73.4,238.8 73.8,221.2 74.1,243.8 74.5,236.5 74.8,230.7 75.2,235.4 75.5,256.7 75.9,239.3 76.2,251.1 76.6,243.1 76.9,235.5 77.3,236.3 77.6,237.7 78.0,236.0 78.3,231.3 78.7,255.6 79.0,233.8 79.3,230.3 79.7,255.5 80.0,241.3 80.4,235.3 80.7,240.6 81.1,219.0 81.4,241.6 81.8,222.3 82.1,208.4 82.5,223.1 82.8,236.5 83.2,207.6 83.5,214.2 83.9,196.9 84.2,216.0 84.6,231.2 84.9,202.4 85.3,217.3 85.6,224.4 86.0,224.6 86.3,196.4 86.6,207.9 87.0,217.4 87.3,210.2 87.7,201.9 88.0,194.1 88.4,222.6 88.7,190.9 89.1,174.8 89.4,193.6 89.8,190.8 90.1,187.9 90.5,187.1 90.8,184.6 91.2,197.0 91.5,209.3 91.9,192.1 92.2,203.6 92.6,187.8 92.9,184.9 93.2,175.4 93.6,198.6 93.9,204.4 94.3,176.3 94.6,184.0 95.0,171.4 95.3,181.1 95.7,187.9 96.0,173.7 96.4,202.1 96.7,214.2 97.1,180.8 97.4,195.0 97.8,195.7 98.1,180.1 98.5,201.9 98.8,199.2 99.2,207.4 99.5,195.5 99.8,203.7 100.2,189.3 100.5,196.3 100.9,194.0 101.2,209.5 101.6,194.0 101.9,209.1 102.3,188.8 102.6,198.0 103.0,205.2 103.3,221.7 103.7,207.2 104.0,212.7 104.4,219.6 104.7,208.3 105.1,221.5 105.4,208.6 105.8,221.2 106.1,214.4 106.4,220.5 106.8,214.4 107.1,210.0 107.5,215.0 107.8,217.0 108.2,217.6 108.5,223.3 108.9,215.4 109.2,215.2 109.6,210.0 109.9,229.8 110.3,221.9 110.6,219.8 111.0,243.9 111.3,228.5 111.7,233.5 112.0,216.3 112.4,240.3 112.7,241.2 113.1,210.6 113.4,238.6 113.7,234.5 114.1,232.9 114.4,228.3 114.8,230.6 115.1,225.6 115.5,224.7 115.8,214.3 116.2,232.9 116.5,230.8 116.9,215.4 117.2,225.4 117.6,225.0 117.9,247.9 118.3,227.3 118.6,232.0 119.0,234.2 119.3,228.5 119.7,243.4 120.0,239.2 120.3,234.8 120.7,225.8 121.0,232.3 121.4,224.2 121.7,231.0 122.1,230.7 122.4,222.1 122.8,229.3 123.1,241.4 123.5,240.8 123.8,243.2 124.2,213.9 124.5,237.1 124.9,226.7 125.2,216.6 125.6,236.2 125.9,237.5 126.3,250.1 126.6,233.6 126.9,220.8 127.3,221.3 127.6,223.7 128.0,219.2 128.3,245.7 128.7,233.3 129.0,227.4 129.4,219.9 129.7,240.0 130.1,232.5 130.4,241.6 130.8,227.5 131.1,232.0 131.5,223.6 131.8,229.3 132.2,210.7 132.5,220.7 132.9,237.9 133.2,231.8 133.6,221.3 133.9,242.1 134.2,237.8 134.6,238.0 134.9,243.3 135.3,239.9 135.6,214.8 136.0,224.3 136.3,230.7 136.7,226.7 137.0,223.8 137.4,231.1 137.7,240.1 138.1,239.2 138.4,226.3 138.8,223.7 139.1,231.5 139.5,206.4 139.8,214.3 140.2,218.4 140.5,229.5 140.8,220.0 141.2,227.7 141.5,215.8 141.9,239.6 142.2,230.8 142.6,226.9 142.9,237.3 143.3,227.6 143.6,225.9 144.0,220.0 144.3,237.6 144.7,226.5 145.0,246.5 145.4,220.2 145.7,227.3 146.1,219.9 146.4,237.3 146.8,236.5 147.1,238.0 147.4,214.8 147.8,231.1 148.1,221.0 148.5,223.3 148.8,229.4 149.2,214.5 149.5,218.4 149.9,240.6 150.2,227.9 150.6,222.3 150.9,225.5 151.3,230.0 151.6,225.1 152.0,221.9 152.3,227.0 152.7,217.2 153.0,226.1 153.4,205.3 153.7,230.3 154.1,214.4 154.4,229.6 154.7,211.7 155.1,212.7 155.4,218.6 155.8,219.3 156.1,230.6 156.5,224.4 156.8,237.9 157.2,217.1 157.5,212.7 157.9,223.9 158.2,216.6 158.6,219.7 158.9,214.4 159.3,224.1 159.6,220.0 160.0,204.1 160.3,212.3 160.7,202.5 161.0,237.1 161.3,203.1 161.7,209.6 162.0,223.3 162.4,227.3 162.7,211.6 163.1,211.5 163.4,213.8 163.8,215.0 164.1,225.3 164.5,217.3 164.8,226.3 165.2,230.2 165.5,235.5 165.9,218.0 166.2,237.3 166.6,225.6 166.9,216.5 167.3,219.8 167.6,216.7 167.9,219.8 168.3,216.4 168.6,235.0 169.0,220.0 169.3,222.8 169.7,216.6 170.0,204.8 170.4,210.9 170.7,225.5 171.1,212.1 171.4,227.6 171.8,223.5 172.1,209.3 172.5,216.1 172.8,225.5 173.2,218.4 173.5,226.8 173.9,208.1 174.2,216.5 174.5,209.4 174.9,203.7 175.2,224.2 175.6,209.4 175.9,221.1 176.3,221.5 176.6,221.4 177.0,222.3 177.3,230.3 177.7,220.0 178.0,207.4 178.4,223.8 178.7,224.1 179.1,236.6 179.4,222.4 179.8,228.7 180.1,227.4 180.5,213.0 180.8,211.2 181.2,228.1 181.5,226.9 181.8,220.3 182.2,197.2 182.5,209.3 182.9,226.3 183.2,207.5 183.6,225.6 183.9,201.5 184.3,198.1 184.6,208.1 185.0,189.7 185.3,199.3 185.7,223.6 186.0,208.7 186.4,219.5 186.7,221.7 187.1,219.4 187.4,219.5 187.8,215.0 188.1,201.3 188.4,199.6 188.8,200.0 189.1,223.2 189.5,201.7 189.8,219.2 190.2,218.6 190.5,207.2 190.9,207.7 191.2,215.6 191.6,203.5 191.9,206.4 192.3,229.7 192.6,230.2 193.0,218.4 193.3,205.7 193.7,222.6 194.0,213.1 194.4,219.5 194.7,226.1 195.0,232.4 195.4,216.0 195.7,214.7 196.1,200.5 196.4,234.4 196.8,210.6 197.1,215.1 197.5,220.8 197.8,205.3 198.2,212.6 198.5,200.9 198.9,205.5 199.2,216.3 199.6,210.8 199.9,201.6 200.3,207.0 200.6,220.0 201.0,214.3 201.3,217.0 201.7,202.6 202.0,218.1 202.3,225.2 202.7,201.3 203.0,206.3 203.4,198.8 203.7,203.7 204.1,208.7 204.4,211.5 204.8,216.2 205.1,217.1 205.5,210.7 205.8,217.6 206.2,216.5 206.5,219.3 206.9,212.0 207.2,197.9 207.6,196.3 207.9,203.6 208.3,226.8 208.6,198.9 208.9,206.1 209.3,211.6 209.6,200.6 210.0,217.3 210.3,225.9 210.7,221.2 211.0,214.8 211.4,215.5 211.7,215.5 212.1,207.9 212.4,227.0 212.8,229.5 213.1,208.2 213.5,215.6 213.8,202.7 214.2,212.8 214.5,208.3 214.9,202.0 215.2,213.1 215.5,226.6 215.9,196.4 216.2,221.4 216.6,215.4 216.9,211.5 217.3,201.9 217.6,203.5 218.0,215.0 218.3,215.7 218.7,216.4 219.0,214.7 219.4,230.2 219.7,228.4 220.1,209.7 220.4,217.1 220.8,205.7 221.1,218.7 221.5,208.7 221.8,223.8 222.2,225.3 222.5,234.0 222.8,219.3 223.2,207.8 223.5,218.9 223.9,219.4 224.2,214.2 224.6,219.3 224.9,223.4 225.3,226.5 225.6,217.9 226.0,213.9 226.3,224.7 226.7,222.2 227.0,212.7 227.4,215.0 227.7,210.1 228.1,221.4 228.4,199.1 228.8,228.2 229.1,217.8 229.4,214.8 229.8,220.7 230.1,215.1 230.5,203.8 230.8,209.2 231.2,219.1 231.5,241.7 231.9,230.6 232.2,216.3 232.6,226.4 232.9,204.8 233.3,205.2 233.6,222.4 234.0,212.1 234.3,212.6 234.7,210.7 235.0,217.9 235.4,218.3 235.7,225.7 236.0,215.8 236.4,231.9 236.7,220.1 237.1,225.2 237.4,224.9 237.8,214.1 238.1,213.0 238.5,220.5 238.8,216.4 239.2,208.7 239.5,229.1 239.9,221.4 240.2,233.3 240.6,208.1 240.9,219.3 241.3,218.9 241.6,227.7 242.0,219.7 242.3,222.7 242.7,218.1 243.0,222.0 243.3,215.3 243.7,218.7 244.0,223.3 244.4,193.6 244.7,212.1 245.1,210.1 245.4,226.7 245.8,194.8 246.1,217.9 246.5,225.2 246.8,244.0 247.2,214.0 247.5,212.6 247.9,198.4 248.2,213.5 248.6,214.7 248.9,220.4 249.3,219.3 249.6,217.0 249.9,219.9 250.3,216.9 250.6,229.3 251.0,198.7 251.3,241.1 251.7,210.3 252.0,216.9 252.4,214.5 252.7,222.2 253.1,206.3 253.4,213.3 253.8,248.5 254.1,217.4 254.5,205.4 254.8,209.0 255.2,205.8 255.5,222.4 255.9,231.4 256.2,216.3 256.5,222.9 256.9,214.5 257.2,217.4 257.6,225.7 257.9,227.8 258.3,215.5 258.6,219.4 259.0,203.2 259.3,213.6 259.7,203.9 260.0,230.4 260.4,207.9 260.7,236.1 261.1,221.5 261.4,218.9 261.8,214.3 262.1,216.9 262.5,225.6 262.8,227.2 263.1,234.4 263.5,220.8 263.8,226.0 264.2,224.6 264.5,236.1 264.9,218.4 265.2,219.4 265.6,211.4 265.9,219.6 266.3,208.5 266.6,203.1 267.0,213.5 267.3,216.9 267.7,239.6 268.0,227.4 268.4,231.2 268.7,216.1 269.1,223.4 269.4,215.9 269.8,230.5 270.1,230.3 270.4,231.4 270.8,213.5 271.1,229.2 271.5,224.4 271.8,213.0 272.2,215.2 272.5,230.0 272.9,235.6 273.2,223.4 273.6,234.1 273.9,227.3 274.3,223.2 274.6,231.3 275.0,215.8 275.3,206.4 275.7,227.8 276.0,225.0 276.4,198.1 276.7,230.4 277.0,222.3 277.4,231.4 277.7,229.2 278.1,227.7 278.4,218.2 278.8,213.8 279.1,223.2 279.5,229.2 279.8,219.5 280.2,219.5 280.5,231.9 280.9,228.7 281.2,230.0 281.6,233.5 281.9,226.3 282.3,236.7 282.6,239.8 283.0,208.9 283.3,222.8 283.6,243.0 284.0,217.6 284.3,231.9 284.7,230.2 285.0,228.0 285.4,231.5 285.7,239.1 286.1,235.7 286.4,230.8 286.8,231.0 287.1,221.3 287.5,234.5 287.8,215.4 288.2,216.8 288.5,241.0 288.9,240.3 289.2,229.7 289.6,234.1 289.9,226.6 290.3,235.3 290.6,238.2 290.9,224.7 291.3,230.9 291.6,237.2 292.0,243.5 292.3,233.0 292.7,218.9 293.0,220.2 293.4,227.3 293.7,241.1 294.1,227.5 294.4,222.4 294.8,225.3 295.1,224.5 295.5,224.3 295.8,231.1 296.2,226.1 296.5,221.2 296.9,216.6 297.2,237.7 297.5,211.7 297.9,229.3 298.2,243.1 298.6,241.2 298.9,235.9 299.3,238.6 299.6,214.8 300.0,227.4 300.3,234.3 300.7,221.3 301.0,235.5 301.4,227.0 301.7,215.3 302.1,219.7 302.4,237.3 302.8,230.2 303.1,225.4 303.5,228.9 303.8,211.9 304.1,239.1 304.5,234.8 304.8,235.9 305.2,215.2 305.5,241.0 305.9,224.8 306.2,222.5 306.6,225.6 306.9,239.6 307.3,215.3 307.6,221.7 308.0,230.5 308.3,222.5 308.7,221.2 309.0,249.3 309.4,219.6 309.7,223.8 310.1,234.4 310.4,237.8 310.8,243.3 311.1,242.0 311.4,220.3 311.8,242.6 312.1,251.0 312.5,218.5 312.8,231.6 313.2,234.8 313.5,225.9 313.9,205.0 314.2,207.6 314.6,228.4 314.9,240.6 315.3,234.2 315.6,223.8 316.0,231.7 316.3,228.0 316.7,225.4 317.0,248.8 317.4,242.9 317.7,219.6 318.0,248.6 318.4,219.3 318.7,231.8 319.1,250.4 319.4,238.1 319.8,227.0 320.1,230.2 320.5,222.1 320.8,238.1 321.2,236.2 321.5,221.6 321.9,229.3 322.2,219.7 322.6,240.4 322.9,237.0 323.3,250.8 323.6,231.9 324.0,234.0 324.3,223.1 324.6,219.7 325.0,223.0 325.3,242.5 325.7,231.6 326.0,241.4 326.4,246.9 326.7,247.2 327.1,234.2 327.4,210.4 327.8,220.2 328.1,223.6 328.5,245.9 328.8,227.3 329.2,232.2 329.5,246.8 329.9,232.7 330.2,229.1 330.6,237.2 330.9,243.7 331.2,246.8 331.6,250.4 331.9,239.4 332.3,231.1 332.6,221.1 333.0,235.3 333.3,225.9 333.7,230.9 334.0,233.3 334.4,222.7 334.7,227.8 335.1,236.5 335.4,231.1 335.8,232.4 336.1,247.4 336.5,218.9 336.8,233.2 337.2,239.0 337.5,222.1 337.9,238.0 338.2,240.1 338.5,224.8 338.9,235.2 339.2,237.5 339.6,213.3 339.9,229.4 340.3,232.2 340.6,248.1 341.0,225.4 341.3,234.7 341.7,235.6 342.0,228.3 342.4,234.0 342.7,251.8 343.1,246.3 343.4,230.0 343.8,213.7 344.1,226.0 344.5,229.2 344.8,234.4 345.1,248.3 345.5,222.2 345.8,236.3 346.2,225.1 346.5,229.0 346.9,235.7 347.2,230.3 347.6,240.0 347.9,223.6 348.3,225.3 348.6,246.5 349.0,236.7 349.3,238.0 349.7,218.6 350.0,223.8 350.4,237.5 350.7,244.5 351.1,237.0 351.4,237.0 351.7,240.8 352.1,236.3 352.4,228.1 352.8,245.4 353.1,239.6 353.5,244.5 353.8,252.2 354.2,242.1 354.5,246.1 354.9,226.8 355.2,226.5 355.6,245.5 355.9,224.9 356.3,225.9 356.6,240.5 357.0,237.8 357.3,237.2 357.7,227.1 358.0,238.2 358.4,230.6 358.7,242.9 359.0,251.3 359.4,239.1 359.7,235.4 360.1,216.8 360.4,242.8 360.8,233.8 361.1,245.5 361.5,237.4 361.8,237.6 362.2,246.7 362.5,210.1 362.9,242.7 363.2,227.4 363.6,242.9 363.9,238.0 364.3,238.2 364.6,239.8 365.0,237.8 365.3,223.0 365.6,250.8 366.0,220.8 366.3,252.0 366.7,252.3 367.0,241.5 367.4,244.7 367.7,251.9 368.1,241.9 368.4,238.9 368.8,230.3 369.1,249.5 369.5,217.5 369.8,230.3 370.2,254.9 370.5,242.0 370.9,229.7 371.2,240.9 371.6,236.1 371.9,232.3 372.2,228.9 372.6,231.4 372.9,240.1 373.3,240.7 373.6,241.1 374.0,241.9 374.3,233.4 374.7,236.3 375.0,218.4 375.4,232.6 375.7,246.2 376.1,246.0 376.4,245.6 376.8,247.3 377.1,214.2 377.5,241.5 377.8,251.8 378.2,253.0 378.5,241.2 378.9,241.4 379.2,228.1 379.5,235.4 379.9,240.0 380.2,242.5 380.6,247.5 380.9,255.8 381.3,255.3 381.6,226.3 382.0,233.9 382.3,249.2 382.7,239.1 383.0,247.2 383.4,236.5 383.7,246.1 384.1,232.4 384.4,227.2 384.8,226.8 385.1,230.1 385.5,256.2 385.8,236.2 386.1,236.1 386.5,246.7 386.8,238.1 387.2,220.5 387.5,226.3 387.9,234.0 388.2,236.4 388.6,236.6 388.9,240.9 389.3,245.4 389.6,228.0 390.0,245.9 390.3,230.6 390.7,241.2 391.0,207.5 391.4,242.6 391.7,237.6 392.1,235.1 392.4,231.1 392.7,223.0 393.1,233.3 393.4,231.8 393.8,242.2 394.1,246.9 394.5,232.7 394.8,228.9 395.2,221.8 395.5,250.5 395.9,232.0 396.2,236.5 396.6,241.8 396.9,253.3 397.3,223.5 397.6,260.3 398.0,244.6 398.3,241.7 398.7,232.6 399.0,244.8" fill="none" stroke="#0000ff" stroke-width="0.7" stroke-linejoin="bevel"/>
</g>
<rect x="466.90" y="164.70" width="347.45" height="98.85" fill="none" stroke="#303030" stroke-width="0.9"/>
<text x="467.01" y="276.35" text-anchor="middle" font-size="9.5" letter-spacing="0.22">−40</text>
<line x1="484.27" y1="263.55" x2="484.27" y2="262.25" stroke="#303030" stroke-width="0.9"/>
<line x1="484.27" y1="164.70" x2="484.27" y2="166.00" stroke="#303030" stroke-width="0.9"/>
<line x1="501.64" y1="263.55" x2="501.64" y2="262.25" stroke="#303030" stroke-width="0.9"/>
<line x1="501.64" y1="164.70" x2="501.64" y2="166.00" stroke="#303030" stroke-width="0.9"/>
<line x1="519.02" y1="263.55" x2="519.02" y2="262.25" stroke="#303030" stroke-width="0.9"/>
<line x1="519.02" y1="164.70" x2="519.02" y2="166.00" stroke="#303030" stroke-width="0.9"/>
<line x1="536.39" y1="263.55" x2="536.39" y2="261.15" stroke="#303030" stroke-width="0.9"/>
<line x1="536.39" y1="164.70" x2="536.39" y2="167.10" stroke="#303030" stroke-width="0.9"/>
<text x="536.50" y="276.35" text-anchor="middle" font-size="9.5" letter-spacing="0.22">−20</text>
<line x1="553.76" y1="263.55" x2="553.76" y2="262.25" stroke="#303030" stroke-width="0.9"/>
<line x1="553.76" y1="164.70" x2="553.76" y2="166.00" stroke="#303030" stroke-width="0.9"/>
<line x1="571.13" y1="263.55" x2="571.13" y2="262.25" stroke="#303030" stroke-width="0.9"/>
<line x1="571.13" y1="164.70" x2="571.13" y2="166.00" stroke="#303030" stroke-width="0.9"/>
<line x1="588.51" y1="263.55" x2="588.51" y2="262.25" stroke="#303030" stroke-width="0.9"/>
<line x1="588.51" y1="164.70" x2="588.51" y2="166.00" stroke="#303030" stroke-width="0.9"/>
<line x1="605.88" y1="263.55" x2="605.88" y2="261.15" stroke="#303030" stroke-width="0.9"/>
<line x1="605.88" y1="164.70" x2="605.88" y2="167.10" stroke="#303030" stroke-width="0.9"/>
<text x="605.99" y="276.35" text-anchor="middle" font-size="9.5" letter-spacing="0.22">0</text>
<line x1="623.25" y1="263.55" x2="623.25" y2="262.25" stroke="#303030" stroke-width="0.9"/>
<line x1="623.25" y1="164.70" x2="623.25" y2="166.00" stroke="#303030" stroke-width="0.9"/>
<line x1="640.62" y1="263.55" x2="640.62" y2="262.25" stroke="#303030" stroke-width="0.9"/>
<line x1="640.62" y1="164.70" x2="640.62" y2="166.00" stroke="#303030" stroke-width="0.9"/>
<line x1="658.00" y1="263.55" x2="658.00" y2="262.25" stroke="#303030" stroke-width="0.9"/>
<line x1="658.00" y1="164.70" x2="658.00" y2="166.00" stroke="#303030" stroke-width="0.9"/>
<line x1="675.37" y1="263.55" x2="675.37" y2="261.15" stroke="#303030" stroke-width="0.9"/>
<line x1="675.37" y1="164.70" x2="675.37" y2="167.10" stroke="#303030" stroke-width="0.9"/>
<text x="675.48" y="276.35" text-anchor="middle" font-size="9.5" letter-spacing="0.22">20</text>
<line x1="692.74" y1="263.55" x2="692.74" y2="262.25" stroke="#303030" stroke-width="0.9"/>
<line x1="692.74" y1="164.70" x2="692.74" y2="166.00" stroke="#303030" stroke-width="0.9"/>
<line x1="710.12" y1="263.55" x2="710.12" y2="262.25" stroke="#303030" stroke-width="0.9"/>
<line x1="710.12" y1="164.70" x2="710.12" y2="166.00" stroke="#303030" stroke-width="0.9"/>
<line x1="727.49" y1="263.55" x2="727.49" y2="262.25" stroke="#303030" stroke-width="0.9"/>
<line x1="727.49" y1="164.70" x2="727.49" y2="166.00" stroke="#303030" stroke-width="0.9"/>
<line x1="744.86" y1="263.55" x2="744.86" y2="261.15" stroke="#303030" stroke-width="0.9"/>
<line x1="744.86" y1="164.70" x2="744.86" y2="167.10" stroke="#303030" stroke-width="0.9"/>
<text x="744.97" y="276.35" text-anchor="middle" font-size="9.5" letter-spacing="0.22">40</text>
<line x1="762.23" y1="263.55" x2="762.23" y2="262.25" stroke="#303030" stroke-width="0.9"/>
<line x1="762.23" y1="164.70" x2="762.23" y2="166.00" stroke="#303030" stroke-width="0.9"/>
<line x1="779.61" y1="263.55" x2="779.61" y2="262.25" stroke="#303030" stroke-width="0.9"/>
<line x1="779.61" y1="164.70" x2="779.61" y2="166.00" stroke="#303030" stroke-width="0.9"/>
<line x1="796.98" y1="263.55" x2="796.98" y2="262.25" stroke="#303030" stroke-width="0.9"/>
<line x1="796.98" y1="164.70" x2="796.98" y2="166.00" stroke="#303030" stroke-width="0.9"/>
<text x="814.46" y="276.35" text-anchor="middle" font-size="9.5" letter-spacing="0.22">60</text>
<text x="464.32" y="263.95" text-anchor="end" font-size="9.5" letter-spacing="0.22">0.50</text>
<line x1="466.90" y1="260.25" x2="470.70" y2="260.25" stroke="#303030" stroke-width="0.9"/>
<line x1="814.35" y1="260.25" x2="810.55" y2="260.25" stroke="#303030" stroke-width="0.9"/>
<line x1="466.90" y1="256.96" x2="470.70" y2="256.96" stroke="#303030" stroke-width="0.9"/>
<line x1="814.35" y1="256.96" x2="810.55" y2="256.96" stroke="#303030" stroke-width="0.9"/>
<line x1="466.90" y1="253.66" x2="470.70" y2="253.66" stroke="#303030" stroke-width="0.9"/>
<line x1="814.35" y1="253.66" x2="810.55" y2="253.66" stroke="#303030" stroke-width="0.9"/>
<line x1="466.90" y1="250.37" x2="470.70" y2="250.37" stroke="#303030" stroke-width="0.9"/>
<line x1="814.35" y1="250.37" x2="810.55" y2="250.37" stroke="#303030" stroke-width="0.9"/>
<line x1="466.90" y1="247.07" x2="474.00" y2="247.07" stroke="#303030" stroke-width="0.9"/>
<line x1="814.35" y1="247.07" x2="807.25" y2="247.07" stroke="#303030" stroke-width="0.9"/>
<text x="464.32" y="250.57" text-anchor="end" font-size="9.5" letter-spacing="0.22">0.55</text>
<line x1="466.90" y1="243.78" x2="470.70" y2="243.78" stroke="#303030" stroke-width="0.9"/>
<line x1="814.35" y1="243.78" x2="810.55" y2="243.78" stroke="#303030" stroke-width="0.9"/>
<line x1="466.90" y1="240.48" x2="470.70" y2="240.48" stroke="#303030" stroke-width="0.9"/>
<line x1="814.35" y1="240.48" x2="810.55" y2="240.48" stroke="#303030" stroke-width="0.9"/>
<line x1="466.90" y1="237.19" x2="470.70" y2="237.19" stroke="#303030" stroke-width="0.9"/>
<line x1="814.35" y1="237.19" x2="810.55" y2="237.19" stroke="#303030" stroke-width="0.9"/>
<line x1="466.90" y1="233.89" x2="470.70" y2="233.89" stroke="#303030" stroke-width="0.9"/>
<line x1="814.35" y1="233.89" x2="810.55" y2="233.89" stroke="#303030" stroke-width="0.9"/>
<line x1="466.90" y1="230.60" x2="474.00" y2="230.60" stroke="#303030" stroke-width="0.9"/>
<line x1="814.35" y1="230.60" x2="807.25" y2="230.60" stroke="#303030" stroke-width="0.9"/>
<text x="464.32" y="234.10" text-anchor="end" font-size="9.5" letter-spacing="0.22">0.60</text>
<line x1="466.90" y1="227.31" x2="470.70" y2="227.31" stroke="#303030" stroke-width="0.9"/>
<line x1="814.35" y1="227.31" x2="810.55" y2="227.31" stroke="#303030" stroke-width="0.9"/>
<line x1="466.90" y1="224.01" x2="470.70" y2="224.01" stroke="#303030" stroke-width="0.9"/>
<line x1="814.35" y1="224.01" x2="810.55" y2="224.01" stroke="#303030" stroke-width="0.9"/>
<line x1="466.90" y1="220.72" x2="470.70" y2="220.72" stroke="#303030" stroke-width="0.9"/>
<line x1="814.35" y1="220.72" x2="810.55" y2="220.72" stroke="#303030" stroke-width="0.9"/>
<line x1="466.90" y1="217.42" x2="470.70" y2="217.42" stroke="#303030" stroke-width="0.9"/>
<line x1="814.35" y1="217.42" x2="810.55" y2="217.42" stroke="#303030" stroke-width="0.9"/>
<line x1="466.90" y1="214.12" x2="474.00" y2="214.12" stroke="#303030" stroke-width="0.9"/>
<line x1="814.35" y1="214.12" x2="807.25" y2="214.12" stroke="#303030" stroke-width="0.9"/>
<text x="464.32" y="217.62" text-anchor="end" font-size="9.5" letter-spacing="0.22">0.65</text>
<line x1="466.90" y1="210.83" x2="470.70" y2="210.83" stroke="#303030" stroke-width="0.9"/>
<line x1="814.35" y1="210.83" x2="810.55" y2="210.83" stroke="#303030" stroke-width="0.9"/>
<line x1="466.90" y1="207.53" x2="470.70" y2="207.53" stroke="#303030" stroke-width="0.9"/>
<line x1="814.35" y1="207.53" x2="810.55" y2="207.53" stroke="#303030" stroke-width="0.9"/>
<line x1="466.90" y1="204.24" x2="470.70" y2="204.24" stroke="#303030" stroke-width="0.9"/>
<line x1="814.35" y1="204.24" x2="810.55" y2="204.24" stroke="#303030" stroke-width="0.9"/>
<line x1="466.90" y1="200.94" x2="470.70" y2="200.94" stroke="#303030" stroke-width="0.9"/>
<line x1="814.35" y1="200.94" x2="810.55" y2="200.94" stroke="#303030" stroke-width="0.9"/>
<line x1="466.90" y1="197.65" x2="474.00" y2="197.65" stroke="#303030" stroke-width="0.9"/>
<line x1="814.35" y1="197.65" x2="807.25" y2="197.65" stroke="#303030" stroke-width="0.9"/>
<text x="464.32" y="201.15" text-anchor="end" font-size="9.5" letter-spacing="0.22">0.70</text>
<line x1="466.90" y1="194.36" x2="470.70" y2="194.36" stroke="#303030" stroke-width="0.9"/>
<line x1="814.35" y1="194.36" x2="810.55" y2="194.36" stroke="#303030" stroke-width="0.9"/>
<line x1="466.90" y1="191.06" x2="470.70" y2="191.06" stroke="#303030" stroke-width="0.9"/>
<line x1="814.35" y1="191.06" x2="810.55" y2="191.06" stroke="#303030" stroke-width="0.9"/>
<line x1="466.90" y1="187.77" x2="470.70" y2="187.77" stroke="#303030" stroke-width="0.9"/>
<line x1="814.35" y1="187.77" x2="810.55" y2="187.77" stroke="#303030" stroke-width="0.9"/>
<line x1="466.90" y1="184.47" x2="470.70" y2="184.47" stroke="#303030" stroke-width="0.9"/>
<line x1="814.35" y1="184.47" x2="810.55" y2="184.47" stroke="#303030" stroke-width="0.9"/>
<line x1="466.90" y1="181.18" x2="474.00" y2="181.18" stroke="#303030" stroke-width="0.9"/>
<line x1="814.35" y1="181.18" x2="807.25" y2="181.18" stroke="#303030" stroke-width="0.9"/>
<text x="464.32" y="184.68" text-anchor="end" font-size="9.5" letter-spacing="0.22">0.75</text>
<line x1="466.90" y1="177.88" x2="470.70" y2="177.88" stroke="#303030" stroke-width="0.9"/>
<line x1="814.35" y1="177.88" x2="810.55" y2="177.88" stroke="#303030" stroke-width="0.9"/>
<line x1="466.90" y1="174.58" x2="470.70" y2="174.58" stroke="#303030" stroke-width="0.9"/>
<line x1="814.35" y1="174.58" x2="810.55" y2="174.58" stroke="#303030" stroke-width="0.9"/>
<line x1="466.90" y1="171.29" x2="470.70" y2="171.29" stroke="#303030" stroke-width="0.9"/>
<line x1="814.35" y1="171.29" x2="810.55" y2="171.29" stroke="#303030" stroke-width="0.9"/>
<line x1="466.90" y1="168.00" x2="470.70" y2="168.00" stroke="#303030" stroke-width="0.9"/>
<line x1="814.35" y1="168.00" x2="810.55" y2="168.00" stroke="#303030" stroke-width="0.9"/>
<text x="464.32" y="170.80" text-anchor="end" font-size="9.5" letter-spacing="0.22">0.80</text>
<text x="640.65" y="287.45" text-anchor="middle" font-size="9.5" letter-spacing="0.05" word-spacing="0.9">Time Delay (sec)</text>
<text x="438.20" y="214.12" text-anchor="middle" font-size="9.5" letter-spacing="0.15" transform="rotate(-90 438.20 214.12)">CCF</text>
<g clip-path="url(#cr1)">
<line x1="466.90" y1="247.79" x2="466.90" y2="251.21" stroke="#222222" stroke-width="0.85"/>
<line x1="462.70" y1="247.79" x2="471.10" y2="247.79" stroke="#222222" stroke-width="0.85"/>
<line x1="462.70" y1="251.21" x2="471.10" y2="251.21" stroke="#222222" stroke-width="0.85"/>
<line x1="470.37" y1="246.83" x2="470.37" y2="250.35" stroke="#222222" stroke-width="0.85"/>
<line x1="466.17" y1="246.83" x2="474.57" y2="246.83" stroke="#222222" stroke-width="0.85"/>
<line x1="466.17" y1="250.35" x2="474.57" y2="250.35" stroke="#222222" stroke-width="0.85"/>
<line x1="473.85" y1="249.09" x2="473.85" y2="251.74" stroke="#222222" stroke-width="0.85"/>
<line x1="469.65" y1="249.09" x2="478.05" y2="249.09" stroke="#222222" stroke-width="0.85"/>
<line x1="469.65" y1="251.74" x2="478.05" y2="251.74" stroke="#222222" stroke-width="0.85"/>
<line x1="477.32" y1="247.70" x2="477.32" y2="250.57" stroke="#222222" stroke-width="0.85"/>
<line x1="473.12" y1="247.70" x2="481.52" y2="247.70" stroke="#222222" stroke-width="0.85"/>
<line x1="473.12" y1="250.57" x2="481.52" y2="250.57" stroke="#222222" stroke-width="0.85"/>
<line x1="480.80" y1="244.00" x2="480.80" y2="247.70" stroke="#222222" stroke-width="0.85"/>
<line x1="476.60" y1="244.00" x2="485.00" y2="244.00" stroke="#222222" stroke-width="0.85"/>
<line x1="476.60" y1="247.70" x2="485.00" y2="247.70" stroke="#222222" stroke-width="0.85"/>
<line x1="484.27" y1="241.15" x2="484.27" y2="245.08" stroke="#222222" stroke-width="0.85"/>
<line x1="480.07" y1="241.15" x2="488.47" y2="241.15" stroke="#222222" stroke-width="0.85"/>
<line x1="480.07" y1="245.08" x2="488.47" y2="245.08" stroke="#222222" stroke-width="0.85"/>
<line x1="487.75" y1="243.39" x2="487.75" y2="246.49" stroke="#222222" stroke-width="0.85"/>
<line x1="483.55" y1="243.39" x2="491.95" y2="243.39" stroke="#222222" stroke-width="0.85"/>
<line x1="483.55" y1="246.49" x2="491.95" y2="246.49" stroke="#222222" stroke-width="0.85"/>
<line x1="491.22" y1="238.73" x2="491.22" y2="242.76" stroke="#222222" stroke-width="0.85"/>
<line x1="487.02" y1="238.73" x2="495.42" y2="238.73" stroke="#222222" stroke-width="0.85"/>
<line x1="487.02" y1="242.76" x2="495.42" y2="242.76" stroke="#222222" stroke-width="0.85"/>
<line x1="494.70" y1="238.50" x2="494.70" y2="242.26" stroke="#222222" stroke-width="0.85"/>
<line x1="490.50" y1="238.50" x2="498.90" y2="238.50" stroke="#222222" stroke-width="0.85"/>
<line x1="490.50" y1="242.26" x2="498.90" y2="242.26" stroke="#222222" stroke-width="0.85"/>
<line x1="498.17" y1="235.28" x2="498.17" y2="238.18" stroke="#222222" stroke-width="0.85"/>
<line x1="493.97" y1="235.28" x2="502.37" y2="235.28" stroke="#222222" stroke-width="0.85"/>
<line x1="493.97" y1="238.18" x2="502.37" y2="238.18" stroke="#222222" stroke-width="0.85"/>
<line x1="501.64" y1="233.53" x2="501.64" y2="237.01" stroke="#222222" stroke-width="0.85"/>
<line x1="497.44" y1="233.53" x2="505.84" y2="233.53" stroke="#222222" stroke-width="0.85"/>
<line x1="497.44" y1="237.01" x2="505.84" y2="237.01" stroke="#222222" stroke-width="0.85"/>
<line x1="505.12" y1="236.06" x2="505.12" y2="239.22" stroke="#222222" stroke-width="0.85"/>
<line x1="500.92" y1="236.06" x2="509.32" y2="236.06" stroke="#222222" stroke-width="0.85"/>
<line x1="500.92" y1="239.22" x2="509.32" y2="239.22" stroke="#222222" stroke-width="0.85"/>
<line x1="508.59" y1="233.10" x2="508.59" y2="235.99" stroke="#222222" stroke-width="0.85"/>
<line x1="504.39" y1="233.10" x2="512.79" y2="233.10" stroke="#222222" stroke-width="0.85"/>
<line x1="504.39" y1="235.99" x2="512.79" y2="235.99" stroke="#222222" stroke-width="0.85"/>
<line x1="512.07" y1="224.22" x2="512.07" y2="228.08" stroke="#222222" stroke-width="0.85"/>
<line x1="507.87" y1="224.22" x2="516.27" y2="224.22" stroke="#222222" stroke-width="0.85"/>
<line x1="507.87" y1="228.08" x2="516.27" y2="228.08" stroke="#222222" stroke-width="0.85"/>
<line x1="515.54" y1="224.08" x2="515.54" y2="228.22" stroke="#222222" stroke-width="0.85"/>
<line x1="511.34" y1="224.08" x2="519.74" y2="224.08" stroke="#222222" stroke-width="0.85"/>
<line x1="511.34" y1="228.22" x2="519.74" y2="228.22" stroke="#222222" stroke-width="0.85"/>
<line x1="519.02" y1="222.47" x2="519.02" y2="225.44" stroke="#222222" stroke-width="0.85"/>
<line x1="514.82" y1="222.47" x2="523.22" y2="222.47" stroke="#222222" stroke-width="0.85"/>
<line x1="514.82" y1="225.44" x2="523.22" y2="225.44" stroke="#222222" stroke-width="0.85"/>
<line x1="522.49" y1="219.86" x2="522.49" y2="222.59" stroke="#222222" stroke-width="0.85"/>
<line x1="518.29" y1="219.86" x2="526.69" y2="219.86" stroke="#222222" stroke-width="0.85"/>
<line x1="518.29" y1="222.59" x2="526.69" y2="222.59" stroke="#222222" stroke-width="0.85"/>
<line x1="525.97" y1="218.53" x2="525.97" y2="222.09" stroke="#222222" stroke-width="0.85"/>
<line x1="521.77" y1="218.53" x2="530.17" y2="218.53" stroke="#222222" stroke-width="0.85"/>
<line x1="521.77" y1="222.09" x2="530.17" y2="222.09" stroke="#222222" stroke-width="0.85"/>
<line x1="529.44" y1="219.89" x2="529.44" y2="223.65" stroke="#222222" stroke-width="0.85"/>
<line x1="525.24" y1="219.89" x2="533.64" y2="219.89" stroke="#222222" stroke-width="0.85"/>
<line x1="525.24" y1="223.65" x2="533.64" y2="223.65" stroke="#222222" stroke-width="0.85"/>
<line x1="532.92" y1="220.25" x2="532.92" y2="223.29" stroke="#222222" stroke-width="0.85"/>
<line x1="528.72" y1="220.25" x2="537.12" y2="220.25" stroke="#222222" stroke-width="0.85"/>
<line x1="528.72" y1="223.29" x2="537.12" y2="223.29" stroke="#222222" stroke-width="0.85"/>
<line x1="536.39" y1="212.99" x2="536.39" y2="216.68" stroke="#222222" stroke-width="0.85"/>
<line x1="532.19" y1="212.99" x2="540.59" y2="212.99" stroke="#222222" stroke-width="0.85"/>
<line x1="532.19" y1="216.68" x2="540.59" y2="216.68" stroke="#222222" stroke-width="0.85"/>
<line x1="539.86" y1="215.31" x2="539.86" y2="218.74" stroke="#222222" stroke-width="0.85"/>
<line x1="535.66" y1="215.31" x2="544.06" y2="215.31" stroke="#222222" stroke-width="0.85"/>
<line x1="535.66" y1="218.74" x2="544.06" y2="218.74" stroke="#222222" stroke-width="0.85"/>
<line x1="543.34" y1="213.13" x2="543.34" y2="215.81" stroke="#222222" stroke-width="0.85"/>
<line x1="539.14" y1="213.13" x2="547.54" y2="213.13" stroke="#222222" stroke-width="0.85"/>
<line x1="539.14" y1="215.81" x2="547.54" y2="215.81" stroke="#222222" stroke-width="0.85"/>
<line x1="546.81" y1="207.41" x2="546.81" y2="210.23" stroke="#222222" stroke-width="0.85"/>
<line x1="542.61" y1="207.41" x2="551.01" y2="207.41" stroke="#222222" stroke-width="0.85"/>
<line x1="542.61" y1="210.23" x2="551.01" y2="210.23" stroke="#222222" stroke-width="0.85"/>
<line x1="550.29" y1="207.91" x2="550.29" y2="210.81" stroke="#222222" stroke-width="0.85"/>
<line x1="546.09" y1="207.91" x2="554.49" y2="207.91" stroke="#222222" stroke-width="0.85"/>
<line x1="546.09" y1="210.81" x2="554.49" y2="210.81" stroke="#222222" stroke-width="0.85"/>
<line x1="553.76" y1="205.81" x2="553.76" y2="210.00" stroke="#222222" stroke-width="0.85"/>
<line x1="549.56" y1="205.81" x2="557.96" y2="205.81" stroke="#222222" stroke-width="0.85"/>
<line x1="549.56" y1="210.00" x2="557.96" y2="210.00" stroke="#222222" stroke-width="0.85"/>
<line x1="557.24" y1="203.09" x2="557.24" y2="206.52" stroke="#222222" stroke-width="0.85"/>
<line x1="553.04" y1="203.09" x2="561.44" y2="203.09" stroke="#222222" stroke-width="0.85"/>
<line x1="553.04" y1="206.52" x2="561.44" y2="206.52" stroke="#222222" stroke-width="0.85"/>
<line x1="560.71" y1="205.23" x2="560.71" y2="208.75" stroke="#222222" stroke-width="0.85"/>
<line x1="556.51" y1="205.23" x2="564.91" y2="205.23" stroke="#222222" stroke-width="0.85"/>
<line x1="556.51" y1="208.75" x2="564.91" y2="208.75" stroke="#222222" stroke-width="0.85"/>
<line x1="564.19" y1="194.70" x2="564.19" y2="198.48" stroke="#222222" stroke-width="0.85"/>
<line x1="559.99" y1="194.70" x2="568.39" y2="194.70" stroke="#222222" stroke-width="0.85"/>
<line x1="559.99" y1="198.48" x2="568.39" y2="198.48" stroke="#222222" stroke-width="0.85"/>
<line x1="567.66" y1="197.23" x2="567.66" y2="200.70" stroke="#222222" stroke-width="0.85"/>
<line x1="563.46" y1="197.23" x2="571.86" y2="197.23" stroke="#222222" stroke-width="0.85"/>
<line x1="563.46" y1="200.70" x2="571.86" y2="200.70" stroke="#222222" stroke-width="0.85"/>
<line x1="571.13" y1="196.39" x2="571.13" y2="200.45" stroke="#222222" stroke-width="0.85"/>
<line x1="566.93" y1="196.39" x2="575.34" y2="196.39" stroke="#222222" stroke-width="0.85"/>
<line x1="566.93" y1="200.45" x2="575.34" y2="200.45" stroke="#222222" stroke-width="0.85"/>
<line x1="574.61" y1="190.08" x2="574.61" y2="193.98" stroke="#222222" stroke-width="0.85"/>
<line x1="570.41" y1="190.08" x2="578.81" y2="190.08" stroke="#222222" stroke-width="0.85"/>
<line x1="570.41" y1="193.98" x2="578.81" y2="193.98" stroke="#222222" stroke-width="0.85"/>
<line x1="578.08" y1="188.58" x2="578.08" y2="191.83" stroke="#222222" stroke-width="0.85"/>
<line x1="573.88" y1="188.58" x2="582.28" y2="188.58" stroke="#222222" stroke-width="0.85"/>
<line x1="573.88" y1="191.83" x2="582.28" y2="191.83" stroke="#222222" stroke-width="0.85"/>
<line x1="581.56" y1="187.71" x2="581.56" y2="190.88" stroke="#222222" stroke-width="0.85"/>
<line x1="577.36" y1="187.71" x2="585.76" y2="187.71" stroke="#222222" stroke-width="0.85"/>
<line x1="577.36" y1="190.88" x2="585.76" y2="190.88" stroke="#222222" stroke-width="0.85"/>
<line x1="585.03" y1="190.52" x2="585.03" y2="194.64" stroke="#222222" stroke-width="0.85"/>
<line x1="580.83" y1="190.52" x2="589.23" y2="190.52" stroke="#222222" stroke-width="0.85"/>
<line x1="580.83" y1="194.64" x2="589.23" y2="194.64" stroke="#222222" stroke-width="0.85"/>
<line x1="588.51" y1="186.81" x2="588.51" y2="189.96" stroke="#222222" stroke-width="0.85"/>
<line x1="584.31" y1="186.81" x2="592.71" y2="186.81" stroke="#222222" stroke-width="0.85"/>
<line x1="584.31" y1="189.96" x2="592.71" y2="189.96" stroke="#222222" stroke-width="0.85"/>
<line x1="591.98" y1="184.20" x2="591.98" y2="188.18" stroke="#222222" stroke-width="0.85"/>
<line x1="587.78" y1="184.20" x2="596.18" y2="184.20" stroke="#222222" stroke-width="0.85"/>
<line x1="587.78" y1="188.18" x2="596.18" y2="188.18" stroke="#222222" stroke-width="0.85"/>
<line x1="595.46" y1="182.40" x2="595.46" y2="186.33" stroke="#222222" stroke-width="0.85"/>
<line x1="591.26" y1="182.40" x2="599.66" y2="182.40" stroke="#222222" stroke-width="0.85"/>
<line x1="591.26" y1="186.33" x2="599.66" y2="186.33" stroke="#222222" stroke-width="0.85"/>
<line x1="598.93" y1="185.74" x2="598.93" y2="189.20" stroke="#222222" stroke-width="0.85"/>
<line x1="594.73" y1="185.74" x2="603.13" y2="185.74" stroke="#222222" stroke-width="0.85"/>
<line x1="594.73" y1="189.20" x2="603.13" y2="189.20" stroke="#222222" stroke-width="0.85"/>
<line x1="602.41" y1="183.61" x2="602.41" y2="187.68" stroke="#222222" stroke-width="0.85"/>
<line x1="598.21" y1="183.61" x2="606.61" y2="183.61" stroke="#222222" stroke-width="0.85"/>
<line x1="598.21" y1="187.68" x2="606.61" y2="187.68" stroke="#222222" stroke-width="0.85"/>
<line x1="605.88" y1="182.99" x2="605.88" y2="185.75" stroke="#222222" stroke-width="0.85"/>
<line x1="601.68" y1="182.99" x2="610.08" y2="182.99" stroke="#222222" stroke-width="0.85"/>
<line x1="601.68" y1="185.75" x2="610.08" y2="185.75" stroke="#222222" stroke-width="0.85"/>
<line x1="609.35" y1="182.07" x2="609.35" y2="184.84" stroke="#222222" stroke-width="0.85"/>
<line x1="605.15" y1="182.07" x2="613.55" y2="182.07" stroke="#222222" stroke-width="0.85"/>
<line x1="605.15" y1="184.84" x2="613.55" y2="184.84" stroke="#222222" stroke-width="0.85"/>
<line x1="612.83" y1="177.40" x2="612.83" y2="181.12" stroke="#222222" stroke-width="0.85"/>
<line x1="608.63" y1="177.40" x2="617.03" y2="177.40" stroke="#222222" stroke-width="0.85"/>
<line x1="608.63" y1="181.12" x2="617.03" y2="181.12" stroke="#222222" stroke-width="0.85"/>
<line x1="616.30" y1="180.35" x2="616.30" y2="184.37" stroke="#222222" stroke-width="0.85"/>
<line x1="612.10" y1="180.35" x2="620.50" y2="180.35" stroke="#222222" stroke-width="0.85"/>
<line x1="612.10" y1="184.37" x2="620.50" y2="184.37" stroke="#222222" stroke-width="0.85"/>
<line x1="619.78" y1="183.85" x2="619.78" y2="186.71" stroke="#222222" stroke-width="0.85"/>
<line x1="615.58" y1="183.85" x2="623.98" y2="183.85" stroke="#222222" stroke-width="0.85"/>
<line x1="615.58" y1="186.71" x2="623.98" y2="186.71" stroke="#222222" stroke-width="0.85"/>
<line x1="623.25" y1="179.56" x2="623.25" y2="182.60" stroke="#222222" stroke-width="0.85"/>
<line x1="619.05" y1="179.56" x2="627.45" y2="179.56" stroke="#222222" stroke-width="0.85"/>
<line x1="619.05" y1="182.60" x2="627.45" y2="182.60" stroke="#222222" stroke-width="0.85"/>
<line x1="626.73" y1="177.97" x2="626.73" y2="181.64" stroke="#222222" stroke-width="0.85"/>
<line x1="622.53" y1="177.97" x2="630.93" y2="177.97" stroke="#222222" stroke-width="0.85"/>
<line x1="622.53" y1="181.64" x2="630.93" y2="181.64" stroke="#222222" stroke-width="0.85"/>
<line x1="630.20" y1="176.00" x2="630.20" y2="178.87" stroke="#222222" stroke-width="0.85"/>
<line x1="626.00" y1="176.00" x2="634.40" y2="176.00" stroke="#222222" stroke-width="0.85"/>
<line x1="626.00" y1="178.87" x2="634.40" y2="178.87" stroke="#222222" stroke-width="0.85"/>
<line x1="633.68" y1="179.22" x2="633.68" y2="182.94" stroke="#222222" stroke-width="0.85"/>
<line x1="629.48" y1="179.22" x2="637.88" y2="179.22" stroke="#222222" stroke-width="0.85"/>
<line x1="629.48" y1="182.94" x2="637.88" y2="182.94" stroke="#222222" stroke-width="0.85"/>
<line x1="637.15" y1="180.85" x2="637.15" y2="184.23" stroke="#222222" stroke-width="0.85"/>
<line x1="632.95" y1="180.85" x2="641.35" y2="180.85" stroke="#222222" stroke-width="0.85"/>
<line x1="632.95" y1="184.23" x2="641.35" y2="184.23" stroke="#222222" stroke-width="0.85"/>
<line x1="640.62" y1="175.59" x2="640.62" y2="179.28" stroke="#222222" stroke-width="0.85"/>
<line x1="636.42" y1="175.59" x2="644.83" y2="175.59" stroke="#222222" stroke-width="0.85"/>
<line x1="636.42" y1="179.28" x2="644.83" y2="179.28" stroke="#222222" stroke-width="0.85"/>
<line x1="644.10" y1="175.17" x2="644.10" y2="178.60" stroke="#222222" stroke-width="0.85"/>
<line x1="639.90" y1="175.17" x2="648.30" y2="175.17" stroke="#222222" stroke-width="0.85"/>
<line x1="639.90" y1="178.60" x2="648.30" y2="178.60" stroke="#222222" stroke-width="0.85"/>
<line x1="647.57" y1="175.19" x2="647.57" y2="177.86" stroke="#222222" stroke-width="0.85"/>
<line x1="643.37" y1="175.19" x2="651.77" y2="175.19" stroke="#222222" stroke-width="0.85"/>
<line x1="643.37" y1="177.86" x2="651.77" y2="177.86" stroke="#222222" stroke-width="0.85"/>
<line x1="651.05" y1="175.41" x2="651.05" y2="178.37" stroke="#222222" stroke-width="0.85"/>
<line x1="646.85" y1="175.41" x2="655.25" y2="175.41" stroke="#222222" stroke-width="0.85"/>
<line x1="646.85" y1="178.37" x2="655.25" y2="178.37" stroke="#222222" stroke-width="0.85"/>
<line x1="654.52" y1="175.67" x2="654.52" y2="179.19" stroke="#222222" stroke-width="0.85"/>
<line x1="650.32" y1="175.67" x2="658.72" y2="175.67" stroke="#222222" stroke-width="0.85"/>
<line x1="650.32" y1="179.19" x2="658.72" y2="179.19" stroke="#222222" stroke-width="0.85"/>
<line x1="658.00" y1="175.49" x2="658.00" y2="178.28" stroke="#222222" stroke-width="0.85"/>
<line x1="653.80" y1="175.49" x2="662.20" y2="175.49" stroke="#222222" stroke-width="0.85"/>
<line x1="653.80" y1="178.28" x2="662.20" y2="178.28" stroke="#222222" stroke-width="0.85"/>
<line x1="661.47" y1="176.65" x2="661.47" y2="180.05" stroke="#222222" stroke-width="0.85"/>
<line x1="657.27" y1="176.65" x2="665.67" y2="176.65" stroke="#222222" stroke-width="0.85"/>
<line x1="657.27" y1="180.05" x2="665.67" y2="180.05" stroke="#222222" stroke-width="0.85"/>
<line x1="664.95" y1="179.13" x2="664.95" y2="181.95" stroke="#222222" stroke-width="0.85"/>
<line x1="660.75" y1="179.13" x2="669.15" y2="179.13" stroke="#222222" stroke-width="0.85"/>
<line x1="660.75" y1="181.95" x2="669.15" y2="181.95" stroke="#222222" stroke-width="0.85"/>
<line x1="668.42" y1="178.46" x2="668.42" y2="181.15" stroke="#222222" stroke-width="0.85"/>
<line x1="664.22" y1="178.46" x2="672.62" y2="178.46" stroke="#222222" stroke-width="0.85"/>
<line x1="664.22" y1="181.15" x2="672.62" y2="181.15" stroke="#222222" stroke-width="0.85"/>
<line x1="671.90" y1="181.47" x2="671.90" y2="184.35" stroke="#222222" stroke-width="0.85"/>
<line x1="667.70" y1="181.47" x2="676.10" y2="181.47" stroke="#222222" stroke-width="0.85"/>
<line x1="667.70" y1="184.35" x2="676.10" y2="184.35" stroke="#222222" stroke-width="0.85"/>
<line x1="675.37" y1="180.89" x2="675.37" y2="184.20" stroke="#222222" stroke-width="0.85"/>
<line x1="671.17" y1="180.89" x2="679.57" y2="180.89" stroke="#222222" stroke-width="0.85"/>
<line x1="671.17" y1="184.20" x2="679.57" y2="184.20" stroke="#222222" stroke-width="0.85"/>
<line x1="678.84" y1="178.53" x2="678.84" y2="182.54" stroke="#222222" stroke-width="0.85"/>
<line x1="674.64" y1="178.53" x2="683.04" y2="178.53" stroke="#222222" stroke-width="0.85"/>
<line x1="674.64" y1="182.54" x2="683.04" y2="182.54" stroke="#222222" stroke-width="0.85"/>
<line x1="682.32" y1="182.67" x2="682.32" y2="186.79" stroke="#222222" stroke-width="0.85"/>
<line x1="678.12" y1="182.67" x2="686.52" y2="182.67" stroke="#222222" stroke-width="0.85"/>
<line x1="678.12" y1="186.79" x2="686.52" y2="186.79" stroke="#222222" stroke-width="0.85"/>
<line x1="685.79" y1="181.77" x2="685.79" y2="185.14" stroke="#222222" stroke-width="0.85"/>
<line x1="681.59" y1="181.77" x2="689.99" y2="181.77" stroke="#222222" stroke-width="0.85"/>
<line x1="681.59" y1="185.14" x2="689.99" y2="185.14" stroke="#222222" stroke-width="0.85"/>
<line x1="689.27" y1="183.06" x2="689.27" y2="186.40" stroke="#222222" stroke-width="0.85"/>
<line x1="685.07" y1="183.06" x2="693.47" y2="183.06" stroke="#222222" stroke-width="0.85"/>
<line x1="685.07" y1="186.40" x2="693.47" y2="186.40" stroke="#222222" stroke-width="0.85"/>
<line x1="692.74" y1="183.84" x2="692.74" y2="187.45" stroke="#222222" stroke-width="0.85"/>
<line x1="688.54" y1="183.84" x2="696.94" y2="183.84" stroke="#222222" stroke-width="0.85"/>
<line x1="688.54" y1="187.45" x2="696.94" y2="187.45" stroke="#222222" stroke-width="0.85"/>
<line x1="696.22" y1="187.73" x2="696.22" y2="190.85" stroke="#222222" stroke-width="0.85"/>
<line x1="692.02" y1="187.73" x2="700.42" y2="187.73" stroke="#222222" stroke-width="0.85"/>
<line x1="692.02" y1="190.85" x2="700.42" y2="190.85" stroke="#222222" stroke-width="0.85"/>
<line x1="699.69" y1="192.46" x2="699.69" y2="195.25" stroke="#222222" stroke-width="0.85"/>
<line x1="695.49" y1="192.46" x2="703.89" y2="192.46" stroke="#222222" stroke-width="0.85"/>
<line x1="695.49" y1="195.25" x2="703.89" y2="195.25" stroke="#222222" stroke-width="0.85"/>
<line x1="703.17" y1="185.76" x2="703.17" y2="188.45" stroke="#222222" stroke-width="0.85"/>
<line x1="698.97" y1="185.76" x2="707.37" y2="185.76" stroke="#222222" stroke-width="0.85"/>
<line x1="698.97" y1="188.45" x2="707.37" y2="188.45" stroke="#222222" stroke-width="0.85"/>
<line x1="706.64" y1="191.13" x2="706.64" y2="194.75" stroke="#222222" stroke-width="0.85"/>
<line x1="702.44" y1="191.13" x2="710.84" y2="191.13" stroke="#222222" stroke-width="0.85"/>
<line x1="702.44" y1="194.75" x2="710.84" y2="194.75" stroke="#222222" stroke-width="0.85"/>
<line x1="710.12" y1="192.45" x2="710.12" y2="196.35" stroke="#222222" stroke-width="0.85"/>
<line x1="705.91" y1="192.45" x2="714.32" y2="192.45" stroke="#222222" stroke-width="0.85"/>
<line x1="705.91" y1="196.35" x2="714.32" y2="196.35" stroke="#222222" stroke-width="0.85"/>
<line x1="713.59" y1="194.76" x2="713.59" y2="198.43" stroke="#222222" stroke-width="0.85"/>
<line x1="709.39" y1="194.76" x2="717.79" y2="194.76" stroke="#222222" stroke-width="0.85"/>
<line x1="709.39" y1="198.43" x2="717.79" y2="198.43" stroke="#222222" stroke-width="0.85"/>
<line x1="717.06" y1="190.76" x2="717.06" y2="194.40" stroke="#222222" stroke-width="0.85"/>
<line x1="712.86" y1="190.76" x2="721.26" y2="190.76" stroke="#222222" stroke-width="0.85"/>
<line x1="712.86" y1="194.40" x2="721.26" y2="194.40" stroke="#222222" stroke-width="0.85"/>
<line x1="720.54" y1="190.76" x2="720.54" y2="194.04" stroke="#222222" stroke-width="0.85"/>
<line x1="716.34" y1="190.76" x2="724.74" y2="190.76" stroke="#222222" stroke-width="0.85"/>
<line x1="716.34" y1="194.04" x2="724.74" y2="194.04" stroke="#222222" stroke-width="0.85"/>
<line x1="724.01" y1="192.94" x2="724.01" y2="196.59" stroke="#222222" stroke-width="0.85"/>
<line x1="719.81" y1="192.94" x2="728.21" y2="192.94" stroke="#222222" stroke-width="0.85"/>
<line x1="719.81" y1="196.59" x2="728.21" y2="196.59" stroke="#222222" stroke-width="0.85"/>
<line x1="727.49" y1="198.41" x2="727.49" y2="201.34" stroke="#222222" stroke-width="0.85"/>
<line x1="723.29" y1="198.41" x2="731.69" y2="198.41" stroke="#222222" stroke-width="0.85"/>
<line x1="723.29" y1="201.34" x2="731.69" y2="201.34" stroke="#222222" stroke-width="0.85"/>
<line x1="730.96" y1="200.24" x2="730.96" y2="203.89" stroke="#222222" stroke-width="0.85"/>
<line x1="726.76" y1="200.24" x2="735.16" y2="200.24" stroke="#222222" stroke-width="0.85"/>
<line x1="726.76" y1="203.89" x2="735.16" y2="203.89" stroke="#222222" stroke-width="0.85"/>
<line x1="734.44" y1="203.99" x2="734.44" y2="207.44" stroke="#222222" stroke-width="0.85"/>
<line x1="730.24" y1="203.99" x2="738.64" y2="203.99" stroke="#222222" stroke-width="0.85"/>
<line x1="730.24" y1="207.44" x2="738.64" y2="207.44" stroke="#222222" stroke-width="0.85"/>
<line x1="737.91" y1="202.54" x2="737.91" y2="206.34" stroke="#222222" stroke-width="0.85"/>
<line x1="733.71" y1="202.54" x2="742.11" y2="202.54" stroke="#222222" stroke-width="0.85"/>
<line x1="733.71" y1="206.34" x2="742.11" y2="206.34" stroke="#222222" stroke-width="0.85"/>
<line x1="741.39" y1="202.51" x2="741.39" y2="205.26" stroke="#222222" stroke-width="0.85"/>
<line x1="737.19" y1="202.51" x2="745.59" y2="202.51" stroke="#222222" stroke-width="0.85"/>
<line x1="737.19" y1="205.26" x2="745.59" y2="205.26" stroke="#222222" stroke-width="0.85"/>
<line x1="744.86" y1="206.52" x2="744.86" y2="210.38" stroke="#222222" stroke-width="0.85"/>
<line x1="740.66" y1="206.52" x2="749.06" y2="206.52" stroke="#222222" stroke-width="0.85"/>
<line x1="740.66" y1="210.38" x2="749.06" y2="210.38" stroke="#222222" stroke-width="0.85"/>
<line x1="748.33" y1="208.43" x2="748.33" y2="212.13" stroke="#222222" stroke-width="0.85"/>
<line x1="744.13" y1="208.43" x2="752.53" y2="208.43" stroke="#222222" stroke-width="0.85"/>
<line x1="744.13" y1="212.13" x2="752.53" y2="212.13" stroke="#222222" stroke-width="0.85"/>
<line x1="751.81" y1="208.42" x2="751.81" y2="212.13" stroke="#222222" stroke-width="0.85"/>
<line x1="747.61" y1="208.42" x2="756.01" y2="208.42" stroke="#222222" stroke-width="0.85"/>
<line x1="747.61" y1="212.13" x2="756.01" y2="212.13" stroke="#222222" stroke-width="0.85"/>
<line x1="755.28" y1="211.31" x2="755.28" y2="214.71" stroke="#222222" stroke-width="0.85"/>
<line x1="751.08" y1="211.31" x2="759.48" y2="211.31" stroke="#222222" stroke-width="0.85"/>
<line x1="751.08" y1="214.71" x2="759.48" y2="214.71" stroke="#222222" stroke-width="0.85"/>
<line x1="758.76" y1="212.76" x2="758.76" y2="216.92" stroke="#222222" stroke-width="0.85"/>
<line x1="754.56" y1="212.76" x2="762.96" y2="212.76" stroke="#222222" stroke-width="0.85"/>
<line x1="754.56" y1="216.92" x2="762.96" y2="216.92" stroke="#222222" stroke-width="0.85"/>
<line x1="762.23" y1="214.83" x2="762.23" y2="217.76" stroke="#222222" stroke-width="0.85"/>
<line x1="758.03" y1="214.83" x2="766.43" y2="214.83" stroke="#222222" stroke-width="0.85"/>
<line x1="758.03" y1="217.76" x2="766.43" y2="217.76" stroke="#222222" stroke-width="0.85"/>
<line x1="765.71" y1="214.21" x2="765.71" y2="217.29" stroke="#222222" stroke-width="0.85"/>
<line x1="761.51" y1="214.21" x2="769.91" y2="214.21" stroke="#222222" stroke-width="0.85"/>
<line x1="761.51" y1="217.29" x2="769.91" y2="217.29" stroke="#222222" stroke-width="0.85"/>
<line x1="769.18" y1="212.44" x2="769.18" y2="215.41" stroke="#222222" stroke-width="0.85"/>
<line x1="764.98" y1="212.44" x2="773.38" y2="212.44" stroke="#222222" stroke-width="0.85"/>
<line x1="764.98" y1="215.41" x2="773.38" y2="215.41" stroke="#222222" stroke-width="0.85"/>
<line x1="772.66" y1="216.78" x2="772.66" y2="219.46" stroke="#222222" stroke-width="0.85"/>
<line x1="768.46" y1="216.78" x2="776.86" y2="216.78" stroke="#222222" stroke-width="0.85"/>
<line x1="768.46" y1="219.46" x2="776.86" y2="219.46" stroke="#222222" stroke-width="0.85"/>
<line x1="776.13" y1="219.20" x2="776.13" y2="223.25" stroke="#222222" stroke-width="0.85"/>
<line x1="771.93" y1="219.20" x2="780.33" y2="219.20" stroke="#222222" stroke-width="0.85"/>
<line x1="771.93" y1="223.25" x2="780.33" y2="223.25" stroke="#222222" stroke-width="0.85"/>
<line x1="779.61" y1="218.03" x2="779.61" y2="220.76" stroke="#222222" stroke-width="0.85"/>
<line x1="775.40" y1="218.03" x2="783.81" y2="218.03" stroke="#222222" stroke-width="0.85"/>
<line x1="775.40" y1="220.76" x2="783.81" y2="220.76" stroke="#222222" stroke-width="0.85"/>
<line x1="783.08" y1="225.46" x2="783.08" y2="229.03" stroke="#222222" stroke-width="0.85"/>
<line x1="778.88" y1="225.46" x2="787.28" y2="225.46" stroke="#222222" stroke-width="0.85"/>
<line x1="778.88" y1="229.03" x2="787.28" y2="229.03" stroke="#222222" stroke-width="0.85"/>
<line x1="786.55" y1="224.34" x2="786.55" y2="227.95" stroke="#222222" stroke-width="0.85"/>
<line x1="782.35" y1="224.34" x2="790.75" y2="224.34" stroke="#222222" stroke-width="0.85"/>
<line x1="782.35" y1="227.95" x2="790.75" y2="227.95" stroke="#222222" stroke-width="0.85"/>
<line x1="790.03" y1="222.90" x2="790.03" y2="226.11" stroke="#222222" stroke-width="0.85"/>
<line x1="785.83" y1="222.90" x2="794.23" y2="222.90" stroke="#222222" stroke-width="0.85"/>
<line x1="785.83" y1="226.11" x2="794.23" y2="226.11" stroke="#222222" stroke-width="0.85"/>
<line x1="793.50" y1="230.31" x2="793.50" y2="232.93" stroke="#222222" stroke-width="0.85"/>
<line x1="789.30" y1="230.31" x2="797.70" y2="230.31" stroke="#222222" stroke-width="0.85"/>
<line x1="789.30" y1="232.93" x2="797.70" y2="232.93" stroke="#222222" stroke-width="0.85"/>
<line x1="796.98" y1="226.55" x2="796.98" y2="230.49" stroke="#222222" stroke-width="0.85"/>
<line x1="792.78" y1="226.55" x2="801.18" y2="226.55" stroke="#222222" stroke-width="0.85"/>
<line x1="792.78" y1="230.49" x2="801.18" y2="230.49" stroke="#222222" stroke-width="0.85"/>
<line x1="800.45" y1="233.30" x2="800.45" y2="236.51" stroke="#222222" stroke-width="0.85"/>
<line x1="796.25" y1="233.30" x2="804.65" y2="233.30" stroke="#222222" stroke-width="0.85"/>
<line x1="796.25" y1="236.51" x2="804.65" y2="236.51" stroke="#222222" stroke-width="0.85"/>
<line x1="803.93" y1="232.25" x2="803.93" y2="235.73" stroke="#222222" stroke-width="0.85"/>
<line x1="799.73" y1="232.25" x2="808.13" y2="232.25" stroke="#222222" stroke-width="0.85"/>
<line x1="799.73" y1="235.73" x2="808.13" y2="235.73" stroke="#222222" stroke-width="0.85"/>
<line x1="807.40" y1="233.04" x2="807.40" y2="236.77" stroke="#222222" stroke-width="0.85"/>
<line x1="803.20" y1="233.04" x2="811.60" y2="233.04" stroke="#222222" stroke-width="0.85"/>
<line x1="803.20" y1="236.77" x2="811.60" y2="236.77" stroke="#222222" stroke-width="0.85"/>
<line x1="810.88" y1="238.54" x2="810.88" y2="242.22" stroke="#222222" stroke-width="0.85"/>
<line x1="806.68" y1="238.54" x2="815.08" y2="238.54" stroke="#222222" stroke-width="0.85"/>
<line x1="806.68" y1="242.22" x2="815.08" y2="242.22" stroke="#222222" stroke-width="0.85"/>
<polyline points="466.9,257.6 470.4,255.3 473.8,252.9 477.3,250.6 480.8,248.3 484.3,246.0 487.7,243.7 491.2,241.4 494.7,239.2 498.2,236.9 501.6,234.6 505.1,232.4 508.6,230.2 512.1,228.0 515.5,225.9 519.0,223.7 522.5,221.6 526.0,219.6 529.4,217.5 532.9,215.5 536.4,213.6 539.9,211.7 543.3,209.8 546.8,208.0 550.3,206.2 553.8,204.4 557.2,202.7 560.7,201.1 564.2,199.5 567.7,198.0 571.1,196.5 574.6,195.1 578.1,193.7 581.6,192.4 585.0,191.2 588.5,190.0 592.0,188.9 595.5,187.8 598.9,186.8 602.4,185.9 605.9,185.0 609.4,184.2 612.8,183.5 616.3,182.8 619.8,182.2 623.3,181.7 626.7,181.2 630.2,180.8 633.7,180.5 637.2,180.2 640.6,180.0 644.1,179.9 647.6,179.9 651.0,179.9 654.5,180.0 658.0,180.1 661.5,180.4 664.9,180.7 668.4,181.0 671.9,181.5 675.4,182.0 678.8,182.5 682.3,183.2 685.8,183.9 689.3,184.6 692.7,185.5 696.2,186.4 699.7,187.3 703.2,188.4 706.6,189.4 710.1,190.6 713.6,191.8 717.1,193.1 720.5,194.4 724.0,195.8 727.5,197.2 731.0,198.7 734.4,200.2 737.9,201.8 741.4,203.5 744.9,205.1 748.3,206.9 751.8,208.6 755.3,210.5 758.8,212.3 762.2,214.2 765.7,216.1 769.2,218.1 772.7,220.1 776.1,222.1 779.6,224.2 783.1,226.3 786.6,228.4 790.0,230.5 793.5,232.7 797.0,234.8 800.5,237.0 803.9,239.2 807.4,241.4 810.9,243.6" fill="none" stroke="#ff0000" stroke-width="0.85" stroke-linejoin="bevel"/>
</g>
<rect x="51.90" y="312.95" width="347.45" height="98.85" fill="none" stroke="#303030" stroke-width="0.9"/>
<text x="52.01" y="424.60" text-anchor="middle" font-size="9.5" letter-spacing="0.22">0</text>
<line x1="69.27" y1="411.80" x2="69.27" y2="410.50" stroke="#303030" stroke-width="0.9"/>
<line x1="69.27" y1="312.95" x2="69.27" y2="314.25" stroke="#303030" stroke-width="0.9"/>
<line x1="86.65" y1="411.80" x2="86.65" y2="410.50" stroke="#303030" stroke-width="0.9"/>
<line x1="86.65" y1="312.95" x2="86.65" y2="314.25" stroke="#303030" stroke-width="0.9"/>
<line x1="104.02" y1="411.80" x2="104.02" y2="410.50" stroke="#303030" stroke-width="0.9"/>
<line x1="104.02" y1="312.95" x2="104.02" y2="314.25" stroke="#303030" stroke-width="0.9"/>
<line x1="121.39" y1="411.80" x2="121.39" y2="409.40" stroke="#303030" stroke-width="0.9"/>
<line x1="121.39" y1="312.95" x2="121.39" y2="315.35" stroke="#303030" stroke-width="0.9"/>
<text x="121.50" y="424.60" text-anchor="middle" font-size="9.5" letter-spacing="0.22">200</text>
<line x1="138.76" y1="411.80" x2="138.76" y2="410.50" stroke="#303030" stroke-width="0.9"/>
<line x1="138.76" y1="312.95" x2="138.76" y2="314.25" stroke="#303030" stroke-width="0.9"/>
<line x1="156.14" y1="411.80" x2="156.14" y2="410.50" stroke="#303030" stroke-width="0.9"/>
<line x1="156.14" y1="312.95" x2="156.14" y2="314.25" stroke="#303030" stroke-width="0.9"/>
<line x1="173.51" y1="411.80" x2="173.51" y2="410.50" stroke="#303030" stroke-width="0.9"/>
<line x1="173.51" y1="312.95" x2="173.51" y2="314.25" stroke="#303030" stroke-width="0.9"/>
<line x1="190.88" y1="411.80" x2="190.88" y2="409.40" stroke="#303030" stroke-width="0.9"/>
<line x1="190.88" y1="312.95" x2="190.88" y2="315.35" stroke="#303030" stroke-width="0.9"/>
<text x="190.99" y="424.60" text-anchor="middle" font-size="9.5" letter-spacing="0.22">400</text>
<line x1="208.25" y1="411.80" x2="208.25" y2="410.50" stroke="#303030" stroke-width="0.9"/>
<line x1="208.25" y1="312.95" x2="208.25" y2="314.25" stroke="#303030" stroke-width="0.9"/>
<line x1="225.63" y1="411.80" x2="225.63" y2="410.50" stroke="#303030" stroke-width="0.9"/>
<line x1="225.63" y1="312.95" x2="225.63" y2="314.25" stroke="#303030" stroke-width="0.9"/>
<line x1="243.00" y1="411.80" x2="243.00" y2="410.50" stroke="#303030" stroke-width="0.9"/>
<line x1="243.00" y1="312.95" x2="243.00" y2="314.25" stroke="#303030" stroke-width="0.9"/>
<line x1="260.37" y1="411.80" x2="260.37" y2="409.40" stroke="#303030" stroke-width="0.9"/>
<line x1="260.37" y1="312.95" x2="260.37" y2="315.35" stroke="#303030" stroke-width="0.9"/>
<text x="260.48" y="424.60" text-anchor="middle" font-size="9.5" letter-spacing="0.22">600</text>
<line x1="277.74" y1="411.80" x2="277.74" y2="410.50" stroke="#303030" stroke-width="0.9"/>
<line x1="277.74" y1="312.95" x2="277.74" y2="314.25" stroke="#303030" stroke-width="0.9"/>
<line x1="295.12" y1="411.80" x2="295.12" y2="410.50" stroke="#303030" stroke-width="0.9"/>
<line x1="295.12" y1="312.95" x2="295.12" y2="314.25" stroke="#303030" stroke-width="0.9"/>
<line x1="312.49" y1="411.80" x2="312.49" y2="410.50" stroke="#303030" stroke-width="0.9"/>
<line x1="312.49" y1="312.95" x2="312.49" y2="314.25" stroke="#303030" stroke-width="0.9"/>
<line x1="329.86" y1="411.80" x2="329.86" y2="409.40" stroke="#303030" stroke-width="0.9"/>
<line x1="329.86" y1="312.95" x2="329.86" y2="315.35" stroke="#303030" stroke-width="0.9"/>
<text x="329.97" y="424.60" text-anchor="middle" font-size="9.5" letter-spacing="0.22">800</text>
<line x1="347.23" y1="411.80" x2="347.23" y2="410.50" stroke="#303030" stroke-width="0.9"/>
<line x1="347.23" y1="312.95" x2="347.23" y2="314.25" stroke="#303030" stroke-width="0.9"/>
<line x1="364.61" y1="411.80" x2="364.61" y2="410.50" stroke="#303030" stroke-width="0.9"/>
<line x1="364.61" y1="312.95" x2="364.61" y2="314.25" stroke="#303030" stroke-width="0.9"/>
<line x1="381.98" y1="411.80" x2="381.98" y2="410.50" stroke="#303030" stroke-width="0.9"/>
<line x1="381.98" y1="312.95" x2="381.98" y2="314.25" stroke="#303030" stroke-width="0.9"/>
<text x="399.46" y="424.60" text-anchor="middle" font-size="9.5" letter-spacing="0.22">1000</text>
<text x="49.32" y="412.20" text-anchor="end" font-size="9.5" letter-spacing="0.22">−1.5</text>
<line x1="51.90" y1="408.98" x2="55.70" y2="408.98" stroke="#303030" stroke-width="0.9"/>
<line x1="399.35" y1="408.98" x2="395.55" y2="408.98" stroke="#303030" stroke-width="0.9"/>
<line x1="51.90" y1="406.15" x2="55.70" y2="406.15" stroke="#303030" stroke-width="0.9"/>
<line x1="399.35" y1="406.15" x2="395.55" y2="406.15" stroke="#303030" stroke-width="0.9"/>
<line x1="51.90" y1="403.33" x2="55.70" y2="403.33" stroke="#303030" stroke-width="0.9"/>
<line x1="399.35" y1="403.33" x2="395.55" y2="403.33" stroke="#303030" stroke-width="0.9"/>
<line x1="51.90" y1="400.50" x2="55.70" y2="400.50" stroke="#303030" stroke-width="0.9"/>
<line x1="399.35" y1="400.50" x2="395.55" y2="400.50" stroke="#303030" stroke-width="0.9"/>
<line x1="51.90" y1="397.68" x2="59.00" y2="397.68" stroke="#303030" stroke-width="0.9"/>
<line x1="399.35" y1="397.68" x2="392.25" y2="397.68" stroke="#303030" stroke-width="0.9"/>
<text x="49.32" y="401.18" text-anchor="end" font-size="9.5" letter-spacing="0.22">−1.0</text>
<line x1="51.90" y1="394.85" x2="55.70" y2="394.85" stroke="#303030" stroke-width="0.9"/>
<line x1="399.35" y1="394.85" x2="395.55" y2="394.85" stroke="#303030" stroke-width="0.9"/>
<line x1="51.90" y1="392.03" x2="55.70" y2="392.03" stroke="#303030" stroke-width="0.9"/>
<line x1="399.35" y1="392.03" x2="395.55" y2="392.03" stroke="#303030" stroke-width="0.9"/>
<line x1="51.90" y1="389.21" x2="55.70" y2="389.21" stroke="#303030" stroke-width="0.9"/>
<line x1="399.35" y1="389.21" x2="395.55" y2="389.21" stroke="#303030" stroke-width="0.9"/>
<line x1="51.90" y1="386.38" x2="55.70" y2="386.38" stroke="#303030" stroke-width="0.9"/>
<line x1="399.35" y1="386.38" x2="395.55" y2="386.38" stroke="#303030" stroke-width="0.9"/>
<line x1="51.90" y1="383.56" x2="59.00" y2="383.56" stroke="#303030" stroke-width="0.9"/>
<line x1="399.35" y1="383.56" x2="392.25" y2="383.56" stroke="#303030" stroke-width="0.9"/>
<text x="49.32" y="387.06" text-anchor="end" font-size="9.5" letter-spacing="0.22">−0.5</text>
<line x1="51.90" y1="380.73" x2="55.70" y2="380.73" stroke="#303030" stroke-width="0.9"/>
<line x1="399.35" y1="380.73" x2="395.55" y2="380.73" stroke="#303030" stroke-width="0.9"/>
<line x1="51.90" y1="377.91" x2="55.70" y2="377.91" stroke="#303030" stroke-width="0.9"/>
<line x1="399.35" y1="377.91" x2="395.55" y2="377.91" stroke="#303030" stroke-width="0.9"/>
<line x1="51.90" y1="375.08" x2="55.70" y2="375.08" stroke="#303030" stroke-width="0.9"/>
<line x1="399.35" y1="375.08" x2="395.55" y2="375.08" stroke="#303030" stroke-width="0.9"/>
<line x1="51.90" y1="372.26" x2="55.70" y2="372.26" stroke="#303030" stroke-width="0.9"/>
<line x1="399.35" y1="372.26" x2="395.55" y2="372.26" stroke="#303030" stroke-width="0.9"/>
<line x1="51.90" y1="369.44" x2="59.00" y2="369.44" stroke="#303030" stroke-width="0.9"/>
<line x1="399.35" y1="369.44" x2="392.25" y2="369.44" stroke="#303030" stroke-width="0.9"/>
<text x="49.32" y="372.94" text-anchor="end" font-size="9.5" letter-spacing="0.22">0.0</text>
<line x1="51.90" y1="366.61" x2="55.70" y2="366.61" stroke="#303030" stroke-width="0.9"/>
<line x1="399.35" y1="366.61" x2="395.55" y2="366.61" stroke="#303030" stroke-width="0.9"/>
<line x1="51.90" y1="363.79" x2="55.70" y2="363.79" stroke="#303030" stroke-width="0.9"/>
<line x1="399.35" y1="363.79" x2="395.55" y2="363.79" stroke="#303030" stroke-width="0.9"/>
<line x1="51.90" y1="360.96" x2="55.70" y2="360.96" stroke="#303030" stroke-width="0.9"/>
<line x1="399.35" y1="360.96" x2="395.55" y2="360.96" stroke="#303030" stroke-width="0.9"/>
<line x1="51.90" y1="358.14" x2="55.70" y2="358.14" stroke="#303030" stroke-width="0.9"/>
<line x1="399.35" y1="358.14" x2="395.55" y2="358.14" stroke="#303030" stroke-width="0.9"/>
<line x1="51.90" y1="355.31" x2="59.00" y2="355.31" stroke="#303030" stroke-width="0.9"/>
<line x1="399.35" y1="355.31" x2="392.25" y2="355.31" stroke="#303030" stroke-width="0.9"/>
<text x="49.32" y="358.81" text-anchor="end" font-size="9.5" letter-spacing="0.22">0.5</text>
<line x1="51.90" y1="352.49" x2="55.70" y2="352.49" stroke="#303030" stroke-width="0.9"/>
<line x1="399.35" y1="352.49" x2="395.55" y2="352.49" stroke="#303030" stroke-width="0.9"/>
<line x1="51.90" y1="349.67" x2="55.70" y2="349.67" stroke="#303030" stroke-width="0.9"/>
<line x1="399.35" y1="349.67" x2="395.55" y2="349.67" stroke="#303030" stroke-width="0.9"/>
<line x1="51.90" y1="346.84" x2="55.70" y2="346.84" stroke="#303030" stroke-width="0.9"/>
<line x1="399.35" y1="346.84" x2="395.55" y2="346.84" stroke="#303030" stroke-width="0.9"/>
<line x1="51.90" y1="344.02" x2="55.70" y2="344.02" stroke="#303030" stroke-width="0.9"/>
<line x1="399.35" y1="344.02" x2="395.55" y2="344.02" stroke="#303030" stroke-width="0.9"/>
<line x1="51.90" y1="341.19" x2="59.00" y2="341.19" stroke="#303030" stroke-width="0.9"/>
<line x1="399.35" y1="341.19" x2="392.25" y2="341.19" stroke="#303030" stroke-width="0.9"/>
<text x="49.32" y="344.69" text-anchor="end" font-size="9.5" letter-spacing="0.22">1.0</text>
<line x1="51.90" y1="338.37" x2="55.70" y2="338.37" stroke="#303030" stroke-width="0.9"/>
<line x1="399.35" y1="338.37" x2="395.55" y2="338.37" stroke="#303030" stroke-width="0.9"/>
<line x1="51.90" y1="335.54" x2="55.70" y2="335.54" stroke="#303030" stroke-width="0.9"/>
<line x1="399.35" y1="335.54" x2="395.55" y2="335.54" stroke="#303030" stroke-width="0.9"/>
<line x1="51.90" y1="332.72" x2="55.70" y2="332.72" stroke="#303030" stroke-width="0.9"/>
<line x1="399.35" y1="332.72" x2="395.55" y2="332.72" stroke="#303030" stroke-width="0.9"/>
<line x1="51.90" y1="329.90" x2="55.70" y2="329.90" stroke="#303030" stroke-width="0.9"/>
<line x1="399.35" y1="329.90" x2="395.55" y2="329.90" stroke="#303030" stroke-width="0.9"/>
<line x1="51.90" y1="327.07" x2="59.00" y2="327.07" stroke="#303030" stroke-width="0.9"/>
<line x1="399.35" y1="327.07" x2="392.25" y2="327.07" stroke="#303030" stroke-width="0.9"/>
<text x="49.32" y="330.57" text-anchor="end" font-size="9.5" letter-spacing="0.22">1.5</text>
<line x1="51.90" y1="324.25" x2="55.70" y2="324.25" stroke="#303030" stroke-width="0.9"/>
<line x1="399.35" y1="324.25" x2="395.55" y2="324.25" stroke="#303030" stroke-width="0.9"/>
<line x1="51.90" y1="321.42" x2="55.70" y2="321.42" stroke="#303030" stroke-width="0.9"/>
<line x1="399.35" y1="321.42" x2="395.55" y2="321.42" stroke="#303030" stroke-width="0.9"/>
<line x1="51.90" y1="318.60" x2="55.70" y2="318.60" stroke="#303030" stroke-width="0.9"/>
<line x1="399.35" y1="318.60" x2="395.55" y2="318.60" stroke="#303030" stroke-width="0.9"/>
<line x1="51.90" y1="315.77" x2="55.70" y2="315.77" stroke="#303030" stroke-width="0.9"/>
<line x1="399.35" y1="315.77" x2="395.55" y2="315.77" stroke="#303030" stroke-width="0.9"/>
<text x="49.32" y="319.05" text-anchor="end" font-size="9.5" letter-spacing="0.22">2.0</text>
<text x="225.65" y="435.70" text-anchor="middle" font-size="9.5" letter-spacing="0.05" word-spacing="0.9">Time (sec)</text>
<text x="21.40" y="362.38" text-anchor="middle" font-size="9.5" letter-spacing="0.15" transform="rotate(-90 21.40 362.38)">Rate</text>
<text x="225.63" y="308.35" text-anchor="middle" font-size="11.6" letter-spacing="0.02" word-spacing="1.55">Light Curves with Noise Level: 40.00 %</text>
<g clip-path="url(#cl2)">
<polyline points="51.9,367.4 52.2,378.7 52.6,386.2 52.9,361.2 53.3,384.3 53.6,360.6 54.0,372.6 54.3,353.6 54.7,372.1 55.0,372.6 55.4,368.0 55.7,376.7 56.1,350.7 56.4,357.4 56.8,346.9 57.1,358.9 57.5,375.0 57.8,378.1 58.2,373.1 58.5,375.5 58.8,360.6 59.2,368.5 59.5,391.6 59.9,373.2 60.2,365.6 60.6,362.9 60.9,371.5 61.3,376.7 61.6,367.8 62.0,378.5 62.3,367.2 62.7,381.9 63.0,393.4 63.4,367.6 63.7,378.7 64.1,368.1 64.4,376.8 64.8,377.2 65.1,379.5 65.5,361.3 65.8,370.4 66.1,368.8 66.5,350.5 66.8,357.2 67.2,377.4 67.5,370.9 67.9,369.2 68.2,371.1 68.6,361.8 68.9,363.3 69.3,369.6 69.6,360.4 70.0,373.9 70.3,357.1 70.7,369.3 71.0,383.3 71.4,355.1 71.7,373.7 72.1,383.0 72.4,372.7 72.7,360.0 73.1,364.0 73.4,389.2 73.8,371.0 74.1,367.7 74.5,358.5 74.8,377.6 75.2,354.3 75.5,377.1 75.9,375.0 76.2,362.6 76.6,370.8 76.9,365.2 77.3,369.6 77.6,383.2 78.0,366.4 78.3,375.4 78.7,367.9 79.0,384.2 79.3,386.1 79.7,370.8 80.0,368.8 80.4,371.0 80.7,355.5 81.1,371.3 81.4,350.0 81.8,380.7 82.1,360.7 82.5,369.3 82.8,370.1 83.2,365.8 83.5,363.6 83.9,350.7 84.2,360.4 84.6,358.3 84.9,363.9 85.3,376.9 85.6,363.1 86.0,372.3 86.3,365.1 86.6,362.8 87.0,373.6 87.3,340.7 87.7,349.7 88.0,347.8 88.4,351.6 88.7,358.0 89.1,359.1 89.4,323.8 89.8,363.5 90.1,354.9 90.5,356.6 90.8,352.6 91.2,332.1 91.5,346.3 91.9,356.8 92.2,348.5 92.6,345.9 92.9,330.1 93.2,340.9 93.6,341.6 93.9,330.2 94.3,362.0 94.6,353.3 95.0,355.8 95.3,360.8 95.7,338.7 96.0,342.1 96.4,350.1 96.7,333.0 97.1,357.9 97.4,350.4 97.8,348.3 98.1,331.9 98.5,346.4 98.8,347.5 99.2,329.7 99.5,354.2 99.8,341.5 100.2,343.7 100.5,359.3 100.9,342.4 101.2,355.5 101.6,361.8 101.9,342.7 102.3,364.0 102.6,338.2 103.0,323.2 103.3,335.3 103.7,363.3 104.0,343.9 104.4,324.8 104.7,335.6 105.1,333.7 105.4,371.8 105.8,363.2 106.1,360.7 106.4,366.3 106.8,353.1 107.1,365.2 107.5,348.1 107.8,361.4 108.2,353.8 108.5,356.0 108.9,350.4 109.2,365.0 109.6,353.5 109.9,363.2 110.3,343.6 110.6,346.9 111.0,353.9 111.3,352.3 111.7,359.9 112.0,351.3 112.4,352.0 112.7,360.0 113.1,373.3 113.4,350.8 113.7,385.7 114.1,369.6 114.4,359.1 114.8,375.3 115.1,370.9 115.5,360.0 115.8,341.5 116.2,351.3 116.5,369.6 116.9,366.0 117.2,356.6 117.6,361.7 117.9,376.7 118.3,349.6 118.6,367.7 119.0,350.4 119.3,352.6 119.7,360.3 120.0,342.9 120.3,362.0 120.7,377.7 121.0,377.2 121.4,360.4 121.7,357.8 122.1,360.5 122.4,336.4 122.8,329.8 123.1,389.7 123.5,367.9 123.8,359.4 124.2,361.4 124.5,386.3 124.9,377.1 125.2,357.5 125.6,374.6 125.9,343.6 126.3,364.5 126.6,374.2 126.9,348.5 127.3,356.6 127.6,387.6 128.0,365.5 128.3,355.0 128.7,344.0 129.0,366.6 129.4,353.0 129.7,361.9 130.1,360.4 130.4,353.6 130.8,376.9 131.1,356.8 131.5,363.7 131.8,385.4 132.2,351.4 132.5,365.6 132.9,398.1 133.2,363.7 133.6,359.9 133.9,359.7 134.2,376.7 134.6,364.8 134.9,362.8 135.3,374.6 135.6,373.4 136.0,371.5 136.3,356.7 136.7,341.8 137.0,368.4 137.4,371.0 137.7,355.2 138.1,366.8 138.4,363.8 138.8,366.5 139.1,343.0 139.5,358.0 139.8,367.8 140.2,380.5 140.5,369.4 140.8,382.7 141.2,361.2 141.5,356.7 141.9,354.5 142.2,366.9 142.6,350.0 142.9,353.8 143.3,345.9 143.6,337.7 144.0,367.0 144.3,356.1 144.7,364.4 145.0,344.5 145.4,366.7 145.7,356.4 146.1,348.1 146.4,377.9 146.8,371.5 147.1,387.9 147.4,376.6 147.8,357.8 148.1,356.9 148.5,371.0 148.8,347.0 149.2,357.3 149.5,359.6 149.9,369.1 150.2,353.8 150.6,377.9 150.9,353.4 151.3,356.5 151.6,369.9 152.0,353.6 152.3,360.6 152.7,355.5 153.0,348.0 153.4,362.1 153.7,360.2 154.1,347.3 154.4,356.0 154.7,369.6 155.1,358.7 155.4,369.3 155.8,379.6 156.1,345.7 156.5,346.1 156.8,355.5 157.2,356.4 157.5,367.6 157.9,338.3 158.2,342.3 158.6,371.6 158.9,376.5 159.3,356.7 159.6,362.0 160.0,377.8 160.3,355.6 160.7,362.6 161.0,369.7 161.3,377.4 161.7,357.0 162.0,356.2 162.4,379.9 162.7,358.7 163.1,348.4 163.4,359.1 163.8,360.0 164.1,349.4 164.5,342.7 164.8,360.9 165.2,365.2 165.5,357.8 165.9,357.5 166.2,379.1 166.6,364.0 166.9,342.0 167.3,342.0 167.6,365.0 167.9,353.6 168.3,351.2 168.6,361.7 169.0,344.8 169.3,368.7 169.7,385.9 170.0,365.4 170.4,353.8 170.7,352.1 171.1,378.2 171.4,353.2 171.8,338.9 172.1,323.1 172.5,357.0 172.8,342.1 173.2,343.1 173.5,352.4 173.9,335.7 174.2,338.8 174.5,344.4 174.9,359.8 175.2,372.5 175.6,373.3 175.9,383.9 176.3,349.9 176.6,357.6 177.0,374.5 177.3,354.5 177.7,341.0 178.0,354.7 178.4,357.6 178.7,374.3 179.1,349.7 179.4,361.1 179.8,360.7 180.1,361.9 180.5,355.5 180.8,345.2 181.2,359.8 181.5,351.9 181.8,373.9 182.2,371.1 182.5,349.8 182.9,344.6 183.2,350.0 183.6,343.6 183.9,355.1 184.3,359.3 184.6,373.0 185.0,347.9 185.3,359.4 185.7,362.6 186.0,343.5 186.4,344.9 186.7,366.7 187.1,354.2 187.4,359.7 187.8,346.3 188.1,345.4 188.4,337.0 188.8,344.0 189.1,358.3 189.5,359.3 189.8,348.1 190.2,345.1 190.5,348.6 190.9,352.9 191.2,350.2 191.6,352.9 191.9,360.6 192.3,354.3 192.6,353.4 193.0,348.8 193.3,347.3 193.7,358.1 194.0,358.8 194.4,359.5 194.7,336.1 195.0,364.5 195.4,371.1 195.7,355.5 196.1,366.9 196.4,333.5 196.8,357.4 197.1,326.3 197.5,359.6 197.8,363.4 198.2,352.1 198.5,344.3 198.9,337.6 199.2,350.4 199.6,366.7 199.9,385.9 200.3,343.5 200.6,354.0 201.0,351.2 201.3,366.7 201.7,344.6 202.0,355.8 202.3,367.9 202.7,356.4 203.0,352.7 203.4,341.9 203.7,379.0 204.1,361.6 204.4,372.2 204.8,373.5 205.1,359.3 205.5,358.1 205.8,342.0 206.2,363.7 206.5,336.5 206.9,374.3 207.2,363.1 207.6,363.3 207.9,342.6 208.3,357.5 208.6,348.6 208.9,346.9 209.3,366.3 209.6,358.5 210.0,352.3 210.3,350.9 210.7,336.7 211.0,354.7 211.4,376.0 211.7,343.5 212.1,352.1 212.4,333.6 212.8,366.7 213.1,368.6 213.5,357.5 213.8,370.3 214.2,346.0 214.5,353.5 214.9,344.6 215.2,340.2 215.5,365.2 215.9,341.1 216.2,346.5 216.6,333.0 216.9,348.7 217.3,338.4 217.6,338.3 218.0,335.0 218.3,355.6 218.7,352.5 219.0,343.0 219.4,367.5 219.7,349.0 220.1,346.4 220.4,352.2 220.8,325.8 221.1,359.0 221.5,356.4 221.8,349.7 222.2,352.6 222.5,351.0 222.8,384.4 223.2,359.3 223.5,359.8 223.9,367.0 224.2,357.6 224.6,348.1 224.9,342.9 225.3,365.7 225.6,356.1 226.0,340.7 226.3,356.7 226.7,376.2 227.0,359.5 227.4,355.2 227.7,348.7 228.1,356.0 228.4,384.5 228.8,360.7 229.1,364.7 229.4,354.2 229.8,376.9 230.1,357.4 230.5,362.3 230.8,355.6 231.2,356.4 231.5,382.9 231.9,361.0 232.2,361.9 232.6,366.5 232.9,364.3 233.3,346.0 233.6,365.9 234.0,379.0 234.3,369.6 234.7,354.4 235.0,342.0 235.4,375.7 235.7,353.2 236.0,358.7 236.4,361.7 236.7,357.1 237.1,359.2 237.4,356.3 237.8,354.8 238.1,366.5 238.5,359.3 238.8,352.8 239.2,362.0 239.5,348.0 239.9,337.8 240.2,361.5 240.6,374.4 240.9,343.3 241.3,378.1 241.6,350.6 242.0,361.7 242.3,355.1 242.7,353.2 243.0,341.8 243.3,347.7 243.7,356.6 244.0,356.0 244.4,367.8 244.7,363.5 245.1,352.2 245.4,364.4 245.8,347.1 246.1,363.5 246.5,367.1 246.8,356.4 247.2,361.7 247.5,355.4 247.9,359.4 248.2,330.4 248.6,355.4 248.9,386.7 249.3,357.9 249.6,344.3 249.9,376.9 250.3,365.8 250.6,350.3 251.0,352.0 251.3,361.7 251.7,341.0 252.0,349.7 252.4,375.9 252.7,363.4 253.1,352.9 253.4,371.6 253.8,369.7 254.1,346.4 254.5,361.5 254.8,380.1 255.2,366.1 255.5,357.4 255.9,369.6 256.2,361.8 256.5,356.0 256.9,344.3 257.2,345.6 257.6,371.6 257.9,366.8 258.3,350.9 258.6,359.3 259.0,379.9 259.3,361.8 259.7,357.8 260.0,351.2 260.4,365.7 260.7,373.3 261.1,362.6 261.4,357.4 261.8,364.4 262.1,375.2 262.5,362.5 262.8,358.4 263.1,355.8 263.5,373.4 263.8,354.4 264.2,352.1 264.5,360.4 264.9,374.1 265.2,360.2 265.6,369.7 265.9,365.2 266.3,353.0 266.6,359.8 267.0,355.1 267.3,362.0 267.7,373.2 268.0,351.3 268.4,367.8 268.7,371.0 269.1,372.8 269.4,371.7 269.8,349.2 270.1,367.7 270.4,367.5 270.8,362.6 271.1,377.7 271.5,335.2 271.8,368.4 272.2,349.6 272.5,370.2 272.9,361.7 273.2,359.1 273.6,345.1 273.9,352.0 274.3,351.2 274.6,375.7 275.0,340.9 275.3,364.5 275.7,352.6 276.0,372.0 276.4,342.0 276.7,360.1 277.0,376.9 277.4,379.6 277.7,366.4 278.1,367.7 278.4,354.1 278.8,374.5 279.1,336.7 279.5,372.2 279.8,356.2 280.2,363.6 280.5,352.2 280.9,364.2 281.2,350.3 281.6,360.3 281.9,354.6 282.3,350.4 282.6,362.7 283.0,367.4 283.3,363.3 283.6,365.8 284.0,383.9 284.3,361.3 284.7,369.6 285.0,361.8 285.4,350.9 285.7,355.5 286.1,360.8 286.4,361.2 286.8,362.6 287.1,353.7 287.5,370.8 287.8,356.5 288.2,358.2 288.5,362.9 288.9,366.1 289.2,369.0 289.6,367.8 289.9,365.7 290.3,354.1 290.6,352.4 290.9,363.1 291.3,354.6 291.6,359.5 292.0,354.0 292.3,362.6 292.7,371.8 293.0,361.4 293.4,369.5 293.7,349.9 294.1,375.8 294.4,369.1 294.8,364.4 295.1,358.2 295.5,360.7 295.8,365.1 296.2,360.0 296.5,367.4 296.9,362.5 297.2,376.4 297.5,356.3 297.9,385.7 298.2,353.4 298.6,365.4 298.9,357.6 299.3,353.1 299.6,365.3 300.0,365.0 300.3,349.6 300.7,364.3 301.0,362.2 301.4,376.8 301.7,363.6 302.1,345.5 302.4,354.0 302.8,364.4 303.1,375.8 303.5,360.6 303.8,359.9 304.1,363.5 304.5,342.7 304.8,352.4 305.2,372.6 305.5,363.3 305.9,354.6 306.2,353.0 306.6,377.8 306.9,374.7 307.3,368.9 307.6,383.9 308.0,363.5 308.3,354.9 308.7,357.7 309.0,350.3 309.4,367.6 309.7,363.5 310.1,369.0 310.4,364.6 310.8,367.8 311.1,352.0 311.4,379.1 311.8,366.1 312.1,380.9 312.5,368.3 312.8,357.1 313.2,372.2 313.5,364.0 313.9,343.4 314.2,376.5 314.6,363.0 314.9,358.5 315.3,356.2 315.6,361.0 316.0,350.5 316.3,351.5 316.7,366.3 317.0,367.7 317.4,360.8 317.7,383.6 318.0,359.3 318.4,348.5 318.7,371.0 319.1,365.0 319.4,367.6 319.8,350.1 320.1,338.5 320.5,364.0 320.8,370.7 321.2,388.8 321.5,379.1 321.9,363.6 322.2,362.2 322.6,344.3 322.9,358.8 323.3,362.3 323.6,355.4 324.0,354.9 324.3,351.2 324.6,347.4 325.0,386.1 325.3,366.1 325.7,369.5 326.0,371.8 326.4,380.5 326.7,343.9 327.1,374.8 327.4,340.5 327.8,360.8 328.1,380.8 328.5,366.9 328.8,375.7 329.2,353.9 329.5,347.8 329.9,365.3 330.2,357.5 330.6,348.5 330.9,363.7 331.2,381.9 331.6,378.7 331.9,358.7 332.3,345.4 332.6,364.5 333.0,344.3 333.3,351.1 333.7,372.5 334.0,362.3 334.4,380.3 334.7,355.1 335.1,370.5 335.4,355.8 335.8,369.3 336.1,358.2 336.5,354.0 336.8,389.9 337.2,383.5 337.5,358.7 337.9,362.5 338.2,366.7 338.5,358.6 338.9,390.7 339.2,368.2 339.6,355.9 339.9,351.3 340.3,350.4 340.6,374.5 341.0,373.2 341.3,375.3 341.7,375.7 342.0,363.8 342.4,363.4 342.7,365.3 343.1,353.4 343.4,347.1 343.8,354.3 344.1,367.3 344.5,371.4 344.8,355.7 345.1,370.2 345.5,365.2 345.8,342.3 346.2,369.8 346.5,346.4 346.9,383.3 347.2,369.1 347.6,379.5 347.9,354.9 348.3,374.5 348.6,370.7 349.0,358.0 349.3,359.1 349.7,370.7 350.0,360.0 350.4,384.8 350.7,362.8 351.1,357.8 351.4,365.1 351.7,354.6 352.1,353.5 352.4,381.0 352.8,375.2 353.1,386.3 353.5,381.7 353.8,352.2 354.2,371.7 354.5,385.3 354.9,363.4 355.2,352.7 355.6,369.9 355.9,375.1 356.3,375.2 356.6,373.4 357.0,373.4 357.3,358.0 357.7,374.0 358.0,368.6 358.4,365.7 358.7,369.5 359.0,365.6 359.4,393.6 359.7,391.0 360.1,368.6 360.4,377.7 360.8,357.1 361.1,366.5 361.5,371.0 361.8,358.2 362.2,364.3 362.5,365.8 362.9,381.3 363.2,346.8 363.6,369.3 363.9,384.4 364.3,372.9 364.6,376.7 365.0,367.2 365.3,368.3 365.6,361.9 366.0,375.7 366.3,363.3 366.7,367.2 367.0,368.0 367.4,377.4 367.7,367.2 368.1,360.8 368.4,369.4 368.8,356.4 369.1,368.9 369.5,385.2 369.8,379.1 370.2,371.1 370.5,370.8 370.9,355.1 371.2,388.9 371.6,377.5 371.9,361.7 372.2,391.4 372.6,365.7 372.9,342.4 373.3,361.9 373.6,345.9 374.0,369.9 374.3,361.8 374.7,359.9 375.0,371.1 375.4,375.8 375.7,359.0 376.1,370.9 376.4,383.3 376.8,393.4 377.1,341.4 377.5,374.1 377.8,355.2 378.2,386.5 378.5,385.1 378.9,395.4 379.2,380.9 379.5,383.1 379.9,363.9 380.2,358.8 380.6,378.7 380.9,365.8 381.3,359.9 381.6,390.1 382.0,369.7 382.3,365.2 382.7,363.9 383.0,361.0 383.4,387.0 383.7,360.4 384.1,359.6 384.4,370.6 384.8,373.1 385.1,366.1 385.5,364.0 385.8,385.1 386.1,366.6 386.5,364.5 386.8,380.0 387.2,360.8 387.5,370.9 387.9,361.5 388.2,363.5 388.6,354.5 388.9,376.0 389.3,367.9 389.6,358.4 390.0,357.8 390.3,379.4 390.7,371.9 391.0,368.0 391.4,380.0 391.7,366.6 392.1,361.4 392.4,377.4 392.7,370.2 393.1,369.3 393.4,374.8 393.8,384.1 394.1,374.3 394.5,374.4 394.8,359.6 395.2,375.2 395.5,392.1 395.9,385.3 396.2,384.6 396.6,368.5 396.9,354.1 397.3,361.2 397.6,389.0 398.0,370.2 398.3,356.2 398.7,362.6 399.0,358.2" fill="none" stroke="#ff0000" stroke-width="0.7" stroke-linejoin="bevel"/>
<polyline points="51.9,386.6 52.2,376.8 52.6,377.4 52.9,378.4 53.3,362.0 53.6,358.6 54.0,372.9 54.3,368.2 54.7,373.0 55.0,386.3 55.4,371.4 55.7,369.9 56.1,374.0 56.4,368.9 56.8,371.2 57.1,359.2 57.5,368.4 57.8,376.3 58.2,364.1 58.5,363.2 58.8,349.5 59.2,389.3 59.5,369.0 59.9,396.3 60.2,377.0 60.6,363.0 60.9,371.8 61.3,364.8 61.6,373.1 62.0,349.1 62.3,367.0 62.7,360.8 63.0,360.0 63.4,384.9 63.7,372.6 64.1,362.0 64.4,355.1 64.8,343.0 65.1,366.4 65.5,374.2 65.8,380.2 66.1,368.0 66.5,367.5 66.8,381.5 67.2,379.1 67.5,375.7 67.9,353.0 68.2,383.5 68.6,359.3 68.9,361.2 69.3,386.4 69.6,379.7 70.0,377.2 70.3,357.5 70.7,370.3 71.0,380.7 71.4,349.8 71.7,381.6 72.1,353.4 72.4,360.5 72.7,375.6 73.1,368.3 73.4,362.8 73.8,362.6 74.1,367.5 74.5,376.1 74.8,358.8 75.2,376.6 75.5,387.2 75.9,358.5 76.2,379.3 76.6,384.8 76.9,366.0 77.3,360.0 77.6,357.5 78.0,355.1 78.3,374.1 78.7,380.6 79.0,368.6 79.3,400.0 79.7,361.3 80.0,353.3 80.4,368.2 80.7,371.2 81.1,356.9 81.4,375.1 81.8,366.5 82.1,357.5 82.5,355.5 82.8,379.4 83.2,361.0 83.5,349.3 83.9,368.5 84.2,350.9 84.6,362.5 84.9,353.0 85.3,349.9 85.6,346.9 86.0,333.1 86.3,350.3 86.6,381.3 87.0,364.0 87.3,364.5 87.7,370.7 88.0,342.8 88.4,339.7 88.7,370.9 89.1,368.8 89.4,344.6 89.8,336.4 90.1,343.4 90.5,355.2 90.8,323.7 91.2,361.8 91.5,339.0 91.9,325.5 92.2,364.9 92.6,346.7 92.9,340.6 93.2,355.6 93.6,357.6 93.9,347.0 94.3,346.5 94.6,339.2 95.0,344.8 95.3,352.9 95.7,346.6 96.0,332.0 96.4,345.2 96.7,339.5 97.1,335.0 97.4,337.1 97.8,339.8 98.1,361.1 98.5,352.0 98.8,353.9 99.2,333.6 99.5,335.1 99.8,352.0 100.2,340.0 100.5,333.2 100.9,351.0 101.2,355.5 101.6,336.3 101.9,354.5 102.3,355.2 102.6,364.2 103.0,350.9 103.3,357.5 103.7,356.4 104.0,346.3 104.4,344.7 104.7,352.4 105.1,379.5 105.4,364.2 105.8,346.3 106.1,360.7 106.4,348.5 106.8,360.6 107.1,362.3 107.5,346.2 107.8,366.9 108.2,353.9 108.5,349.0 108.9,334.6 109.2,361.4 109.6,355.8 109.9,356.2 110.3,377.2 110.6,390.3 111.0,357.2 111.3,362.8 111.7,348.8 112.0,369.3 112.4,348.6 112.7,356.8 113.1,369.2 113.4,351.5 113.7,360.9 114.1,365.1 114.4,355.0 114.8,373.5 115.1,384.8 115.5,361.1 115.8,346.1 116.2,347.8 116.5,365.0 116.9,355.7 117.2,341.9 117.6,353.2 117.9,353.3 118.3,377.9 118.6,353.9 119.0,375.4 119.3,376.9 119.7,354.1 120.0,364.5 120.3,368.6 120.7,366.8 121.0,375.2 121.4,367.4 121.7,357.8 122.1,362.2 122.4,354.7 122.8,357.4 123.1,358.0 123.5,370.3 123.8,369.1 124.2,377.1 124.5,382.9 124.9,365.8 125.2,359.9 125.6,371.2 125.9,363.1 126.3,354.0 126.6,358.2 126.9,372.1 127.3,359.3 127.6,358.3 128.0,367.6 128.3,365.1 128.7,353.0 129.0,358.3 129.4,354.9 129.7,385.1 130.1,354.5 130.4,366.4 130.8,363.7 131.1,364.5 131.5,365.9 131.8,364.0 132.2,370.6 132.5,366.4 132.9,376.6 133.2,354.9 133.6,380.4 133.9,348.8 134.2,371.2 134.6,345.7 134.9,375.1 135.3,368.4 135.6,357.6 136.0,374.7 136.3,345.1 136.7,366.1 137.0,368.5 137.4,370.2 137.7,361.6 138.1,355.7 138.4,364.7 138.8,365.3 139.1,362.7 139.5,362.7 139.8,376.1 140.2,345.0 140.5,381.3 140.8,389.6 141.2,354.7 141.5,355.4 141.9,374.7 142.2,369.4 142.6,351.7 142.9,369.2 143.3,367.0 143.6,358.7 144.0,376.6 144.3,369.8 144.7,339.5 145.0,368.4 145.4,373.6 145.7,363.3 146.1,368.2 146.4,349.8 146.8,360.9 147.1,372.5 147.4,368.9 147.8,367.2 148.1,359.7 148.5,382.4 148.8,384.5 149.2,384.4 149.5,350.2 149.9,372.7 150.2,364.2 150.6,348.0 150.9,351.0 151.3,357.7 151.6,360.6 152.0,347.3 152.3,373.2 152.7,377.1 153.0,360.2 153.4,358.9 153.7,360.6 154.1,350.9 154.4,373.6 154.7,373.7 155.1,355.4 155.4,382.2 155.8,361.9 156.1,351.0 156.5,350.6 156.8,371.4 157.2,364.2 157.5,359.8 157.9,372.8 158.2,362.3 158.6,365.7 158.9,365.3 159.3,346.0 159.6,372.6 160.0,378.3 160.3,333.2 160.7,363.8 161.0,340.9 161.3,349.1 161.7,363.2 162.0,374.5 162.4,355.2 162.7,338.1 163.1,379.0 163.4,353.0 163.8,350.4 164.1,347.7 164.5,359.6 164.8,368.8 165.2,367.4 165.5,377.2 165.9,364.0 166.2,366.0 166.6,347.7 166.9,354.8 167.3,374.9 167.6,357.2 167.9,357.0 168.3,354.4 168.6,344.7 169.0,377.0 169.3,349.5 169.7,357.6 170.0,368.8 170.4,356.3 170.7,348.6 171.1,344.7 171.4,354.4 171.8,341.4 172.1,341.1 172.5,359.3 172.8,353.8 173.2,353.5 173.5,363.9 173.9,341.0 174.2,380.6 174.5,356.1 174.9,356.6 175.2,343.5 175.6,361.5 175.9,372.0 176.3,358.6 176.6,372.4 177.0,340.1 177.3,358.7 177.7,350.9 178.0,349.6 178.4,342.4 178.7,357.8 179.1,365.1 179.4,348.3 179.8,369.9 180.1,359.8 180.5,362.3 180.8,357.2 181.2,350.6 181.5,373.7 181.8,353.9 182.2,339.3 182.5,360.7 182.9,365.5 183.2,364.6 183.6,356.3 183.9,354.4 184.3,371.9 184.6,381.7 185.0,353.7 185.3,359.3 185.7,338.2 186.0,356.6 186.4,362.7 186.7,362.4 187.1,338.4 187.4,347.2 187.8,355.6 188.1,366.8 188.4,348.1 188.8,351.8 189.1,366.6 189.5,353.3 189.8,327.3 190.2,346.6 190.5,373.0 190.9,365.5 191.2,346.3 191.6,356.7 191.9,357.6 192.3,358.4 192.6,362.0 193.0,360.5 193.3,345.4 193.7,356.3 194.0,351.2 194.4,341.4 194.7,353.4 195.0,337.8 195.4,364.4 195.7,344.8 196.1,363.8 196.4,336.1 196.8,334.2 197.1,354.3 197.5,351.3 197.8,348.4 198.2,358.1 198.5,351.2 198.9,363.1 199.2,367.6 199.6,365.6 199.9,352.9 200.3,365.4 200.6,357.3 201.0,352.6 201.3,341.5 201.7,356.1 202.0,362.3 202.3,334.6 202.7,350.9 203.0,340.5 203.4,349.4 203.7,361.4 204.1,350.4 204.4,356.4 204.8,355.5 205.1,364.8 205.5,350.6 205.8,359.4 206.2,354.0 206.5,366.0 206.9,358.5 207.2,359.4 207.6,357.9 207.9,367.2 208.3,372.7 208.6,353.9 208.9,344.7 209.3,340.7 209.6,355.1 210.0,347.6 210.3,371.0 210.7,361.2 211.0,354.1 211.4,363.3 211.7,348.2 212.1,358.3 212.4,346.3 212.8,356.5 213.1,355.7 213.5,348.8 213.8,361.2 214.2,344.4 214.5,334.0 214.9,355.1 215.2,338.1 215.5,359.5 215.9,346.8 216.2,356.8 216.6,357.8 216.9,353.8 217.3,333.7 217.6,341.1 218.0,369.1 218.3,365.0 218.7,343.4 219.0,369.9 219.4,363.2 219.7,343.0 220.1,353.0 220.4,349.3 220.8,358.1 221.1,337.5 221.5,365.9 221.8,355.6 222.2,339.4 222.5,346.8 222.8,368.5 223.2,341.4 223.5,357.9 223.9,348.5 224.2,339.7 224.6,354.1 224.9,362.6 225.3,369.3 225.6,362.9 226.0,358.2 226.3,361.3 226.7,379.3 227.0,368.3 227.4,359.4 227.7,358.9 228.1,345.6 228.4,360.9 228.8,360.9 229.1,364.8 229.4,366.6 229.8,356.9 230.1,364.9 230.5,351.5 230.8,325.8 231.2,351.5 231.5,342.7 231.9,358.4 232.2,361.1 232.6,351.4 232.9,350.5 233.3,338.2 233.6,336.8 234.0,361.9 234.3,356.7 234.7,347.1 235.0,343.8 235.4,373.1 235.7,357.8 236.0,364.0 236.4,363.7 236.7,348.9 237.1,362.9 237.4,366.9 237.8,374.0 238.1,347.4 238.5,366.0 238.8,348.5 239.2,364.6 239.5,329.6 239.9,368.8 240.2,380.3 240.6,342.9 240.9,347.4 241.3,358.2 241.6,350.9 242.0,359.8 242.3,357.3 242.7,354.4 243.0,358.7 243.3,344.3 243.7,380.1 244.0,363.5 244.4,359.3 244.7,360.1 245.1,344.6 245.4,374.1 245.8,363.1 246.1,360.4 246.5,365.0 246.8,337.1 247.2,369.1 247.5,354.6 247.9,360.9 248.2,337.7 248.6,364.9 248.9,375.3 249.3,360.2 249.6,346.3 249.9,367.2 250.3,387.0 250.6,344.1 251.0,365.6 251.3,365.4 251.7,368.1 252.0,338.9 252.4,352.7 252.7,366.6 253.1,351.1 253.4,362.6 253.8,351.2 254.1,358.2 254.5,364.4 254.8,360.0 255.2,356.9 255.5,355.5 255.9,367.3 256.2,357.9 256.5,338.7 256.9,367.6 257.2,357.4 257.6,371.2 257.9,384.5 258.3,347.5 258.6,347.9 259.0,366.5 259.3,362.7 259.7,352.9 260.0,358.7 260.4,357.8 260.7,364.7 261.1,355.5 261.4,381.5 261.8,349.4 262.1,360.6 262.5,346.1 262.8,348.3 263.1,379.6 263.5,375.3 263.8,354.1 264.2,345.7 264.5,373.3 264.9,359.6 265.2,374.6 265.6,350.8 265.9,361.1 266.3,377.3 266.6,348.9 267.0,356.2 267.3,371.1 267.7,362.0 268.0,386.4 268.4,365.0 268.7,344.9 269.1,366.2 269.4,371.2 269.8,358.1 270.1,358.1 270.4,364.3 270.8,357.0 271.1,370.6 271.5,349.3 271.8,360.4 272.2,348.1 272.5,365.5 272.9,365.9 273.2,357.9 273.6,385.7 273.9,379.3 274.3,362.2 274.6,366.8 275.0,361.7 275.3,365.5 275.7,355.4 276.0,381.9 276.4,358.0 276.7,362.0 277.0,381.4 277.4,395.7 277.7,333.9 278.1,363.7 278.4,358.5 278.8,368.5 279.1,358.5 279.5,365.4 279.8,376.0 280.2,346.8 280.5,347.4 280.9,391.3 281.2,357.4 281.6,358.0 281.9,347.1 282.3,378.1 282.6,356.6 283.0,367.5 283.3,358.8 283.6,358.8 284.0,347.4 284.3,395.5 284.7,345.3 285.0,348.1 285.4,365.0 285.7,347.7 286.1,352.8 286.4,367.5 286.8,368.2 287.1,364.3 287.5,348.9 287.8,372.0 288.2,389.5 288.5,375.7 288.9,390.6 289.2,383.5 289.6,386.7 289.9,368.5 290.3,339.9 290.6,353.6 290.9,367.4 291.3,372.1 291.6,354.3 292.0,336.9 292.3,370.7 292.7,365.9 293.0,375.5 293.4,356.7 293.7,349.3 294.1,369.4 294.4,393.2 294.8,366.6 295.1,360.7 295.5,347.4 295.8,379.3 296.2,373.2 296.5,364.6 296.9,362.8 297.2,376.3 297.5,340.4 297.9,362.9 298.2,374.0 298.6,352.7 298.9,347.4 299.3,358.3 299.6,365.8 300.0,360.8 300.3,376.2 300.7,358.4 301.0,367.9 301.4,360.5 301.7,369.6 302.1,353.7 302.4,365.5 302.8,372.6 303.1,373.4 303.5,356.3 303.8,372.1 304.1,374.6 304.5,377.6 304.8,379.7 305.2,364.4 305.5,370.3 305.9,370.1 306.2,376.0 306.6,363.2 306.9,375.1 307.3,356.7 307.6,385.9 308.0,349.8 308.3,370.0 308.7,363.3 309.0,359.7 309.4,371.1 309.7,347.2 310.1,359.6 310.4,381.3 310.8,368.2 311.1,351.5 311.4,340.8 311.8,363.8 312.1,376.7 312.5,366.1 312.8,357.5 313.2,352.4 313.5,358.5 313.9,372.7 314.2,347.6 314.6,368.9 314.9,367.0 315.3,385.8 315.6,379.6 316.0,349.9 316.3,366.0 316.7,371.6 317.0,372.6 317.4,365.5 317.7,369.0 318.0,362.3 318.4,375.3 318.7,356.7 319.1,360.5 319.4,359.5 319.8,369.1 320.1,362.2 320.5,364.7 320.8,377.1 321.2,347.7 321.5,365.2 321.9,372.9 322.2,369.6 322.6,378.1 322.9,361.0 323.3,377.3 323.6,368.9 324.0,359.0 324.3,361.0 324.6,368.4 325.0,364.7 325.3,358.5 325.7,369.8 326.0,372.9 326.4,367.5 326.7,359.5 327.1,328.2 327.4,354.3 327.8,363.8 328.1,369.4 328.5,356.8 328.8,371.0 329.2,370.1 329.5,374.3 329.9,353.1 330.2,367.9 330.6,389.0 330.9,341.0 331.2,371.5 331.6,344.9 331.9,370.8 332.3,352.1 332.6,372.8 333.0,367.5 333.3,353.6 333.7,374.3 334.0,357.5 334.4,379.5 334.7,366.4 335.1,369.2 335.4,380.9 335.8,348.9 336.1,370.5 336.5,352.8 336.8,356.0 337.2,354.8 337.5,386.9 337.9,374.6 338.2,356.3 338.5,353.2 338.9,387.2 339.2,349.9 339.6,368.9 339.9,357.2 340.3,367.0 340.6,355.1 341.0,368.9 341.3,346.8 341.7,379.6 342.0,362.1 342.4,367.4 342.7,364.2 343.1,365.1 343.4,366.9 343.8,360.2 344.1,368.1 344.5,364.3 344.8,362.2 345.1,379.2 345.5,378.7 345.8,370.0 346.2,352.1 346.5,362.6 346.9,367.7 347.2,366.5 347.6,363.1 347.9,374.5 348.3,351.9 348.6,388.8 349.0,350.8 349.3,340.9 349.7,361.2 350.0,366.2 350.4,382.0 350.7,362.4 351.1,331.3 351.4,369.4 351.7,372.7 352.1,386.5 352.4,369.2 352.8,371.9 353.1,371.7 353.5,357.9 353.8,372.4 354.2,360.3 354.5,376.5 354.9,369.8 355.2,366.6 355.6,362.0 355.9,358.5 356.3,377.2 356.6,386.5 357.0,359.6 357.3,378.2 357.7,367.5 358.0,388.7 358.4,345.6 358.7,362.2 359.0,365.6 359.4,370.5 359.7,382.6 360.1,364.2 360.4,374.6 360.8,363.2 361.1,385.9 361.5,376.6 361.8,372.1 362.2,360.6 362.5,373.7 362.9,377.2 363.2,374.1 363.6,374.7 363.9,380.1 364.3,376.4 364.6,360.5 365.0,366.6 365.3,356.8 365.6,378.5 366.0,367.7 366.3,370.6 366.7,362.6 367.0,368.6 367.4,371.8 367.7,373.9 368.1,359.4 368.4,391.3 368.8,385.5 369.1,355.9 369.5,385.2 369.8,372.4 370.2,360.2 370.5,356.7 370.9,367.1 371.2,367.0 371.6,355.7 371.9,358.1 372.2,350.8 372.6,368.7 372.9,348.9 373.3,348.1 373.6,377.3 374.0,371.1 374.3,374.0 374.7,377.6 375.0,350.2 375.4,361.9 375.7,373.9 376.1,365.6 376.4,356.3 376.8,356.3 377.1,382.4 377.5,372.0 377.8,370.7 378.2,388.7 378.5,384.9 378.9,373.3 379.2,372.5 379.5,353.8 379.9,381.8 380.2,358.8 380.6,368.9 380.9,369.0 381.3,350.0 381.6,369.8 382.0,372.6 382.3,370.2 382.7,345.5 383.0,373.1 383.4,353.2 383.7,373.8 384.1,375.7 384.4,367.9 384.8,363.6 385.1,363.5 385.5,366.7 385.8,353.5 386.1,370.1 386.5,386.4 386.8,388.3 387.2,378.3 387.5,364.3 387.9,364.4 388.2,375.5 388.6,367.8 388.9,363.2 389.3,362.5 389.6,388.6 390.0,346.2 390.3,356.0 390.7,364.5 391.0,379.8 391.4,370.8 391.7,365.2 392.1,355.1 392.4,349.3 392.7,365.0 393.1,372.3 393.4,365.2 393.8,357.7 394.1,367.8 394.5,355.7 394.8,362.2 395.2,353.3 395.5,350.2 395.9,366.0 396.2,371.0 396.6,360.5 396.9,359.5 397.3,368.9 397.6,366.5 398.0,360.0 398.3,367.2 398.7,344.4 399.0,380.3" fill="none" stroke="#0000ff" stroke-width="0.7" stroke-linejoin="bevel"/>
</g>
<rect x="466.90" y="312.95" width="347.45" height="98.85" fill="none" stroke="#303030" stroke-width="0.9"/>
<text x="467.01" y="424.60" text-anchor="middle" font-size="9.5" letter-spacing="0.22">−40</text>
<line x1="484.27" y1="411.80" x2="484.27" y2="410.50" stroke="#303030" stroke-width="0.9"/>
<line x1="484.27" y1="312.95" x2="484.27" y2="314.25" stroke="#303030" stroke-width="0.9"/>
<line x1="501.64" y1="411.80" x2="501.64" y2="410.50" stroke="#303030" stroke-width="0.9"/>
<line x1="501.64" y1="312.95" x2="501.64" y2="314.25" stroke="#303030" stroke-width="0.9"/>
<line x1="519.02" y1="411.80" x2="519.02" y2="410.50" stroke="#303030" stroke-width="0.9"/>
<line x1="519.02" y1="312.95" x2="519.02" y2="314.25" stroke="#303030" stroke-width="0.9"/>
<line x1="536.39" y1="411.80" x2="536.39" y2="409.40" stroke="#303030" stroke-width="0.9"/>
<line x1="536.39" y1="312.95" x2="536.39" y2="315.35" stroke="#303030" stroke-width="0.9"/>
<text x="536.50" y="424.60" text-anchor="middle" font-size="9.5" letter-spacing="0.22">−20</text>
<line x1="553.76" y1="411.80" x2="553.76" y2="410.50" stroke="#303030" stroke-width="0.9"/>
<line x1="553.76" y1="312.95" x2="553.76" y2="314.25" stroke="#303030" stroke-width="0.9"/>
<line x1="571.13" y1="411.80" x2="571.13" y2="410.50" stroke="#303030" stroke-width="0.9"/>
<line x1="571.13" y1="312.95" x2="571.13" y2="314.25" stroke="#303030" stroke-width="0.9"/>
<line x1="588.51" y1="411.80" x2="588.51" y2="410.50" stroke="#303030" stroke-width="0.9"/>
<line x1="588.51" y1="312.95" x2="588.51" y2="314.25" stroke="#303030" stroke-width="0.9"/>
<line x1="605.88" y1="411.80" x2="605.88" y2="409.40" stroke="#303030" stroke-width="0.9"/>
<line x1="605.88" y1="312.95" x2="605.88" y2="315.35" stroke="#303030" stroke-width="0.9"/>
<text x="605.99" y="424.60" text-anchor="middle" font-size="9.5" letter-spacing="0.22">0</text>
<line x1="623.25" y1="411.80" x2="623.25" y2="410.50" stroke="#303030" stroke-width="0.9"/>
<line x1="623.25" y1="312.95" x2="623.25" y2="314.25" stroke="#303030" stroke-width="0.9"/>
<line x1="640.62" y1="411.80" x2="640.62" y2="410.50" stroke="#303030" stroke-width="0.9"/>
<line x1="640.62" y1="312.95" x2="640.62" y2="314.25" stroke="#303030" stroke-width="0.9"/>
<line x1="658.00" y1="411.80" x2="658.00" y2="410.50" stroke="#303030" stroke-width="0.9"/>
<line x1="658.00" y1="312.95" x2="658.00" y2="314.25" stroke="#303030" stroke-width="0.9"/>
<line x1="675.37" y1="411.80" x2="675.37" y2="409.40" stroke="#303030" stroke-width="0.9"/>
<line x1="675.37" y1="312.95" x2="675.37" y2="315.35" stroke="#303030" stroke-width="0.9"/>
<text x="675.48" y="424.60" text-anchor="middle" font-size="9.5" letter-spacing="0.22">20</text>
<line x1="692.74" y1="411.80" x2="692.74" y2="410.50" stroke="#303030" stroke-width="0.9"/>
<line x1="692.74" y1="312.95" x2="692.74" y2="314.25" stroke="#303030" stroke-width="0.9"/>
<line x1="710.12" y1="411.80" x2="710.12" y2="410.50" stroke="#303030" stroke-width="0.9"/>
<line x1="710.12" y1="312.95" x2="710.12" y2="314.25" stroke="#303030" stroke-width="0.9"/>
<line x1="727.49" y1="411.80" x2="727.49" y2="410.50" stroke="#303030" stroke-width="0.9"/>
<line x1="727.49" y1="312.95" x2="727.49" y2="314.25" stroke="#303030" stroke-width="0.9"/>
<line x1="744.86" y1="411.80" x2="744.86" y2="409.40" stroke="#303030" stroke-width="0.9"/>
<line x1="744.86" y1="312.95" x2="744.86" y2="315.35" stroke="#303030" stroke-width="0.9"/>
<text x="744.97" y="424.60" text-anchor="middle" font-size="9.5" letter-spacing="0.22">40</text>
<line x1="762.23" y1="411.80" x2="762.23" y2="410.50" stroke="#303030" stroke-width="0.9"/>
<line x1="762.23" y1="312.95" x2="762.23" y2="314.25" stroke="#303030" stroke-width="0.9"/>
<line x1="779.61" y1="411.80" x2="779.61" y2="410.50" stroke="#303030" stroke-width="0.9"/>
<line x1="779.61" y1="312.95" x2="779.61" y2="314.25" stroke="#303030" stroke-width="0.9"/>
<line x1="796.98" y1="411.80" x2="796.98" y2="410.50" stroke="#303030" stroke-width="0.9"/>
<line x1="796.98" y1="312.95" x2="796.98" y2="314.25" stroke="#303030" stroke-width="0.9"/>
<text x="814.46" y="424.60" text-anchor="middle" font-size="9.5" letter-spacing="0.22">60</text>
<text x="464.32" y="412.20" text-anchor="end" font-size="9.5" letter-spacing="0.22">0.25</text>
<line x1="466.90" y1="407.85" x2="470.70" y2="407.85" stroke="#303030" stroke-width="0.9"/>
<line x1="814.35" y1="407.85" x2="810.55" y2="407.85" stroke="#303030" stroke-width="0.9"/>
<line x1="466.90" y1="403.89" x2="470.70" y2="403.89" stroke="#303030" stroke-width="0.9"/>
<line x1="814.35" y1="403.89" x2="810.55" y2="403.89" stroke="#303030" stroke-width="0.9"/>
<line x1="466.90" y1="399.94" x2="470.70" y2="399.94" stroke="#303030" stroke-width="0.9"/>
<line x1="814.35" y1="399.94" x2="810.55" y2="399.94" stroke="#303030" stroke-width="0.9"/>
<line x1="466.90" y1="395.98" x2="470.70" y2="395.98" stroke="#303030" stroke-width="0.9"/>
<line x1="814.35" y1="395.98" x2="810.55" y2="395.98" stroke="#303030" stroke-width="0.9"/>
<line x1="466.90" y1="392.03" x2="474.00" y2="392.03" stroke="#303030" stroke-width="0.9"/>
<line x1="814.35" y1="392.03" x2="807.25" y2="392.03" stroke="#303030" stroke-width="0.9"/>
<text x="464.32" y="395.53" text-anchor="end" font-size="9.5" letter-spacing="0.22">0.30</text>
<line x1="466.90" y1="388.08" x2="470.70" y2="388.08" stroke="#303030" stroke-width="0.9"/>
<line x1="814.35" y1="388.08" x2="810.55" y2="388.08" stroke="#303030" stroke-width="0.9"/>
<line x1="466.90" y1="384.12" x2="470.70" y2="384.12" stroke="#303030" stroke-width="0.9"/>
<line x1="814.35" y1="384.12" x2="810.55" y2="384.12" stroke="#303030" stroke-width="0.9"/>
<line x1="466.90" y1="380.17" x2="470.70" y2="380.17" stroke="#303030" stroke-width="0.9"/>
<line x1="814.35" y1="380.17" x2="810.55" y2="380.17" stroke="#303030" stroke-width="0.9"/>
<line x1="466.90" y1="376.21" x2="470.70" y2="376.21" stroke="#303030" stroke-width="0.9"/>
<line x1="814.35" y1="376.21" x2="810.55" y2="376.21" stroke="#303030" stroke-width="0.9"/>
<line x1="466.90" y1="372.26" x2="474.00" y2="372.26" stroke="#303030" stroke-width="0.9"/>
<line x1="814.35" y1="372.26" x2="807.25" y2="372.26" stroke="#303030" stroke-width="0.9"/>
<text x="464.32" y="375.76" text-anchor="end" font-size="9.5" letter-spacing="0.22">0.35</text>
<line x1="466.90" y1="368.31" x2="470.70" y2="368.31" stroke="#303030" stroke-width="0.9"/>
<line x1="814.35" y1="368.31" x2="810.55" y2="368.31" stroke="#303030" stroke-width="0.9"/>
<line x1="466.90" y1="364.35" x2="470.70" y2="364.35" stroke="#303030" stroke-width="0.9"/>
<line x1="814.35" y1="364.35" x2="810.55" y2="364.35" stroke="#303030" stroke-width="0.9"/>
<line x1="466.90" y1="360.40" x2="470.70" y2="360.40" stroke="#303030" stroke-width="0.9"/>
<line x1="814.35" y1="360.40" x2="810.55" y2="360.40" stroke="#303030" stroke-width="0.9"/>
<line x1="466.90" y1="356.44" x2="470.70" y2="356.44" stroke="#303030" stroke-width="0.9"/>
<line x1="814.35" y1="356.44" x2="810.55" y2="356.44" stroke="#303030" stroke-width="0.9"/>
<line x1="466.90" y1="352.49" x2="474.00" y2="352.49" stroke="#303030" stroke-width="0.9"/>
<line x1="814.35" y1="352.49" x2="807.25" y2="352.49" stroke="#303030" stroke-width="0.9"/>
<text x="464.32" y="355.99" text-anchor="end" font-size="9.5" letter-spacing="0.22">0.40</text>
<line x1="466.90" y1="348.54" x2="470.70" y2="348.54" stroke="#303030" stroke-width="0.9"/>
<line x1="814.35" y1="348.54" x2="810.55" y2="348.54" stroke="#303030" stroke-width="0.9"/>
<line x1="466.90" y1="344.58" x2="470.70" y2="344.58" stroke="#303030" stroke-width="0.9"/>
<line x1="814.35" y1="344.58" x2="810.55" y2="344.58" stroke="#303030" stroke-width="0.9"/>
<line x1="466.90" y1="340.63" x2="470.70" y2="340.63" stroke="#303030" stroke-width="0.9"/>
<line x1="814.35" y1="340.63" x2="810.55" y2="340.63" stroke="#303030" stroke-width="0.9"/>
<line x1="466.90" y1="336.67" x2="470.70" y2="336.67" stroke="#303030" stroke-width="0.9"/>
<line x1="814.35" y1="336.67" x2="810.55" y2="336.67" stroke="#303030" stroke-width="0.9"/>
<line x1="466.90" y1="332.72" x2="474.00" y2="332.72" stroke="#303030" stroke-width="0.9"/>
<line x1="814.35" y1="332.72" x2="807.25" y2="332.72" stroke="#303030" stroke-width="0.9"/>
<text x="464.32" y="336.22" text-anchor="end" font-size="9.5" letter-spacing="0.22">0.45</text>
<line x1="466.90" y1="328.77" x2="470.70" y2="328.77" stroke="#303030" stroke-width="0.9"/>
<line x1="814.35" y1="328.77" x2="810.55" y2="328.77" stroke="#303030" stroke-width="0.9"/>
<line x1="466.90" y1="324.81" x2="470.70" y2="324.81" stroke="#303030" stroke-width="0.9"/>
<line x1="814.35" y1="324.81" x2="810.55" y2="324.81" stroke="#303030" stroke-width="0.9"/>
<line x1="466.90" y1="320.86" x2="470.70" y2="320.86" stroke="#303030" stroke-width="0.9"/>
<line x1="814.35" y1="320.86" x2="810.55" y2="320.86" stroke="#303030" stroke-width="0.9"/>
<line x1="466.90" y1="316.90" x2="470.70" y2="316.90" stroke="#303030" stroke-width="0.9"/>
<line x1="814.35" y1="316.90" x2="810.55" y2="316.90" stroke="#303030" stroke-width="0.9"/>
<text x="464.32" y="319.05" text-anchor="end" font-size="9.5" letter-spacing="0.22">0.50</text>
<text x="640.65" y="435.70" text-anchor="middle" font-size="9.5" letter-spacing="0.05" word-spacing="0.9">Time Delay (sec)</text>
<text x="438.20" y="362.38" text-anchor="middle" font-size="9.5" letter-spacing="0.15" transform="rotate(-90 438.20 362.38)">CCF</text>
<g clip-path="url(#cr2)">
<line x1="466.90" y1="386.26" x2="466.90" y2="390.74" stroke="#222222" stroke-width="0.85"/>
<line x1="462.70" y1="386.26" x2="471.10" y2="386.26" stroke="#222222" stroke-width="0.85"/>
<line x1="462.70" y1="390.74" x2="471.10" y2="390.74" stroke="#222222" stroke-width="0.85"/>
<line x1="470.37" y1="385.28" x2="470.37" y2="389.90" stroke="#222222" stroke-width="0.85"/>
<line x1="466.17" y1="385.28" x2="474.57" y2="385.28" stroke="#222222" stroke-width="0.85"/>
<line x1="466.17" y1="389.90" x2="474.57" y2="389.90" stroke="#222222" stroke-width="0.85"/>
<line x1="473.85" y1="382.52" x2="473.85" y2="386.46" stroke="#222222" stroke-width="0.85"/>
<line x1="469.65" y1="382.52" x2="478.05" y2="382.52" stroke="#222222" stroke-width="0.85"/>
<line x1="469.65" y1="386.46" x2="478.05" y2="386.46" stroke="#222222" stroke-width="0.85"/>
<line x1="477.32" y1="389.78" x2="477.32" y2="394.50" stroke="#222222" stroke-width="0.85"/>
<line x1="473.12" y1="389.78" x2="481.52" y2="389.78" stroke="#222222" stroke-width="0.85"/>
<line x1="473.12" y1="394.50" x2="481.52" y2="394.50" stroke="#222222" stroke-width="0.85"/>
<line x1="480.80" y1="378.09" x2="480.80" y2="382.53" stroke="#222222" stroke-width="0.85"/>
<line x1="476.60" y1="378.09" x2="485.00" y2="378.09" stroke="#222222" stroke-width="0.85"/>
<line x1="476.60" y1="382.53" x2="485.00" y2="382.53" stroke="#222222" stroke-width="0.85"/>
<line x1="484.27" y1="366.05" x2="484.27" y2="370.90" stroke="#222222" stroke-width="0.85"/>
<line x1="480.07" y1="366.05" x2="488.47" y2="366.05" stroke="#222222" stroke-width="0.85"/>
<line x1="480.07" y1="370.90" x2="488.47" y2="370.90" stroke="#222222" stroke-width="0.85"/>
<line x1="487.75" y1="371.17" x2="487.75" y2="374.88" stroke="#222222" stroke-width="0.85"/>
<line x1="483.55" y1="371.17" x2="491.95" y2="371.17" stroke="#222222" stroke-width="0.85"/>
<line x1="483.55" y1="374.88" x2="491.95" y2="374.88" stroke="#222222" stroke-width="0.85"/>
<line x1="491.22" y1="361.40" x2="491.22" y2="365.36" stroke="#222222" stroke-width="0.85"/>
<line x1="487.02" y1="361.40" x2="495.42" y2="361.40" stroke="#222222" stroke-width="0.85"/>
<line x1="487.02" y1="365.36" x2="495.42" y2="365.36" stroke="#222222" stroke-width="0.85"/>
<line x1="494.70" y1="385.57" x2="494.70" y2="389.61" stroke="#222222" stroke-width="0.85"/>
<line x1="490.50" y1="385.57" x2="498.90" y2="385.57" stroke="#222222" stroke-width="0.85"/>
<line x1="490.50" y1="389.61" x2="498.90" y2="389.61" stroke="#222222" stroke-width="0.85"/>
<line x1="498.17" y1="369.97" x2="498.17" y2="374.26" stroke="#222222" stroke-width="0.85"/>
<line x1="493.97" y1="369.97" x2="502.37" y2="369.97" stroke="#222222" stroke-width="0.85"/>
<line x1="493.97" y1="374.26" x2="502.37" y2="374.26" stroke="#222222" stroke-width="0.85"/>
<line x1="501.64" y1="367.24" x2="501.64" y2="371.52" stroke="#222222" stroke-width="0.85"/>
<line x1="497.44" y1="367.24" x2="505.84" y2="367.24" stroke="#222222" stroke-width="0.85"/>
<line x1="497.44" y1="371.52" x2="505.84" y2="371.52" stroke="#222222" stroke-width="0.85"/>
<line x1="505.12" y1="353.23" x2="505.12" y2="358.24" stroke="#222222" stroke-width="0.85"/>
<line x1="500.92" y1="353.23" x2="509.32" y2="353.23" stroke="#222222" stroke-width="0.85"/>
<line x1="500.92" y1="358.24" x2="509.32" y2="358.24" stroke="#222222" stroke-width="0.85"/>
<line x1="508.59" y1="374.26" x2="508.59" y2="377.98" stroke="#222222" stroke-width="0.85"/>
<line x1="504.39" y1="374.26" x2="512.79" y2="374.26" stroke="#222222" stroke-width="0.85"/>
<line x1="504.39" y1="377.98" x2="512.79" y2="377.98" stroke="#222222" stroke-width="0.85"/>
<line x1="512.07" y1="374.09" x2="512.07" y2="378.14" stroke="#222222" stroke-width="0.85"/>
<line x1="507.87" y1="374.09" x2="516.27" y2="374.09" stroke="#222222" stroke-width="0.85"/>
<line x1="507.87" y1="378.14" x2="516.27" y2="378.14" stroke="#222222" stroke-width="0.85"/>
<line x1="515.54" y1="356.94" x2="515.54" y2="361.80" stroke="#222222" stroke-width="0.85"/>
<line x1="511.34" y1="356.94" x2="519.74" y2="356.94" stroke="#222222" stroke-width="0.85"/>
<line x1="511.34" y1="361.80" x2="519.74" y2="361.80" stroke="#222222" stroke-width="0.85"/>
<line x1="519.02" y1="368.29" x2="519.02" y2="372.29" stroke="#222222" stroke-width="0.85"/>
<line x1="514.82" y1="368.29" x2="523.22" y2="368.29" stroke="#222222" stroke-width="0.85"/>
<line x1="514.82" y1="372.29" x2="523.22" y2="372.29" stroke="#222222" stroke-width="0.85"/>
<line x1="522.49" y1="369.95" x2="522.49" y2="374.28" stroke="#222222" stroke-width="0.85"/>
<line x1="518.29" y1="369.95" x2="526.69" y2="369.95" stroke="#222222" stroke-width="0.85"/>
<line x1="518.29" y1="374.28" x2="526.69" y2="374.28" stroke="#222222" stroke-width="0.85"/>
<line x1="525.97" y1="377.46" x2="525.97" y2="381.33" stroke="#222222" stroke-width="0.85"/>
<line x1="521.77" y1="377.46" x2="530.17" y2="377.46" stroke="#222222" stroke-width="0.85"/>
<line x1="521.77" y1="381.33" x2="530.17" y2="381.33" stroke="#222222" stroke-width="0.85"/>
<line x1="529.44" y1="369.93" x2="529.44" y2="373.57" stroke="#222222" stroke-width="0.85"/>
<line x1="525.24" y1="369.93" x2="533.64" y2="369.93" stroke="#222222" stroke-width="0.85"/>
<line x1="525.24" y1="373.57" x2="533.64" y2="373.57" stroke="#222222" stroke-width="0.85"/>
<line x1="532.92" y1="369.39" x2="532.92" y2="373.01" stroke="#222222" stroke-width="0.85"/>
<line x1="528.72" y1="369.39" x2="537.12" y2="369.39" stroke="#222222" stroke-width="0.85"/>
<line x1="528.72" y1="373.01" x2="537.12" y2="373.01" stroke="#222222" stroke-width="0.85"/>
<line x1="536.39" y1="359.36" x2="536.39" y2="363.75" stroke="#222222" stroke-width="0.85"/>
<line x1="532.19" y1="359.36" x2="540.59" y2="359.36" stroke="#222222" stroke-width="0.85"/>
<line x1="532.19" y1="363.75" x2="540.59" y2="363.75" stroke="#222222" stroke-width="0.85"/>
<line x1="539.86" y1="350.91" x2="539.86" y2="354.36" stroke="#222222" stroke-width="0.85"/>
<line x1="535.66" y1="350.91" x2="544.06" y2="350.91" stroke="#222222" stroke-width="0.85"/>
<line x1="535.66" y1="354.36" x2="544.06" y2="354.36" stroke="#222222" stroke-width="0.85"/>
<line x1="543.34" y1="353.12" x2="543.34" y2="357.61" stroke="#222222" stroke-width="0.85"/>
<line x1="539.14" y1="353.12" x2="547.54" y2="353.12" stroke="#222222" stroke-width="0.85"/>
<line x1="539.14" y1="357.61" x2="547.54" y2="357.61" stroke="#222222" stroke-width="0.85"/>
<line x1="546.81" y1="359.73" x2="546.81" y2="364.48" stroke="#222222" stroke-width="0.85"/>
<line x1="542.61" y1="359.73" x2="551.01" y2="359.73" stroke="#222222" stroke-width="0.85"/>
<line x1="542.61" y1="364.48" x2="551.01" y2="364.48" stroke="#222222" stroke-width="0.85"/>
<line x1="550.29" y1="354.72" x2="550.29" y2="358.56" stroke="#222222" stroke-width="0.85"/>
<line x1="546.09" y1="354.72" x2="554.49" y2="354.72" stroke="#222222" stroke-width="0.85"/>
<line x1="546.09" y1="358.56" x2="554.49" y2="358.56" stroke="#222222" stroke-width="0.85"/>
<line x1="553.76" y1="359.31" x2="553.76" y2="363.07" stroke="#222222" stroke-width="0.85"/>
<line x1="549.56" y1="359.31" x2="557.96" y2="359.31" stroke="#222222" stroke-width="0.85"/>
<line x1="549.56" y1="363.07" x2="557.96" y2="363.07" stroke="#222222" stroke-width="0.85"/>
<line x1="557.24" y1="354.42" x2="557.24" y2="358.86" stroke="#222222" stroke-width="0.85"/>
<line x1="553.04" y1="354.42" x2="561.44" y2="354.42" stroke="#222222" stroke-width="0.85"/>
<line x1="553.04" y1="358.86" x2="561.44" y2="358.86" stroke="#222222" stroke-width="0.85"/>
<line x1="560.71" y1="347.39" x2="560.71" y2="352.42" stroke="#222222" stroke-width="0.85"/>
<line x1="556.51" y1="347.39" x2="564.91" y2="347.39" stroke="#222222" stroke-width="0.85"/>
<line x1="556.51" y1="352.42" x2="564.91" y2="352.42" stroke="#222222" stroke-width="0.85"/>
<line x1="564.19" y1="356.30" x2="564.19" y2="360.63" stroke="#222222" stroke-width="0.85"/>
<line x1="559.99" y1="356.30" x2="568.39" y2="356.30" stroke="#222222" stroke-width="0.85"/>
<line x1="559.99" y1="360.63" x2="568.39" y2="360.63" stroke="#222222" stroke-width="0.85"/>
<line x1="567.66" y1="350.57" x2="567.66" y2="354.70" stroke="#222222" stroke-width="0.85"/>
<line x1="563.46" y1="350.57" x2="571.86" y2="350.57" stroke="#222222" stroke-width="0.85"/>
<line x1="563.46" y1="354.70" x2="571.86" y2="354.70" stroke="#222222" stroke-width="0.85"/>
<line x1="571.13" y1="349.92" x2="571.13" y2="354.26" stroke="#222222" stroke-width="0.85"/>
<line x1="566.93" y1="349.92" x2="575.34" y2="349.92" stroke="#222222" stroke-width="0.85"/>
<line x1="566.93" y1="354.26" x2="575.34" y2="354.26" stroke="#222222" stroke-width="0.85"/>
<line x1="574.61" y1="342.26" x2="574.61" y2="347.35" stroke="#222222" stroke-width="0.85"/>
<line x1="570.41" y1="342.26" x2="578.81" y2="342.26" stroke="#222222" stroke-width="0.85"/>
<line x1="570.41" y1="347.35" x2="578.81" y2="347.35" stroke="#222222" stroke-width="0.85"/>
<line x1="578.08" y1="363.82" x2="578.08" y2="368.75" stroke="#222222" stroke-width="0.85"/>
<line x1="573.88" y1="363.82" x2="582.28" y2="363.82" stroke="#222222" stroke-width="0.85"/>
<line x1="573.88" y1="368.75" x2="582.28" y2="368.75" stroke="#222222" stroke-width="0.85"/>
<line x1="581.56" y1="355.69" x2="581.56" y2="359.41" stroke="#222222" stroke-width="0.85"/>
<line x1="577.36" y1="355.69" x2="585.76" y2="355.69" stroke="#222222" stroke-width="0.85"/>
<line x1="577.36" y1="359.41" x2="585.76" y2="359.41" stroke="#222222" stroke-width="0.85"/>
<line x1="585.03" y1="350.47" x2="585.03" y2="354.80" stroke="#222222" stroke-width="0.85"/>
<line x1="580.83" y1="350.47" x2="589.23" y2="350.47" stroke="#222222" stroke-width="0.85"/>
<line x1="580.83" y1="354.80" x2="589.23" y2="354.80" stroke="#222222" stroke-width="0.85"/>
<line x1="588.51" y1="345.38" x2="588.51" y2="349.69" stroke="#222222" stroke-width="0.85"/>
<line x1="584.31" y1="345.38" x2="592.71" y2="345.38" stroke="#222222" stroke-width="0.85"/>
<line x1="584.31" y1="349.69" x2="592.71" y2="349.69" stroke="#222222" stroke-width="0.85"/>
<line x1="591.98" y1="358.27" x2="591.98" y2="362.30" stroke="#222222" stroke-width="0.85"/>
<line x1="587.78" y1="358.27" x2="596.18" y2="358.27" stroke="#222222" stroke-width="0.85"/>
<line x1="587.78" y1="362.30" x2="596.18" y2="362.30" stroke="#222222" stroke-width="0.85"/>
<line x1="595.46" y1="322.66" x2="595.46" y2="326.18" stroke="#222222" stroke-width="0.85"/>
<line x1="591.26" y1="322.66" x2="599.66" y2="322.66" stroke="#222222" stroke-width="0.85"/>
<line x1="591.26" y1="326.18" x2="599.66" y2="326.18" stroke="#222222" stroke-width="0.85"/>
<line x1="598.93" y1="351.69" x2="598.93" y2="356.13" stroke="#222222" stroke-width="0.85"/>
<line x1="594.73" y1="351.69" x2="603.13" y2="351.69" stroke="#222222" stroke-width="0.85"/>
<line x1="594.73" y1="356.13" x2="603.13" y2="356.13" stroke="#222222" stroke-width="0.85"/>
<line x1="602.41" y1="334.55" x2="602.41" y2="338.68" stroke="#222222" stroke-width="0.85"/>
<line x1="598.21" y1="334.55" x2="606.61" y2="334.55" stroke="#222222" stroke-width="0.85"/>
<line x1="598.21" y1="338.68" x2="606.61" y2="338.68" stroke="#222222" stroke-width="0.85"/>
<line x1="605.88" y1="337.19" x2="605.88" y2="342.23" stroke="#222222" stroke-width="0.85"/>
<line x1="601.68" y1="337.19" x2="610.08" y2="337.19" stroke="#222222" stroke-width="0.85"/>
<line x1="601.68" y1="342.23" x2="610.08" y2="342.23" stroke="#222222" stroke-width="0.85"/>
<line x1="609.35" y1="335.10" x2="609.35" y2="339.95" stroke="#222222" stroke-width="0.85"/>
<line x1="605.15" y1="335.10" x2="613.55" y2="335.10" stroke="#222222" stroke-width="0.85"/>
<line x1="605.15" y1="339.95" x2="613.55" y2="339.95" stroke="#222222" stroke-width="0.85"/>
<line x1="612.83" y1="333.52" x2="612.83" y2="337.16" stroke="#222222" stroke-width="0.85"/>
<line x1="608.63" y1="333.52" x2="617.03" y2="333.52" stroke="#222222" stroke-width="0.85"/>
<line x1="608.63" y1="337.16" x2="617.03" y2="337.16" stroke="#222222" stroke-width="0.85"/>
<line x1="616.30" y1="343.37" x2="616.30" y2="348.06" stroke="#222222" stroke-width="0.85"/>
<line x1="612.10" y1="343.37" x2="620.50" y2="343.37" stroke="#222222" stroke-width="0.85"/>
<line x1="612.10" y1="348.06" x2="620.50" y2="348.06" stroke="#222222" stroke-width="0.85"/>
<line x1="619.78" y1="351.53" x2="619.78" y2="355.56" stroke="#222222" stroke-width="0.85"/>
<line x1="615.58" y1="351.53" x2="623.98" y2="351.53" stroke="#222222" stroke-width="0.85"/>
<line x1="615.58" y1="355.56" x2="623.98" y2="355.56" stroke="#222222" stroke-width="0.85"/>
<line x1="623.25" y1="336.18" x2="623.25" y2="340.69" stroke="#222222" stroke-width="0.85"/>
<line x1="619.05" y1="336.18" x2="627.45" y2="336.18" stroke="#222222" stroke-width="0.85"/>
<line x1="619.05" y1="340.69" x2="627.45" y2="340.69" stroke="#222222" stroke-width="0.85"/>
<line x1="626.73" y1="343.76" x2="626.73" y2="347.68" stroke="#222222" stroke-width="0.85"/>
<line x1="622.53" y1="343.76" x2="630.93" y2="343.76" stroke="#222222" stroke-width="0.85"/>
<line x1="622.53" y1="347.68" x2="630.93" y2="347.68" stroke="#222222" stroke-width="0.85"/>
<line x1="630.20" y1="339.85" x2="630.20" y2="345.03" stroke="#222222" stroke-width="0.85"/>
<line x1="626.00" y1="339.85" x2="634.40" y2="339.85" stroke="#222222" stroke-width="0.85"/>
<line x1="626.00" y1="345.03" x2="634.40" y2="345.03" stroke="#222222" stroke-width="0.85"/>
<line x1="633.68" y1="358.34" x2="633.68" y2="362.23" stroke="#222222" stroke-width="0.85"/>
<line x1="629.48" y1="358.34" x2="637.88" y2="358.34" stroke="#222222" stroke-width="0.85"/>
<line x1="629.48" y1="362.23" x2="637.88" y2="362.23" stroke="#222222" stroke-width="0.85"/>
<line x1="637.15" y1="352.38" x2="637.15" y2="357.26" stroke="#222222" stroke-width="0.85"/>
<line x1="632.95" y1="352.38" x2="641.35" y2="352.38" stroke="#222222" stroke-width="0.85"/>
<line x1="632.95" y1="357.26" x2="641.35" y2="357.26" stroke="#222222" stroke-width="0.85"/>
<line x1="640.62" y1="343.11" x2="640.62" y2="347.59" stroke="#222222" stroke-width="0.85"/>
<line x1="636.42" y1="343.11" x2="644.83" y2="343.11" stroke="#222222" stroke-width="0.85"/>
<line x1="636.42" y1="347.59" x2="644.83" y2="347.59" stroke="#222222" stroke-width="0.85"/>
<line x1="644.10" y1="340.09" x2="644.10" y2="344.79" stroke="#222222" stroke-width="0.85"/>
<line x1="639.90" y1="340.09" x2="648.30" y2="340.09" stroke="#222222" stroke-width="0.85"/>
<line x1="639.90" y1="344.79" x2="648.30" y2="344.79" stroke="#222222" stroke-width="0.85"/>
<line x1="647.57" y1="334.96" x2="647.57" y2="340.09" stroke="#222222" stroke-width="0.85"/>
<line x1="643.37" y1="334.96" x2="651.77" y2="334.96" stroke="#222222" stroke-width="0.85"/>
<line x1="643.37" y1="340.09" x2="651.77" y2="340.09" stroke="#222222" stroke-width="0.85"/>
<line x1="651.05" y1="341.75" x2="651.05" y2="345.32" stroke="#222222" stroke-width="0.85"/>
<line x1="646.85" y1="341.75" x2="655.25" y2="341.75" stroke="#222222" stroke-width="0.85"/>
<line x1="646.85" y1="345.32" x2="655.25" y2="345.32" stroke="#222222" stroke-width="0.85"/>
<line x1="654.52" y1="339.60" x2="654.52" y2="343.82" stroke="#222222" stroke-width="0.85"/>
<line x1="650.32" y1="339.60" x2="658.72" y2="339.60" stroke="#222222" stroke-width="0.85"/>
<line x1="650.32" y1="343.82" x2="658.72" y2="343.82" stroke="#222222" stroke-width="0.85"/>
<line x1="658.00" y1="341.77" x2="658.00" y2="346.76" stroke="#222222" stroke-width="0.85"/>
<line x1="653.80" y1="341.77" x2="662.20" y2="341.77" stroke="#222222" stroke-width="0.85"/>
<line x1="653.80" y1="346.76" x2="662.20" y2="346.76" stroke="#222222" stroke-width="0.85"/>
<line x1="661.47" y1="328.28" x2="661.47" y2="332.94" stroke="#222222" stroke-width="0.85"/>
<line x1="657.27" y1="328.28" x2="665.67" y2="328.28" stroke="#222222" stroke-width="0.85"/>
<line x1="657.27" y1="332.94" x2="665.67" y2="332.94" stroke="#222222" stroke-width="0.85"/>
<line x1="664.95" y1="328.62" x2="664.95" y2="332.60" stroke="#222222" stroke-width="0.85"/>
<line x1="660.75" y1="328.62" x2="669.15" y2="328.62" stroke="#222222" stroke-width="0.85"/>
<line x1="660.75" y1="332.60" x2="669.15" y2="332.60" stroke="#222222" stroke-width="0.85"/>
<line x1="668.42" y1="344.97" x2="668.42" y2="349.02" stroke="#222222" stroke-width="0.85"/>
<line x1="664.22" y1="344.97" x2="672.62" y2="344.97" stroke="#222222" stroke-width="0.85"/>
<line x1="664.22" y1="349.02" x2="672.62" y2="349.02" stroke="#222222" stroke-width="0.85"/>
<line x1="671.90" y1="342.08" x2="671.90" y2="346.80" stroke="#222222" stroke-width="0.85"/>
<line x1="667.70" y1="342.08" x2="676.10" y2="342.08" stroke="#222222" stroke-width="0.85"/>
<line x1="667.70" y1="346.80" x2="676.10" y2="346.80" stroke="#222222" stroke-width="0.85"/>
<line x1="675.37" y1="341.64" x2="675.37" y2="346.16" stroke="#222222" stroke-width="0.85"/>
<line x1="671.17" y1="341.64" x2="679.57" y2="341.64" stroke="#222222" stroke-width="0.85"/>
<line x1="671.17" y1="346.16" x2="679.57" y2="346.16" stroke="#222222" stroke-width="0.85"/>
<line x1="678.84" y1="346.92" x2="678.84" y2="350.71" stroke="#222222" stroke-width="0.85"/>
<line x1="674.64" y1="346.92" x2="683.04" y2="346.92" stroke="#222222" stroke-width="0.85"/>
<line x1="674.64" y1="350.71" x2="683.04" y2="350.71" stroke="#222222" stroke-width="0.85"/>
<line x1="682.32" y1="353.51" x2="682.32" y2="358.68" stroke="#222222" stroke-width="0.85"/>
<line x1="678.12" y1="353.51" x2="686.52" y2="353.51" stroke="#222222" stroke-width="0.85"/>
<line x1="678.12" y1="358.68" x2="686.52" y2="358.68" stroke="#222222" stroke-width="0.85"/>
<line x1="685.79" y1="353.31" x2="685.79" y2="357.43" stroke="#222222" stroke-width="0.85"/>
<line x1="681.59" y1="353.31" x2="689.99" y2="353.31" stroke="#222222" stroke-width="0.85"/>
<line x1="681.59" y1="357.43" x2="689.99" y2="357.43" stroke="#222222" stroke-width="0.85"/>
<line x1="689.27" y1="368.86" x2="689.27" y2="373.55" stroke="#222222" stroke-width="0.85"/>
<line x1="685.07" y1="368.86" x2="693.47" y2="368.86" stroke="#222222" stroke-width="0.85"/>
<line x1="685.07" y1="373.55" x2="693.47" y2="373.55" stroke="#222222" stroke-width="0.85"/>
<line x1="692.74" y1="344.11" x2="692.74" y2="348.06" stroke="#222222" stroke-width="0.85"/>
<line x1="688.54" y1="344.11" x2="696.94" y2="344.11" stroke="#222222" stroke-width="0.85"/>
<line x1="688.54" y1="348.06" x2="696.94" y2="348.06" stroke="#222222" stroke-width="0.85"/>
<line x1="696.22" y1="351.63" x2="696.22" y2="356.19" stroke="#222222" stroke-width="0.85"/>
<line x1="692.02" y1="351.63" x2="700.42" y2="351.63" stroke="#222222" stroke-width="0.85"/>
<line x1="692.02" y1="356.19" x2="700.42" y2="356.19" stroke="#222222" stroke-width="0.85"/>
<line x1="699.69" y1="347.87" x2="699.69" y2="351.94" stroke="#222222" stroke-width="0.85"/>
<line x1="695.49" y1="347.87" x2="703.89" y2="347.87" stroke="#222222" stroke-width="0.85"/>
<line x1="695.49" y1="351.94" x2="703.89" y2="351.94" stroke="#222222" stroke-width="0.85"/>
<line x1="703.17" y1="367.35" x2="703.17" y2="371.41" stroke="#222222" stroke-width="0.85"/>
<line x1="698.97" y1="367.35" x2="707.37" y2="367.35" stroke="#222222" stroke-width="0.85"/>
<line x1="698.97" y1="371.41" x2="707.37" y2="371.41" stroke="#222222" stroke-width="0.85"/>
<line x1="706.64" y1="353.46" x2="706.64" y2="356.91" stroke="#222222" stroke-width="0.85"/>
<line x1="702.44" y1="353.46" x2="710.84" y2="353.46" stroke="#222222" stroke-width="0.85"/>
<line x1="702.44" y1="356.91" x2="710.84" y2="356.91" stroke="#222222" stroke-width="0.85"/>
<line x1="710.12" y1="363.18" x2="710.12" y2="367.21" stroke="#222222" stroke-width="0.85"/>
<line x1="705.91" y1="363.18" x2="714.32" y2="363.18" stroke="#222222" stroke-width="0.85"/>
<line x1="705.91" y1="367.21" x2="714.32" y2="367.21" stroke="#222222" stroke-width="0.85"/>
<line x1="713.59" y1="356.32" x2="713.59" y2="360.60" stroke="#222222" stroke-width="0.85"/>
<line x1="709.39" y1="356.32" x2="717.79" y2="356.32" stroke="#222222" stroke-width="0.85"/>
<line x1="709.39" y1="360.60" x2="717.79" y2="360.60" stroke="#222222" stroke-width="0.85"/>
<line x1="717.06" y1="355.86" x2="717.06" y2="359.97" stroke="#222222" stroke-width="0.85"/>
<line x1="712.86" y1="355.86" x2="721.26" y2="355.86" stroke="#222222" stroke-width="0.85"/>
<line x1="712.86" y1="359.97" x2="721.26" y2="359.97" stroke="#222222" stroke-width="0.85"/>
<line x1="720.54" y1="367.36" x2="720.54" y2="371.41" stroke="#222222" stroke-width="0.85"/>
<line x1="716.34" y1="367.36" x2="724.74" y2="367.36" stroke="#222222" stroke-width="0.85"/>
<line x1="716.34" y1="371.41" x2="724.74" y2="371.41" stroke="#222222" stroke-width="0.85"/>
<line x1="724.01" y1="363.60" x2="724.01" y2="367.89" stroke="#222222" stroke-width="0.85"/>
<line x1="719.81" y1="363.60" x2="728.21" y2="363.60" stroke="#222222" stroke-width="0.85"/>
<line x1="719.81" y1="367.89" x2="728.21" y2="367.89" stroke="#222222" stroke-width="0.85"/>
<line x1="727.49" y1="356.18" x2="727.49" y2="359.65" stroke="#222222" stroke-width="0.85"/>
<line x1="723.29" y1="356.18" x2="731.69" y2="356.18" stroke="#222222" stroke-width="0.85"/>
<line x1="723.29" y1="359.65" x2="731.69" y2="359.65" stroke="#222222" stroke-width="0.85"/>
<line x1="730.96" y1="363.84" x2="730.96" y2="367.65" stroke="#222222" stroke-width="0.85"/>
<line x1="726.76" y1="363.84" x2="735.16" y2="363.84" stroke="#222222" stroke-width="0.85"/>
<line x1="726.76" y1="367.65" x2="735.16" y2="367.65" stroke="#222222" stroke-width="0.85"/>
<line x1="734.44" y1="370.29" x2="734.44" y2="373.94" stroke="#222222" stroke-width="0.85"/>
<line x1="730.24" y1="370.29" x2="738.64" y2="370.29" stroke="#222222" stroke-width="0.85"/>
<line x1="730.24" y1="373.94" x2="738.64" y2="373.94" stroke="#222222" stroke-width="0.85"/>
<line x1="737.91" y1="374.79" x2="737.91" y2="379.63" stroke="#222222" stroke-width="0.85"/>
<line x1="733.71" y1="374.79" x2="742.11" y2="374.79" stroke="#222222" stroke-width="0.85"/>
<line x1="733.71" y1="379.63" x2="742.11" y2="379.63" stroke="#222222" stroke-width="0.85"/>
<line x1="741.39" y1="373.81" x2="741.39" y2="378.43" stroke="#222222" stroke-width="0.85"/>
<line x1="737.19" y1="373.81" x2="745.59" y2="373.81" stroke="#222222" stroke-width="0.85"/>
<line x1="737.19" y1="378.43" x2="745.59" y2="378.43" stroke="#222222" stroke-width="0.85"/>
<line x1="744.86" y1="368.47" x2="744.86" y2="372.12" stroke="#222222" stroke-width="0.85"/>
<line x1="740.66" y1="368.47" x2="749.06" y2="368.47" stroke="#222222" stroke-width="0.85"/>
<line x1="740.66" y1="372.12" x2="749.06" y2="372.12" stroke="#222222" stroke-width="0.85"/>
<line x1="748.33" y1="367.20" x2="748.33" y2="371.56" stroke="#222222" stroke-width="0.85"/>
<line x1="744.13" y1="367.20" x2="752.53" y2="367.20" stroke="#222222" stroke-width="0.85"/>
<line x1="744.13" y1="371.56" x2="752.53" y2="371.56" stroke="#222222" stroke-width="0.85"/>
<line x1="751.81" y1="370.63" x2="751.81" y2="375.42" stroke="#222222" stroke-width="0.85"/>
<line x1="747.61" y1="370.63" x2="756.01" y2="370.63" stroke="#222222" stroke-width="0.85"/>
<line x1="747.61" y1="375.42" x2="756.01" y2="375.42" stroke="#222222" stroke-width="0.85"/>
<line x1="755.28" y1="389.80" x2="755.28" y2="393.75" stroke="#222222" stroke-width="0.85"/>
<line x1="751.08" y1="389.80" x2="759.48" y2="389.80" stroke="#222222" stroke-width="0.85"/>
<line x1="751.08" y1="393.75" x2="759.48" y2="393.75" stroke="#222222" stroke-width="0.85"/>
<line x1="758.76" y1="381.33" x2="758.76" y2="385.47" stroke="#222222" stroke-width="0.85"/>
<line x1="754.56" y1="381.33" x2="762.96" y2="381.33" stroke="#222222" stroke-width="0.85"/>
<line x1="754.56" y1="385.47" x2="762.96" y2="385.47" stroke="#222222" stroke-width="0.85"/>
<line x1="762.23" y1="371.53" x2="762.23" y2="375.62" stroke="#222222" stroke-width="0.85"/>
<line x1="758.03" y1="371.53" x2="766.43" y2="371.53" stroke="#222222" stroke-width="0.85"/>
<line x1="758.03" y1="375.62" x2="766.43" y2="375.62" stroke="#222222" stroke-width="0.85"/>
<line x1="765.71" y1="376.82" x2="765.71" y2="381.97" stroke="#222222" stroke-width="0.85"/>
<line x1="761.51" y1="376.82" x2="769.91" y2="376.82" stroke="#222222" stroke-width="0.85"/>
<line x1="761.51" y1="381.97" x2="769.91" y2="381.97" stroke="#222222" stroke-width="0.85"/>
<line x1="769.18" y1="384.86" x2="769.18" y2="389.23" stroke="#222222" stroke-width="0.85"/>
<line x1="764.98" y1="384.86" x2="773.38" y2="384.86" stroke="#222222" stroke-width="0.85"/>
<line x1="764.98" y1="389.23" x2="773.38" y2="389.23" stroke="#222222" stroke-width="0.85"/>
<line x1="772.66" y1="377.79" x2="772.66" y2="382.83" stroke="#222222" stroke-width="0.85"/>
<line x1="768.46" y1="377.79" x2="776.86" y2="377.79" stroke="#222222" stroke-width="0.85"/>
<line x1="768.46" y1="382.83" x2="776.86" y2="382.83" stroke="#222222" stroke-width="0.85"/>
<line x1="776.13" y1="382.99" x2="776.13" y2="386.72" stroke="#222222" stroke-width="0.85"/>
<line x1="771.93" y1="382.99" x2="780.33" y2="382.99" stroke="#222222" stroke-width="0.85"/>
<line x1="771.93" y1="386.72" x2="780.33" y2="386.72" stroke="#222222" stroke-width="0.85"/>
<line x1="779.61" y1="388.36" x2="779.61" y2="392.27" stroke="#222222" stroke-width="0.85"/>
<line x1="775.40" y1="388.36" x2="783.81" y2="388.36" stroke="#222222" stroke-width="0.85"/>
<line x1="775.40" y1="392.27" x2="783.81" y2="392.27" stroke="#222222" stroke-width="0.85"/>
<line x1="783.08" y1="376.71" x2="783.08" y2="380.26" stroke="#222222" stroke-width="0.85"/>
<line x1="778.88" y1="376.71" x2="787.28" y2="376.71" stroke="#222222" stroke-width="0.85"/>
<line x1="778.88" y1="380.26" x2="787.28" y2="380.26" stroke="#222222" stroke-width="0.85"/>
<line x1="786.55" y1="395.44" x2="786.55" y2="399.03" stroke="#222222" stroke-width="0.85"/>
<line x1="782.35" y1="395.44" x2="790.75" y2="395.44" stroke="#222222" stroke-width="0.85"/>
<line x1="782.35" y1="399.03" x2="790.75" y2="399.03" stroke="#222222" stroke-width="0.85"/>
<line x1="790.03" y1="388.08" x2="790.03" y2="392.56" stroke="#222222" stroke-width="0.85"/>
<line x1="785.83" y1="388.08" x2="794.23" y2="388.08" stroke="#222222" stroke-width="0.85"/>
<line x1="785.83" y1="392.56" x2="794.23" y2="392.56" stroke="#222222" stroke-width="0.85"/>
<line x1="793.50" y1="395.81" x2="793.50" y2="400.49" stroke="#222222" stroke-width="0.85"/>
<line x1="789.30" y1="395.81" x2="797.70" y2="395.81" stroke="#222222" stroke-width="0.85"/>
<line x1="789.30" y1="400.49" x2="797.70" y2="400.49" stroke="#222222" stroke-width="0.85"/>
<line x1="796.98" y1="394.34" x2="796.98" y2="398.31" stroke="#222222" stroke-width="0.85"/>
<line x1="792.78" y1="394.34" x2="801.18" y2="394.34" stroke="#222222" stroke-width="0.85"/>
<line x1="792.78" y1="398.31" x2="801.18" y2="398.31" stroke="#222222" stroke-width="0.85"/>
<line x1="800.45" y1="393.42" x2="800.45" y2="398.14" stroke="#222222" stroke-width="0.85"/>
<line x1="796.25" y1="393.42" x2="804.65" y2="393.42" stroke="#222222" stroke-width="0.85"/>
<line x1="796.25" y1="398.14" x2="804.65" y2="398.14" stroke="#222222" stroke-width="0.85"/>
<line x1="803.93" y1="391.88" x2="803.93" y2="396.76" stroke="#222222" stroke-width="0.85"/>
<line x1="799.73" y1="391.88" x2="808.13" y2="391.88" stroke="#222222" stroke-width="0.85"/>
<line x1="799.73" y1="396.76" x2="808.13" y2="396.76" stroke="#222222" stroke-width="0.85"/>
<line x1="807.40" y1="400.43" x2="807.40" y2="404.60" stroke="#222222" stroke-width="0.85"/>
<line x1="803.20" y1="400.43" x2="811.60" y2="400.43" stroke="#222222" stroke-width="0.85"/>
<line x1="803.20" y1="404.60" x2="811.60" y2="404.60" stroke="#222222" stroke-width="0.85"/>
<line x1="810.88" y1="390.28" x2="810.88" y2="394.00" stroke="#222222" stroke-width="0.85"/>
<line x1="806.68" y1="390.28" x2="815.08" y2="390.28" stroke="#222222" stroke-width="0.85"/>
<line x1="806.68" y1="394.00" x2="815.08" y2="394.00" stroke="#222222" stroke-width="0.85"/>
<polyline points="466.9,387.9 470.4,386.3 473.8,384.7 477.3,383.1 480.8,381.6 484.3,380.1 487.7,378.6 491.2,377.1 494.7,375.7 498.2,374.3 501.6,372.9 505.1,371.5 508.6,370.2 512.1,368.9 515.5,367.6 519.0,366.4 522.5,365.2 526.0,364.0 529.4,362.9 532.9,361.8 536.4,360.7 539.9,359.7 543.3,358.7 546.8,357.7 550.3,356.8 553.8,355.9 557.2,355.1 560.7,354.3 564.2,353.5 567.7,352.7 571.1,352.0 574.6,351.4 578.1,350.8 581.6,350.2 585.0,349.7 588.5,349.2 592.0,348.7 595.5,348.3 598.9,347.9 602.4,347.6 605.9,347.3 609.4,347.1 612.8,346.9 616.3,346.7 619.8,346.6 623.3,346.6 626.7,346.5 630.2,346.5 633.7,346.6 637.2,346.7 640.6,346.9 644.1,347.0 647.6,347.3 651.0,347.6 654.5,347.9 658.0,348.2 661.5,348.6 664.9,349.1 668.4,349.6 671.9,350.1 675.4,350.7 678.8,351.3 682.3,351.9 685.8,352.6 689.3,353.4 692.7,354.2 696.2,355.0 699.7,355.8 703.2,356.7 706.6,357.7 710.1,358.7 713.6,359.7 717.1,360.7 720.5,361.8 724.0,362.9 727.5,364.1 731.0,365.3 734.4,366.5 737.9,367.8 741.4,369.1 744.9,370.4 748.3,371.8 751.8,373.2 755.3,374.6 758.8,376.1 762.2,377.6 765.7,379.1 769.2,380.7 772.7,382.2 776.1,383.8 779.6,385.5 783.1,387.1 786.6,388.8 790.0,390.5 793.5,392.2 797.0,394.0 800.5,395.8 803.9,397.5 807.4,399.3 810.9,401.2" fill="none" stroke="#ff0000" stroke-width="0.85" stroke-linejoin="bevel"/>
</g>
<rect x="51.90" y="461.20" width="347.45" height="98.85" fill="none" stroke="#303030" stroke-width="0.9"/>
<text x="52.01" y="572.85" text-anchor="middle" font-size="9.5" letter-spacing="0.22">0</text>
<line x1="69.27" y1="560.05" x2="69.27" y2="558.75" stroke="#303030" stroke-width="0.9"/>
<line x1="69.27" y1="461.20" x2="69.27" y2="462.50" stroke="#303030" stroke-width="0.9"/>
<line x1="86.65" y1="560.05" x2="86.65" y2="558.75" stroke="#303030" stroke-width="0.9"/>
<line x1="86.65" y1="461.20" x2="86.65" y2="462.50" stroke="#303030" stroke-width="0.9"/>
<line x1="104.02" y1="560.05" x2="104.02" y2="558.75" stroke="#303030" stroke-width="0.9"/>
<line x1="104.02" y1="461.20" x2="104.02" y2="462.50" stroke="#303030" stroke-width="0.9"/>
<line x1="121.39" y1="560.05" x2="121.39" y2="557.65" stroke="#303030" stroke-width="0.9"/>
<line x1="121.39" y1="461.20" x2="121.39" y2="463.60" stroke="#303030" stroke-width="0.9"/>
<text x="121.50" y="572.85" text-anchor="middle" font-size="9.5" letter-spacing="0.22">200</text>
<line x1="138.76" y1="560.05" x2="138.76" y2="558.75" stroke="#303030" stroke-width="0.9"/>
<line x1="138.76" y1="461.20" x2="138.76" y2="462.50" stroke="#303030" stroke-width="0.9"/>
<line x1="156.14" y1="560.05" x2="156.14" y2="558.75" stroke="#303030" stroke-width="0.9"/>
<line x1="156.14" y1="461.20" x2="156.14" y2="462.50" stroke="#303030" stroke-width="0.9"/>
<line x1="173.51" y1="560.05" x2="173.51" y2="558.75" stroke="#303030" stroke-width="0.9"/>
<line x1="173.51" y1="461.20" x2="173.51" y2="462.50" stroke="#303030" stroke-width="0.9"/>
<line x1="190.88" y1="560.05" x2="190.88" y2="557.65" stroke="#303030" stroke-width="0.9"/>
<line x1="190.88" y1="461.20" x2="190.88" y2="463.60" stroke="#303030" stroke-width="0.9"/>
<text x="190.99" y="572.85" text-anchor="middle" font-size="9.5" letter-spacing="0.22">400</text>
<line x1="208.25" y1="560.05" x2="208.25" y2="558.75" stroke="#303030" stroke-width="0.9"/>
<line x1="208.25" y1="461.20" x2="208.25" y2="462.50" stroke="#303030" stroke-width="0.9"/>
<line x1="225.63" y1="560.05" x2="225.63" y2="558.75" stroke="#303030" stroke-width="0.9"/>
<line x1="225.63" y1="461.20" x2="225.63" y2="462.50" stroke="#303030" stroke-width="0.9"/>
<line x1="243.00" y1="560.05" x2="243.00" y2="558.75" stroke="#303030" stroke-width="0.9"/>
<line x1="243.00" y1="461.20" x2="243.00" y2="462.50" stroke="#303030" stroke-width="0.9"/>
<line x1="260.37" y1="560.05" x2="260.37" y2="557.65" stroke="#303030" stroke-width="0.9"/>
<line x1="260.37" y1="461.20" x2="260.37" y2="463.60" stroke="#303030" stroke-width="0.9"/>
<text x="260.48" y="572.85" text-anchor="middle" font-size="9.5" letter-spacing="0.22">600</text>
<line x1="277.74" y1="560.05" x2="277.74" y2="558.75" stroke="#303030" stroke-width="0.9"/>
<line x1="277.74" y1="461.20" x2="277.74" y2="462.50" stroke="#303030" stroke-width="0.9"/>
<line x1="295.12" y1="560.05" x2="295.12" y2="558.75" stroke="#303030" stroke-width="0.9"/>
<line x1="295.12" y1="461.20" x2="295.12" y2="462.50" stroke="#303030" stroke-width="0.9"/>
<line x1="312.49" y1="560.05" x2="312.49" y2="558.75" stroke="#303030" stroke-width="0.9"/>
<line x1="312.49" y1="461.20" x2="312.49" y2="462.50" stroke="#303030" stroke-width="0.9"/>
<line x1="329.86" y1="560.05" x2="329.86" y2="557.65" stroke="#303030" stroke-width="0.9"/>
<line x1="329.86" y1="461.20" x2="329.86" y2="463.60" stroke="#303030" stroke-width="0.9"/>
<text x="329.97" y="572.85" text-anchor="middle" font-size="9.5" letter-spacing="0.22">800</text>
<line x1="347.23" y1="560.05" x2="347.23" y2="558.75" stroke="#303030" stroke-width="0.9"/>
<line x1="347.23" y1="461.20" x2="347.23" y2="462.50" stroke="#303030" stroke-width="0.9"/>
<line x1="364.61" y1="560.05" x2="364.61" y2="558.75" stroke="#303030" stroke-width="0.9"/>
<line x1="364.61" y1="461.20" x2="364.61" y2="462.50" stroke="#303030" stroke-width="0.9"/>
<line x1="381.98" y1="560.05" x2="381.98" y2="558.75" stroke="#303030" stroke-width="0.9"/>
<line x1="381.98" y1="461.20" x2="381.98" y2="462.50" stroke="#303030" stroke-width="0.9"/>
<text x="399.46" y="572.85" text-anchor="middle" font-size="9.5" letter-spacing="0.22">1000</text>
<text x="49.32" y="560.45" text-anchor="end" font-size="9.5" letter-spacing="0.22">−2</text>
<line x1="51.90" y1="558.07" x2="55.70" y2="558.07" stroke="#303030" stroke-width="0.9"/>
<line x1="399.35" y1="558.07" x2="395.55" y2="558.07" stroke="#303030" stroke-width="0.9"/>
<line x1="51.90" y1="556.10" x2="55.70" y2="556.10" stroke="#303030" stroke-width="0.9"/>
<line x1="399.35" y1="556.10" x2="395.55" y2="556.10" stroke="#303030" stroke-width="0.9"/>
<line x1="51.90" y1="554.12" x2="55.70" y2="554.12" stroke="#303030" stroke-width="0.9"/>
<line x1="399.35" y1="554.12" x2="395.55" y2="554.12" stroke="#303030" stroke-width="0.9"/>
<line x1="51.90" y1="552.14" x2="55.70" y2="552.14" stroke="#303030" stroke-width="0.9"/>
<line x1="399.35" y1="552.14" x2="395.55" y2="552.14" stroke="#303030" stroke-width="0.9"/>
<line x1="51.90" y1="550.16" x2="55.70" y2="550.16" stroke="#303030" stroke-width="0.9"/>
<line x1="399.35" y1="550.16" x2="395.55" y2="550.16" stroke="#303030" stroke-width="0.9"/>
<line x1="51.90" y1="548.19" x2="55.70" y2="548.19" stroke="#303030" stroke-width="0.9"/>
<line x1="399.35" y1="548.19" x2="395.55" y2="548.19" stroke="#303030" stroke-width="0.9"/>
<line x1="51.90" y1="546.21" x2="55.70" y2="546.21" stroke="#303030" stroke-width="0.9"/>
<line x1="399.35" y1="546.21" x2="395.55" y2="546.21" stroke="#303030" stroke-width="0.9"/>
<line x1="51.90" y1="544.23" x2="55.70" y2="544.23" stroke="#303030" stroke-width="0.9"/>
<line x1="399.35" y1="544.23" x2="395.55" y2="544.23" stroke="#303030" stroke-width="0.9"/>
<line x1="51.90" y1="542.26" x2="55.70" y2="542.26" stroke="#303030" stroke-width="0.9"/>
<line x1="399.35" y1="542.26" x2="395.55" y2="542.26" stroke="#303030" stroke-width="0.9"/>
<line x1="51.90" y1="540.28" x2="59.00" y2="540.28" stroke="#303030" stroke-width="0.9"/>
<line x1="399.35" y1="540.28" x2="392.25" y2="540.28" stroke="#303030" stroke-width="0.9"/>
<text x="49.32" y="543.78" text-anchor="end" font-size="9.5" letter-spacing="0.22">−1</text>
<line x1="51.90" y1="538.30" x2="55.70" y2="538.30" stroke="#303030" stroke-width="0.9"/>
<line x1="399.35" y1="538.30" x2="395.55" y2="538.30" stroke="#303030" stroke-width="0.9"/>
<line x1="51.90" y1="536.33" x2="55.70" y2="536.33" stroke="#303030" stroke-width="0.9"/>
<line x1="399.35" y1="536.33" x2="395.55" y2="536.33" stroke="#303030" stroke-width="0.9"/>
<line x1="51.90" y1="534.35" x2="55.70" y2="534.35" stroke="#303030" stroke-width="0.9"/>
<line x1="399.35" y1="534.35" x2="395.55" y2="534.35" stroke="#303030" stroke-width="0.9"/>
<line x1="51.90" y1="532.37" x2="55.70" y2="532.37" stroke="#303030" stroke-width="0.9"/>
<line x1="399.35" y1="532.37" x2="395.55" y2="532.37" stroke="#303030" stroke-width="0.9"/>
<line x1="51.90" y1="530.39" x2="55.70" y2="530.39" stroke="#303030" stroke-width="0.9"/>
<line x1="399.35" y1="530.39" x2="395.55" y2="530.39" stroke="#303030" stroke-width="0.9"/>
<line x1="51.90" y1="528.42" x2="55.70" y2="528.42" stroke="#303030" stroke-width="0.9"/>
<line x1="399.35" y1="528.42" x2="395.55" y2="528.42" stroke="#303030" stroke-width="0.9"/>
<line x1="51.90" y1="526.44" x2="55.70" y2="526.44" stroke="#303030" stroke-width="0.9"/>
<line x1="399.35" y1="526.44" x2="395.55" y2="526.44" stroke="#303030" stroke-width="0.9"/>
<line x1="51.90" y1="524.46" x2="55.70" y2="524.46" stroke="#303030" stroke-width="0.9"/>
<line x1="399.35" y1="524.46" x2="395.55" y2="524.46" stroke="#303030" stroke-width="0.9"/>
<line x1="51.90" y1="522.49" x2="55.70" y2="522.49" stroke="#303030" stroke-width="0.9"/>
<line x1="399.35" y1="522.49" x2="395.55" y2="522.49" stroke="#303030" stroke-width="0.9"/>
<line x1="51.90" y1="520.51" x2="59.00" y2="520.51" stroke="#303030" stroke-width="0.9"/>
<line x1="399.35" y1="520.51" x2="392.25" y2="520.51" stroke="#303030" stroke-width="0.9"/>
<text x="49.32" y="524.01" text-anchor="end" font-size="9.5" letter-spacing="0.22">0</text>
<line x1="51.90" y1="518.53" x2="55.70" y2="518.53" stroke="#303030" stroke-width="0.9"/>
<line x1="399.35" y1="518.53" x2="395.55" y2="518.53" stroke="#303030" stroke-width="0.9"/>
<line x1="51.90" y1="516.56" x2="55.70" y2="516.56" stroke="#303030" stroke-width="0.9"/>
<line x1="399.35" y1="516.56" x2="395.55" y2="516.56" stroke="#303030" stroke-width="0.9"/>
<line x1="51.90" y1="514.58" x2="55.70" y2="514.58" stroke="#303030" stroke-width="0.9"/>
<line x1="399.35" y1="514.58" x2="395.55" y2="514.58" stroke="#303030" stroke-width="0.9"/>
<line x1="51.90" y1="512.60" x2="55.70" y2="512.60" stroke="#303030" stroke-width="0.9"/>
<line x1="399.35" y1="512.60" x2="395.55" y2="512.60" stroke="#303030" stroke-width="0.9"/>
<line x1="51.90" y1="510.62" x2="55.70" y2="510.62" stroke="#303030" stroke-width="0.9"/>
<line x1="399.35" y1="510.62" x2="395.55" y2="510.62" stroke="#303030" stroke-width="0.9"/>
<line x1="51.90" y1="508.65" x2="55.70" y2="508.65" stroke="#303030" stroke-width="0.9"/>
<line x1="399.35" y1="508.65" x2="395.55" y2="508.65" stroke="#303030" stroke-width="0.9"/>
<line x1="51.90" y1="506.67" x2="55.70" y2="506.67" stroke="#303030" stroke-width="0.9"/>
<line x1="399.35" y1="506.67" x2="395.55" y2="506.67" stroke="#303030" stroke-width="0.9"/>
<line x1="51.90" y1="504.69" x2="55.70" y2="504.69" stroke="#303030" stroke-width="0.9"/>
<line x1="399.35" y1="504.69" x2="395.55" y2="504.69" stroke="#303030" stroke-width="0.9"/>
<line x1="51.90" y1="502.72" x2="55.70" y2="502.72" stroke="#303030" stroke-width="0.9"/>
<line x1="399.35" y1="502.72" x2="395.55" y2="502.72" stroke="#303030" stroke-width="0.9"/>
<line x1="51.90" y1="500.74" x2="59.00" y2="500.74" stroke="#303030" stroke-width="0.9"/>
<line x1="399.35" y1="500.74" x2="392.25" y2="500.74" stroke="#303030" stroke-width="0.9"/>
<text x="49.32" y="504.24" text-anchor="end" font-size="9.5" letter-spacing="0.22">1</text>
<line x1="51.90" y1="498.76" x2="55.70" y2="498.76" stroke="#303030" stroke-width="0.9"/>
<line x1="399.35" y1="498.76" x2="395.55" y2="498.76" stroke="#303030" stroke-width="0.9"/>
<line x1="51.90" y1="496.79" x2="55.70" y2="496.79" stroke="#303030" stroke-width="0.9"/>
<line x1="399.35" y1="496.79" x2="395.55" y2="496.79" stroke="#303030" stroke-width="0.9"/>
<line x1="51.90" y1="494.81" x2="55.70" y2="494.81" stroke="#303030" stroke-width="0.9"/>
<line x1="399.35" y1="494.81" x2="395.55" y2="494.81" stroke="#303030" stroke-width="0.9"/>
<line x1="51.90" y1="492.83" x2="55.70" y2="492.83" stroke="#303030" stroke-width="0.9"/>
<line x1="399.35" y1="492.83" x2="395.55" y2="492.83" stroke="#303030" stroke-width="0.9"/>
<line x1="51.90" y1="490.86" x2="55.70" y2="490.86" stroke="#303030" stroke-width="0.9"/>
<line x1="399.35" y1="490.86" x2="395.55" y2="490.86" stroke="#303030" stroke-width="0.9"/>
<line x1="51.90" y1="488.88" x2="55.70" y2="488.88" stroke="#303030" stroke-width="0.9"/>
<line x1="399.35" y1="488.88" x2="395.55" y2="488.88" stroke="#303030" stroke-width="0.9"/>
<line x1="51.90" y1="486.90" x2="55.70" y2="486.90" stroke="#303030" stroke-width="0.9"/>
<line x1="399.35" y1="486.90" x2="395.55" y2="486.90" stroke="#303030" stroke-width="0.9"/>
<line x1="51.90" y1="484.92" x2="55.70" y2="484.92" stroke="#303030" stroke-width="0.9"/>
<line x1="399.35" y1="484.92" x2="395.55" y2="484.92" stroke="#303030" stroke-width="0.9"/>
<line x1="51.90" y1="482.95" x2="55.70" y2="482.95" stroke="#303030" stroke-width="0.9"/>
<line x1="399.35" y1="482.95" x2="395.55" y2="482.95" stroke="#303030" stroke-width="0.9"/>
<line x1="51.90" y1="480.97" x2="59.00" y2="480.97" stroke="#303030" stroke-width="0.9"/>
<line x1="399.35" y1="480.97" x2="392.25" y2="480.97" stroke="#303030" stroke-width="0.9"/>
<text x="49.32" y="484.47" text-anchor="end" font-size="9.5" letter-spacing="0.22">2</text>
<line x1="51.90" y1="478.99" x2="55.70" y2="478.99" stroke="#303030" stroke-width="0.9"/>
<line x1="399.35" y1="478.99" x2="395.55" y2="478.99" stroke="#303030" stroke-width="0.9"/>
<line x1="51.90" y1="477.02" x2="55.70" y2="477.02" stroke="#303030" stroke-width="0.9"/>
<line x1="399.35" y1="477.02" x2="395.55" y2="477.02" stroke="#303030" stroke-width="0.9"/>
<line x1="51.90" y1="475.04" x2="55.70" y2="475.04" stroke="#303030" stroke-width="0.9"/>
<line x1="399.35" y1="475.04" x2="395.55" y2="475.04" stroke="#303030" stroke-width="0.9"/>
<line x1="51.90" y1="473.06" x2="55.70" y2="473.06" stroke="#303030" stroke-width="0.9"/>
<line x1="399.35" y1="473.06" x2="395.55" y2="473.06" stroke="#303030" stroke-width="0.9"/>
<line x1="51.90" y1="471.08" x2="55.70" y2="471.08" stroke="#303030" stroke-width="0.9"/>
<line x1="399.35" y1="471.08" x2="395.55" y2="471.08" stroke="#303030" stroke-width="0.9"/>
<line x1="51.90" y1="469.11" x2="55.70" y2="469.11" stroke="#303030" stroke-width="0.9"/>
<line x1="399.35" y1="469.11" x2="395.55" y2="469.11" stroke="#303030" stroke-width="0.9"/>
<line x1="51.90" y1="467.13" x2="55.70" y2="467.13" stroke="#303030" stroke-width="0.9"/>
<line x1="399.35" y1="467.13" x2="395.55" y2="467.13" stroke="#303030" stroke-width="0.9"/>
<line x1="51.90" y1="465.15" x2="55.70" y2="465.15" stroke="#303030" stroke-width="0.9"/>
<line x1="399.35" y1="465.15" x2="395.55" y2="465.15" stroke="#303030" stroke-width="0.9"/>
<line x1="51.90" y1="463.18" x2="55.70" y2="463.18" stroke="#303030" stroke-width="0.9"/>
<line x1="399.35" y1="463.18" x2="395.55" y2="463.18" stroke="#303030" stroke-width="0.9"/>
<text x="49.32" y="467.30" text-anchor="end" font-size="9.5" letter-spacing="0.22">3</text>
<text x="225.65" y="583.95" text-anchor="middle" font-size="9.5" letter-spacing="0.05" word-spacing="0.9">Time (sec)</text>
<text x="30.00" y="510.62" text-anchor="middle" font-size="9.5" letter-spacing="0.15" transform="rotate(-90 30.00 510.62)">Rate</text>
<text x="225.63" y="456.60" text-anchor="middle" font-size="11.6" letter-spacing="0.02" word-spacing="1.55">Light Curves with Noise Level: 60.00 %</text>
<g clip-path="url(#cl3)">
<polyline points="51.9,531.3 52.2,517.5 52.6,515.5 52.9,508.6 53.3,529.0 53.6,542.6 54.0,522.2 54.3,519.6 54.7,506.0 55.0,515.3 55.4,519.9 55.7,514.9 56.1,519.2 56.4,533.5 56.8,512.3 57.1,514.4 57.5,526.7 57.8,518.2 58.2,527.6 58.5,528.3 58.8,520.8 59.2,513.3 59.5,536.9 59.9,512.9 60.2,515.3 60.6,522.1 60.9,516.4 61.3,518.6 61.6,509.8 62.0,536.4 62.3,501.8 62.7,506.6 63.0,524.4 63.4,530.9 63.7,512.4 64.1,528.3 64.4,533.4 64.8,527.2 65.1,523.2 65.5,541.0 65.8,521.3 66.1,539.3 66.5,529.0 66.8,499.0 67.2,537.3 67.5,515.2 67.9,539.0 68.2,507.2 68.6,528.0 68.9,507.8 69.3,516.3 69.6,542.6 70.0,508.7 70.3,516.9 70.7,520.0 71.0,512.3 71.4,504.4 71.7,531.7 72.1,537.6 72.4,527.3 72.7,507.2 73.1,510.8 73.4,509.6 73.8,518.5 74.1,511.8 74.5,505.7 74.8,523.0 75.2,542.0 75.5,514.0 75.9,526.7 76.2,520.6 76.6,530.6 76.9,528.3 77.3,522.4 77.6,523.4 78.0,506.2 78.3,514.0 78.7,532.8 79.0,541.7 79.3,532.9 79.7,510.8 80.0,547.0 80.4,501.6 80.7,542.9 81.1,545.4 81.4,513.7 81.8,498.6 82.1,529.9 82.5,498.5 82.8,499.6 83.2,505.7 83.5,508.9 83.9,533.0 84.2,518.7 84.6,504.0 84.9,512.7 85.3,524.7 85.6,518.9 86.0,504.5 86.3,501.2 86.6,493.6 87.0,484.1 87.3,534.8 87.7,512.2 88.0,484.3 88.4,517.6 88.7,523.9 89.1,502.4 89.4,507.1 89.8,520.2 90.1,519.8 90.5,513.6 90.8,503.5 91.2,512.0 91.5,531.2 91.9,514.6 92.2,527.8 92.6,508.3 92.9,504.6 93.2,529.2 93.6,506.9 93.9,507.4 94.3,505.1 94.6,494.4 95.0,494.2 95.3,519.7 95.7,507.3 96.0,484.9 96.4,507.3 96.7,504.7 97.1,498.9 97.4,510.0 97.8,503.4 98.1,498.9 98.5,509.9 98.8,503.3 99.2,511.4 99.5,502.6 99.8,501.3 100.2,523.1 100.5,488.1 100.9,496.8 101.2,491.9 101.6,515.3 101.9,505.9 102.3,520.5 102.6,486.4 103.0,495.4 103.3,505.0 103.7,500.9 104.0,521.2 104.4,507.6 104.7,501.8 105.1,519.5 105.4,492.0 105.8,490.4 106.1,487.6 106.4,490.7 106.8,505.2 107.1,506.1 107.5,526.2 107.8,500.5 108.2,498.3 108.5,517.6 108.9,529.3 109.2,500.3 109.6,496.9 109.9,495.6 110.3,513.3 110.6,532.2 111.0,506.4 111.3,513.1 111.7,514.5 112.0,502.7 112.4,490.2 112.7,499.8 113.1,551.8 113.4,524.6 113.7,503.4 114.1,531.1 114.4,492.7 114.8,532.5 115.1,519.4 115.5,515.9 115.8,514.4 116.2,498.7 116.5,507.4 116.9,515.7 117.2,532.9 117.6,520.7 117.9,511.3 118.3,522.3 118.6,517.5 119.0,518.0 119.3,511.8 119.7,495.7 120.0,510.5 120.3,514.3 120.7,512.7 121.0,531.9 121.4,508.1 121.7,512.1 122.1,516.5 122.4,489.9 122.8,510.0 123.1,516.0 123.5,526.0 123.8,512.3 124.2,523.0 124.5,517.1 124.9,511.2 125.2,525.8 125.6,526.0 125.9,522.1 126.3,526.8 126.6,492.3 126.9,526.0 127.3,527.0 127.6,506.9 128.0,534.2 128.3,504.3 128.7,534.6 129.0,518.1 129.4,517.8 129.7,514.0 130.1,515.3 130.4,526.1 130.8,524.5 131.1,523.3 131.5,510.9 131.8,504.0 132.2,524.5 132.5,485.4 132.9,515.9 133.2,514.6 133.6,520.2 133.9,519.2 134.2,525.9 134.6,479.0 134.9,517.4 135.3,510.4 135.6,525.9 136.0,530.8 136.3,538.4 136.7,516.0 137.0,496.9 137.4,536.2 137.7,496.2 138.1,514.7 138.4,504.8 138.8,520.1 139.1,532.8 139.5,526.6 139.8,525.5 140.2,518.7 140.5,514.8 140.8,494.5 141.2,529.2 141.5,513.0 141.9,532.1 142.2,526.8 142.6,516.2 142.9,534.9 143.3,519.9 143.6,506.2 144.0,508.5 144.3,518.1 144.7,512.1 145.0,488.7 145.4,508.2 145.7,511.4 146.1,520.4 146.4,538.7 146.8,525.2 147.1,536.5 147.4,528.0 147.8,498.4 148.1,541.1 148.5,486.1 148.8,515.9 149.2,516.4 149.5,527.5 149.9,512.8 150.2,507.3 150.6,513.1 150.9,525.2 151.3,543.0 151.6,500.6 152.0,518.2 152.3,522.1 152.7,501.8 153.0,513.8 153.4,527.2 153.7,503.6 154.1,507.0 154.4,514.5 154.7,515.1 155.1,522.4 155.4,527.1 155.8,513.4 156.1,523.2 156.5,497.1 156.8,511.8 157.2,533.9 157.5,538.2 157.9,521.4 158.2,513.2 158.6,512.9 158.9,526.9 159.3,524.5 159.6,517.8 160.0,530.8 160.3,514.8 160.7,502.2 161.0,511.3 161.3,518.0 161.7,510.8 162.0,526.1 162.4,526.2 162.7,491.4 163.1,520.8 163.4,494.3 163.8,495.6 164.1,519.7 164.5,506.8 164.8,516.6 165.2,536.5 165.5,500.3 165.9,512.7 166.2,521.1 166.6,521.9 166.9,515.8 167.3,520.0 167.6,533.0 167.9,500.1 168.3,508.5 168.6,518.5 169.0,524.7 169.3,493.6 169.7,499.3 170.0,509.1 170.4,494.7 170.7,509.4 171.1,492.4 171.4,524.0 171.8,504.3 172.1,498.9 172.5,497.5 172.8,505.1 173.2,482.9 173.5,494.3 173.9,509.3 174.2,504.0 174.5,541.2 174.9,496.1 175.2,508.7 175.6,519.8 175.9,509.2 176.3,494.9 176.6,496.3 177.0,509.4 177.3,508.4 177.7,507.1 178.0,519.2 178.4,509.0 178.7,491.9 179.1,497.2 179.4,519.3 179.8,510.1 180.1,519.6 180.5,506.7 180.8,516.3 181.2,515.3 181.5,508.8 181.8,509.7 182.2,519.8 182.5,488.8 182.9,501.8 183.2,518.2 183.6,490.6 183.9,501.1 184.3,519.0 184.6,510.6 185.0,504.4 185.3,495.3 185.7,520.1 186.0,492.7 186.4,530.1 186.7,540.6 187.1,512.9 187.4,527.7 187.8,517.0 188.1,524.1 188.4,517.8 188.8,504.6 189.1,527.4 189.5,510.2 189.8,505.3 190.2,493.4 190.5,511.4 190.9,503.9 191.2,476.8 191.6,533.0 191.9,498.1 192.3,513.0 192.6,503.2 193.0,506.5 193.3,502.9 193.7,514.3 194.0,509.5 194.4,504.5 194.7,522.9 195.0,523.5 195.4,506.3 195.7,517.9 196.1,523.6 196.4,527.5 196.8,513.9 197.1,503.7 197.5,497.2 197.8,517.2 198.2,534.5 198.5,520.5 198.9,513.8 199.2,508.2 199.6,490.3 199.9,504.4 200.3,514.0 200.6,515.5 201.0,506.8 201.3,491.6 201.7,497.7 202.0,518.8 202.3,501.8 202.7,509.2 203.0,504.9 203.4,531.8 203.7,501.6 204.1,497.6 204.4,517.4 204.8,515.4 205.1,516.7 205.5,518.7 205.8,533.0 206.2,507.4 206.5,510.3 206.9,508.0 207.2,507.8 207.6,515.1 207.9,505.9 208.3,519.4 208.6,523.4 208.9,514.0 209.3,491.9 209.6,530.0 210.0,505.0 210.3,500.7 210.7,507.1 211.0,503.7 211.4,528.9 211.7,510.4 212.1,502.8 212.4,503.9 212.8,507.2 213.1,510.1 213.5,496.5 213.8,510.1 214.2,513.1 214.5,515.2 214.9,507.1 215.2,513.7 215.5,508.0 215.9,500.1 216.2,526.9 216.6,511.0 216.9,533.9 217.3,508.4 217.6,525.6 218.0,505.8 218.3,526.8 218.7,496.8 219.0,527.7 219.4,502.3 219.7,504.8 220.1,521.2 220.4,507.9 220.8,521.3 221.1,501.2 221.5,509.7 221.8,540.7 222.2,507.2 222.5,505.0 222.8,497.2 223.2,509.6 223.5,503.4 223.9,501.1 224.2,510.5 224.6,513.9 224.9,524.6 225.3,510.9 225.6,523.7 226.0,502.8 226.3,494.7 226.7,502.7 227.0,496.1 227.4,514.7 227.7,498.5 228.1,502.7 228.4,502.4 228.8,492.1 229.1,509.2 229.4,504.3 229.8,524.9 230.1,502.1 230.5,481.4 230.8,496.3 231.2,512.4 231.5,492.2 231.9,512.3 232.2,535.8 232.6,495.6 232.9,516.0 233.3,496.8 233.6,520.4 234.0,502.2 234.3,504.4 234.7,502.8 235.0,509.7 235.4,512.0 235.7,536.1 236.0,507.7 236.4,520.1 236.7,526.2 237.1,510.9 237.4,517.7 237.8,535.7 238.1,534.6 238.5,508.5 238.8,490.5 239.2,507.0 239.5,528.3 239.9,491.1 240.2,520.9 240.6,515.2 240.9,514.7 241.3,514.0 241.6,501.6 242.0,517.2 242.3,510.6 242.7,524.4 243.0,507.7 243.3,511.2 243.7,522.8 244.0,526.3 244.4,502.0 244.7,516.3 245.1,516.6 245.4,493.4 245.8,500.0 246.1,529.1 246.5,529.5 246.8,514.6 247.2,492.2 247.5,512.6 247.9,515.1 248.2,507.0 248.6,508.7 248.9,527.8 249.3,505.2 249.6,514.6 249.9,508.8 250.3,505.0 250.6,503.7 251.0,504.3 251.3,507.0 251.7,508.9 252.0,515.2 252.4,513.7 252.7,512.3 253.1,504.6 253.4,502.6 253.8,501.5 254.1,493.8 254.5,512.9 254.8,512.7 255.2,516.4 255.5,541.5 255.9,507.4 256.2,524.5 256.5,527.9 256.9,521.0 257.2,506.8 257.6,521.3 257.9,524.2 258.3,498.0 258.6,498.7 259.0,527.5 259.3,524.8 259.7,500.5 260.0,501.2 260.4,528.0 260.7,520.6 261.1,501.0 261.4,498.1 261.8,525.1 262.1,490.9 262.5,498.5 262.8,497.2 263.1,520.9 263.5,515.4 263.8,499.9 264.2,524.6 264.5,532.4 264.9,492.6 265.2,521.1 265.6,481.8 265.9,501.1 266.3,526.8 266.6,518.7 267.0,502.2 267.3,535.5 267.7,515.0 268.0,530.1 268.4,516.1 268.7,521.3 269.1,494.4 269.4,534.0 269.8,514.2 270.1,532.3 270.4,514.0 270.8,512.0 271.1,515.0 271.5,504.9 271.8,521.1 272.2,511.1 272.5,532.7 272.9,501.6 273.2,510.6 273.6,513.3 273.9,511.3 274.3,522.0 274.6,527.3 275.0,518.5 275.3,500.6 275.7,518.6 276.0,521.1 276.4,523.4 276.7,518.8 277.0,533.5 277.4,512.3 277.7,509.8 278.1,502.5 278.4,511.6 278.8,494.6 279.1,511.0 279.5,498.3 279.8,530.1 280.2,513.0 280.5,526.3 280.9,532.7 281.2,506.2 281.6,495.4 281.9,508.2 282.3,526.5 282.6,507.5 283.0,506.4 283.3,516.3 283.6,531.7 284.0,527.9 284.3,521.5 284.7,513.6 285.0,527.7 285.4,517.1 285.7,529.7 286.1,500.7 286.4,514.2 286.8,519.4 287.1,522.4 287.5,518.6 287.8,532.4 288.2,509.9 288.5,519.2 288.9,537.3 289.2,500.5 289.6,507.8 289.9,520.2 290.3,521.8 290.6,492.2 290.9,539.6 291.3,525.2 291.6,536.9 292.0,519.1 292.3,518.2 292.7,518.7 293.0,526.0 293.4,508.1 293.7,526.1 294.1,507.9 294.4,526.1 294.8,510.4 295.1,519.4 295.5,515.7 295.8,506.0 296.2,515.2 296.5,533.2 296.9,522.6 297.2,499.7 297.5,505.2 297.9,526.9 298.2,498.7 298.6,518.7 298.9,524.1 299.3,504.4 299.6,502.1 300.0,535.6 300.3,509.5 300.7,513.4 301.0,503.9 301.4,520.4 301.7,518.4 302.1,508.7 302.4,494.0 302.8,523.8 303.1,498.7 303.5,528.8 303.8,528.1 304.1,513.0 304.5,517.2 304.8,515.1 305.2,524.3 305.5,527.3 305.9,530.2 306.2,516.4 306.6,532.8 306.9,514.4 307.3,528.5 307.6,532.5 308.0,524.4 308.3,511.7 308.7,508.9 309.0,548.9 309.4,529.3 309.7,520.1 310.1,532.0 310.4,511.4 310.8,524.9 311.1,526.4 311.4,521.3 311.8,505.6 312.1,508.9 312.5,506.8 312.8,520.1 313.2,511.8 313.5,517.3 313.9,517.8 314.2,523.9 314.6,502.4 314.9,531.9 315.3,510.5 315.6,520.3 316.0,516.5 316.3,527.2 316.7,493.9 317.0,515.4 317.4,518.4 317.7,521.6 318.0,528.6 318.4,507.1 318.7,491.5 319.1,515.8 319.4,534.7 319.8,524.9 320.1,510.9 320.5,511.5 320.8,531.3 321.2,514.8 321.5,517.1 321.9,521.8 322.2,522.6 322.6,517.6 322.9,520.6 323.3,518.0 323.6,536.8 324.0,530.3 324.3,510.3 324.6,513.3 325.0,537.3 325.3,509.0 325.7,539.8 326.0,536.3 326.4,549.2 326.7,513.5 327.1,533.4 327.4,510.4 327.8,519.1 328.1,545.0 328.5,527.0 328.8,513.6 329.2,528.5 329.5,509.9 329.9,519.6 330.2,509.5 330.6,518.4 330.9,508.9 331.2,541.8 331.6,509.2 331.9,504.8 332.3,514.4 332.6,505.9 333.0,514.6 333.3,512.1 333.7,504.8 334.0,525.8 334.4,537.6 334.7,543.8 335.1,496.1 335.4,532.9 335.8,504.5 336.1,497.4 336.5,524.4 336.8,532.3 337.2,511.4 337.5,495.8 337.9,510.4 338.2,517.8 338.5,521.6 338.9,523.8 339.2,531.4 339.6,530.5 339.9,518.2 340.3,520.9 340.6,496.9 341.0,519.0 341.3,522.2 341.7,527.5 342.0,506.9 342.4,520.8 342.7,529.5 343.1,505.7 343.4,512.1 343.8,524.9 344.1,525.0 344.5,510.9 344.8,527.0 345.1,508.5 345.5,498.9 345.8,522.2 346.2,509.3 346.5,512.6 346.9,519.4 347.2,522.7 347.6,526.4 347.9,517.7 348.3,517.2 348.6,514.7 349.0,507.1 349.3,523.4 349.7,531.6 350.0,528.3 350.4,511.8 350.7,517.0 351.1,533.2 351.4,525.1 351.7,516.9 352.1,537.4 352.4,515.2 352.8,500.9 353.1,505.7 353.5,501.6 353.8,524.6 354.2,521.9 354.5,522.0 354.9,523.0 355.2,503.6 355.6,492.3 355.9,513.3 356.3,502.8 356.6,513.8 357.0,525.5 357.3,515.5 357.7,527.2 358.0,530.2 358.4,507.3 358.7,524.2 359.0,529.6 359.4,491.4 359.7,534.4 360.1,522.0 360.4,511.5 360.8,516.5 361.1,505.7 361.5,513.6 361.8,509.9 362.2,533.7 362.5,554.7 362.9,504.1 363.2,530.3 363.6,529.0 363.9,521.2 364.3,512.7 364.6,506.2 365.0,502.2 365.3,516.6 365.6,523.2 366.0,497.4 366.3,514.8 366.7,516.4 367.0,527.0 367.4,548.2 367.7,512.6 368.1,498.8 368.4,515.9 368.8,522.9 369.1,506.5 369.5,533.5 369.8,505.3 370.2,520.9 370.5,519.8 370.9,522.4 371.2,522.8 371.6,505.0 371.9,507.5 372.2,521.4 372.6,519.3 372.9,519.5 373.3,520.9 373.6,533.1 374.0,504.6 374.3,524.8 374.7,520.5 375.0,507.4 375.4,480.6 375.7,533.5 376.1,531.0 376.4,525.9 376.8,508.6 377.1,529.7 377.5,528.8 377.8,544.7 378.2,522.3 378.5,527.9 378.9,511.9 379.2,531.8 379.5,540.2 379.9,527.8 380.2,542.0 380.6,506.8 380.9,476.0 381.3,497.1 381.6,535.9 382.0,510.3 382.3,518.5 382.7,511.1 383.0,530.6 383.4,526.9 383.7,514.1 384.1,546.1 384.4,523.0 384.8,536.9 385.1,520.2 385.5,508.4 385.8,520.9 386.1,521.1 386.5,512.4 386.8,521.5 387.2,538.3 387.5,515.0 387.9,514.4 388.2,526.4 388.6,502.2 388.9,504.6 389.3,528.9 389.6,526.4 390.0,525.4 390.3,497.9 390.7,518.3 391.0,526.3 391.4,528.8 391.7,509.0 392.1,533.9 392.4,511.4 392.7,520.6 393.1,514.5 393.4,503.3 393.8,521.8 394.1,529.0 394.5,488.5 394.8,533.9 395.2,522.5 395.5,523.4 395.9,534.4 396.2,508.5 396.6,525.2 396.9,525.9 397.3,503.4 397.6,527.0 398.0,524.3 398.3,542.1 398.7,511.7 399.0,523.4" fill="none" stroke="#ff0000" stroke-width="0.7" stroke-linejoin="bevel"/>
<polyline points="51.9,531.8 52.2,517.4 52.6,532.3 52.9,532.1 53.3,502.1 53.6,522.4 54.0,516.9 54.3,521.1 54.7,521.7 55.0,516.9 55.4,525.0 55.7,519.9 56.1,520.3 56.4,534.8 56.8,527.6 57.1,522.8 57.5,532.6 57.8,497.7 58.2,510.1 58.5,528.3 58.8,510.5 59.2,531.8 59.5,505.1 59.9,514.0 60.2,526.1 60.6,527.7 60.9,531.0 61.3,527.6 61.6,508.2 62.0,509.5 62.3,530.0 62.7,514.4 63.0,511.2 63.4,514.5 63.7,518.3 64.1,524.3 64.4,532.2 64.8,525.2 65.1,532.4 65.5,535.9 65.8,517.8 66.1,499.7 66.5,527.4 66.8,511.9 67.2,520.4 67.5,524.2 67.9,522.0 68.2,522.0 68.6,526.4 68.9,505.9 69.3,527.0 69.6,530.9 70.0,527.6 70.3,510.5 70.7,502.1 71.0,524.3 71.4,494.7 71.7,515.0 72.1,520.4 72.4,517.1 72.7,512.1 73.1,508.0 73.4,545.0 73.8,536.6 74.1,514.6 74.5,510.6 74.8,526.9 75.2,510.5 75.5,512.3 75.9,525.1 76.2,529.4 76.6,513.1 76.9,493.9 77.3,524.0 77.6,517.9 78.0,530.6 78.3,524.8 78.7,528.5 79.0,517.5 79.3,518.3 79.7,522.3 80.0,518.9 80.4,524.2 80.7,513.3 81.1,533.8 81.4,521.7 81.8,516.1 82.1,519.1 82.5,531.0 82.8,512.9 83.2,512.6 83.5,492.1 83.9,517.0 84.2,521.0 84.6,524.0 84.9,505.0 85.3,500.1 85.6,527.4 86.0,517.7 86.3,501.8 86.6,510.1 87.0,512.2 87.3,503.3 87.7,506.3 88.0,500.4 88.4,494.9 88.7,510.0 89.1,509.4 89.4,484.7 89.8,497.6 90.1,503.4 90.5,498.5 90.8,493.5 91.2,493.4 91.5,486.9 91.9,487.0 92.2,503.1 92.6,493.8 92.9,510.3 93.2,495.4 93.6,489.5 93.9,493.4 94.3,491.0 94.6,488.8 95.0,512.8 95.3,483.7 95.7,499.8 96.0,518.3 96.4,517.9 96.7,478.7 97.1,483.5 97.4,494.6 97.8,482.1 98.1,507.2 98.5,486.6 98.8,494.8 99.2,505.0 99.5,515.6 99.8,506.9 100.2,502.5 100.5,492.1 100.9,508.1 101.2,494.0 101.6,526.8 101.9,505.9 102.3,508.1 102.6,507.7 103.0,514.2 103.3,537.2 103.7,496.4 104.0,513.4 104.4,505.1 104.7,507.4 105.1,522.3 105.4,517.2 105.8,505.2 106.1,512.1 106.4,495.2 106.8,514.4 107.1,508.4 107.5,519.2 107.8,529.8 108.2,500.9 108.5,520.9 108.9,536.5 109.2,518.5 109.6,503.8 109.9,532.4 110.3,521.1 110.6,511.1 111.0,516.6 111.3,503.6 111.7,513.9 112.0,526.4 112.4,500.9 112.7,501.5 113.1,508.9 113.4,525.1 113.7,527.7 114.1,525.7 114.4,506.8 114.8,539.0 115.1,511.7 115.5,493.2 115.8,499.9 116.2,508.8 116.5,524.3 116.9,520.0 117.2,512.4 117.6,519.3 117.9,548.7 118.3,536.6 118.6,504.2 119.0,522.3 119.3,521.8 119.7,507.4 120.0,515.4 120.3,531.5 120.7,545.4 121.0,514.9 121.4,544.2 121.7,530.4 122.1,509.9 122.4,536.2 122.8,516.5 123.1,491.0 123.5,506.2 123.8,523.7 124.2,515.2 124.5,527.5 124.9,544.6 125.2,506.0 125.6,523.6 125.9,536.5 126.3,523.7 126.6,516.9 126.9,533.3 127.3,503.2 127.6,490.2 128.0,511.8 128.3,509.8 128.7,499.9 129.0,495.7 129.4,520.1 129.7,528.7 130.1,519.8 130.4,528.4 130.8,511.2 131.1,514.0 131.5,505.7 131.8,509.2 132.2,523.7 132.5,539.2 132.9,515.5 133.2,535.5 133.6,488.5 133.9,532.9 134.2,513.2 134.6,531.1 134.9,509.5 135.3,518.4 135.6,501.3 136.0,509.3 136.3,520.8 136.7,523.9 137.0,541.7 137.4,532.6 137.7,539.7 138.1,508.1 138.4,529.7 138.8,512.2 139.1,509.4 139.5,502.5 139.8,510.5 140.2,504.4 140.5,501.9 140.8,526.7 141.2,506.1 141.5,527.3 141.9,494.6 142.2,526.8 142.6,505.9 142.9,525.3 143.3,492.4 143.6,532.8 144.0,509.3 144.3,516.3 144.7,519.6 145.0,494.8 145.4,520.7 145.7,523.8 146.1,521.0 146.4,501.4 146.8,505.5 147.1,541.6 147.4,526.8 147.8,478.2 148.1,524.0 148.5,526.8 148.8,518.9 149.2,530.3 149.5,516.8 149.9,517.0 150.2,537.9 150.6,515.1 150.9,517.3 151.3,529.5 151.6,509.2 152.0,528.6 152.3,481.9 152.7,479.1 153.0,519.1 153.4,513.2 153.7,523.3 154.1,502.1 154.4,514.9 154.7,501.7 155.1,501.2 155.4,517.3 155.8,507.1 156.1,527.7 156.5,514.2 156.8,527.1 157.2,497.5 157.5,530.8 157.9,503.3 158.2,509.7 158.6,514.1 158.9,508.8 159.3,496.6 159.6,502.0 160.0,488.9 160.3,518.8 160.7,531.2 161.0,519.1 161.3,507.2 161.7,521.5 162.0,501.1 162.4,513.7 162.7,514.1 163.1,509.1 163.4,511.2 163.8,503.3 164.1,498.4 164.5,522.3 164.8,494.8 165.2,499.2 165.5,507.9 165.9,516.7 166.2,529.1 166.6,519.2 166.9,532.5 167.3,531.7 167.6,513.4 167.9,508.3 168.3,516.6 168.6,513.7 169.0,494.3 169.3,513.1 169.7,507.5 170.0,493.6 170.4,482.8 170.7,510.5 171.1,510.0 171.4,517.1 171.8,532.3 172.1,534.5 172.5,527.3 172.8,506.3 173.2,529.9 173.5,526.9 173.9,517.3 174.2,506.9 174.5,524.0 174.9,490.0 175.2,545.3 175.6,520.9 175.9,522.2 176.3,497.9 176.6,530.2 177.0,501.0 177.3,477.1 177.7,520.7 178.0,506.4 178.4,510.5 178.7,516.4 179.1,522.1 179.4,511.8 179.8,513.8 180.1,515.4 180.5,526.2 180.8,525.2 181.2,509.8 181.5,517.2 181.8,504.4 182.2,504.8 182.5,518.3 182.9,513.9 183.2,515.5 183.6,515.4 183.9,506.1 184.3,514.2 184.6,506.6 185.0,519.2 185.3,503.1 185.7,508.7 186.0,506.8 186.4,510.7 186.7,493.9 187.1,505.5 187.4,510.0 187.8,483.3 188.1,509.2 188.4,517.1 188.8,504.4 189.1,505.9 189.5,500.6 189.8,495.4 190.2,500.6 190.5,504.0 190.9,492.8 191.2,524.3 191.6,516.3 191.9,530.3 192.3,503.9 192.6,515.9 193.0,518.2 193.3,497.5 193.7,504.6 194.0,502.3 194.4,518.7 194.7,509.3 195.0,502.1 195.4,518.5 195.7,513.8 196.1,515.9 196.4,491.1 196.8,510.9 197.1,517.7 197.5,488.0 197.8,504.0 198.2,499.5 198.5,506.1 198.9,511.7 199.2,509.8 199.6,516.6 199.9,501.1 200.3,522.9 200.6,506.6 201.0,501.5 201.3,527.2 201.7,527.8 202.0,523.7 202.3,509.8 202.7,510.6 203.0,512.3 203.4,521.2 203.7,498.9 204.1,505.4 204.4,503.7 204.8,524.2 205.1,481.7 205.5,494.6 205.8,516.0 206.2,485.8 206.5,505.9 206.9,510.1 207.2,491.5 207.6,517.9 207.9,510.4 208.3,480.0 208.6,505.4 208.9,495.5 209.3,500.1 209.6,516.3 210.0,537.1 210.3,501.0 210.7,510.4 211.0,528.2 211.4,521.9 211.7,499.4 212.1,524.3 212.4,509.4 212.8,517.3 213.1,504.9 213.5,522.0 213.8,505.9 214.2,501.7 214.5,500.8 214.9,503.4 215.2,505.5 215.5,503.0 215.9,488.1 216.2,511.0 216.6,496.6 216.9,493.6 217.3,515.1 217.6,514.1 218.0,496.1 218.3,515.0 218.7,492.2 219.0,504.4 219.4,519.3 219.7,506.3 220.1,506.3 220.4,501.5 220.8,511.5 221.1,508.1 221.5,505.4 221.8,508.7 222.2,495.7 222.5,504.3 222.8,535.8 223.2,510.3 223.5,529.7 223.9,510.8 224.2,509.4 224.6,536.9 224.9,514.7 225.3,504.8 225.6,501.8 226.0,507.5 226.3,524.1 226.7,510.4 227.0,509.7 227.4,518.2 227.7,526.4 228.1,519.5 228.4,518.1 228.8,506.1 229.1,501.5 229.4,514.9 229.8,505.6 230.1,496.8 230.5,518.0 230.8,508.3 231.2,511.1 231.5,516.4 231.9,501.0 232.2,517.2 232.6,515.0 232.9,513.0 233.3,512.2 233.6,529.5 234.0,506.9 234.3,510.4 234.7,500.3 235.0,513.1 235.4,500.2 235.7,492.7 236.0,518.1 236.4,507.2 236.7,534.5 237.1,506.8 237.4,516.8 237.8,525.2 238.1,490.8 238.5,524.4 238.8,515.9 239.2,514.9 239.5,531.1 239.9,529.1 240.2,496.9 240.6,529.4 240.9,510.9 241.3,522.9 241.6,528.7 242.0,515.7 242.3,489.9 242.7,498.6 243.0,500.4 243.3,496.0 243.7,510.4 244.0,511.5 244.4,512.0 244.7,500.3 245.1,519.5 245.4,502.8 245.8,519.1 246.1,531.2 246.5,540.8 246.8,509.6 247.2,515.2 247.5,522.6 247.9,514.5 248.2,521.1 248.6,505.1 248.9,520.2 249.3,512.2 249.6,513.7 249.9,508.0 250.3,502.3 250.6,501.8 251.0,521.5 251.3,531.0 251.7,519.3 252.0,528.7 252.4,520.1 252.7,526.5 253.1,523.8 253.4,492.8 253.8,520.8 254.1,513.7 254.5,498.2 254.8,527.1 255.2,524.4 255.5,499.2 255.9,514.4 256.2,519.7 256.5,519.1 256.9,528.1 257.2,506.2 257.6,538.3 257.9,517.9 258.3,511.3 258.6,511.5 259.0,516.8 259.3,507.3 259.7,499.3 260.0,509.8 260.4,524.0 260.7,510.7 261.1,515.9 261.4,519.6 261.8,518.6 262.1,525.7 262.5,527.9 262.8,511.9 263.1,522.0 263.5,514.5 263.8,520.8 264.2,518.3 264.5,494.9 264.9,508.3 265.2,506.4 265.6,499.9 265.9,513.7 266.3,502.0 266.6,518.0 267.0,519.7 267.3,509.4 267.7,510.5 268.0,512.8 268.4,524.1 268.7,517.6 269.1,516.9 269.4,507.9 269.8,522.0 270.1,515.9 270.4,517.3 270.8,491.4 271.1,505.7 271.5,507.8 271.8,523.6 272.2,514.8 272.5,518.5 272.9,518.1 273.2,507.2 273.6,510.4 273.9,533.2 274.3,516.1 274.6,496.8 275.0,527.6 275.3,533.3 275.7,524.3 276.0,515.6 276.4,497.9 276.7,516.2 277.0,514.8 277.4,505.9 277.7,532.2 278.1,510.2 278.4,516.7 278.8,506.7 279.1,516.0 279.5,532.4 279.8,503.1 280.2,523.0 280.5,510.3 280.9,507.5 281.2,535.3 281.6,500.3 281.9,510.0 282.3,510.6 282.6,512.9 283.0,484.5 283.3,529.5 283.6,533.6 284.0,534.0 284.3,525.7 284.7,528.6 285.0,534.4 285.4,528.1 285.7,514.1 286.1,508.3 286.4,492.2 286.8,538.7 287.1,515.8 287.5,512.2 287.8,519.5 288.2,526.7 288.5,525.3 288.9,511.0 289.2,538.1 289.6,508.1 289.9,533.2 290.3,511.4 290.6,496.4 290.9,511.9 291.3,502.4 291.6,530.0 292.0,504.8 292.3,518.0 292.7,508.9 293.0,520.1 293.4,523.5 293.7,511.7 294.1,515.9 294.4,515.6 294.8,505.4 295.1,525.5 295.5,533.6 295.8,519.5 296.2,509.5 296.5,541.1 296.9,508.7 297.2,546.8 297.5,528.1 297.9,537.0 298.2,511.0 298.6,535.1 298.9,533.9 299.3,515.9 299.6,491.0 300.0,511.9 300.3,501.4 300.7,510.4 301.0,517.1 301.4,514.1 301.7,511.5 302.1,531.0 302.4,515.7 302.8,542.0 303.1,515.3 303.5,520.5 303.8,502.7 304.1,504.0 304.5,511.4 304.8,515.3 305.2,503.8 305.5,525.5 305.9,521.9 306.2,525.3 306.6,519.8 306.9,537.1 307.3,518.0 307.6,513.0 308.0,527.4 308.3,532.3 308.7,518.4 309.0,506.3 309.4,532.8 309.7,526.4 310.1,511.0 310.4,507.9 310.8,508.8 311.1,507.8 311.4,521.5 311.8,494.6 312.1,508.0 312.5,543.1 312.8,500.6 313.2,508.8 313.5,507.0 313.9,520.4 314.2,520.4 314.6,529.3 314.9,506.4 315.3,540.6 315.6,515.8 316.0,501.4 316.3,510.7 316.7,510.8 317.0,506.4 317.4,494.9 317.7,527.7 318.0,512.2 318.4,511.4 318.7,531.9 319.1,519.0 319.4,513.2 319.8,524.6 320.1,511.6 320.5,515.4 320.8,518.1 321.2,513.1 321.5,508.8 321.9,521.5 322.2,518.6 322.6,531.2 322.9,513.6 323.3,513.3 323.6,514.7 324.0,507.9 324.3,515.5 324.6,523.8 325.0,530.3 325.3,525.8 325.7,522.7 326.0,516.2 326.4,514.1 326.7,510.2 327.1,541.0 327.4,524.9 327.8,520.9 328.1,498.5 328.5,508.5 328.8,525.2 329.2,508.8 329.5,515.5 329.9,518.5 330.2,533.9 330.6,548.0 330.9,511.9 331.2,515.9 331.6,532.9 331.9,523.6 332.3,525.9 332.6,491.7 333.0,541.7 333.3,502.7 333.7,504.2 334.0,514.8 334.4,519.0 334.7,532.5 335.1,517.1 335.4,519.6 335.8,527.7 336.1,514.3 336.5,531.4 336.8,528.9 337.2,516.8 337.5,515.5 337.9,502.4 338.2,506.7 338.5,489.7 338.9,495.9 339.2,533.5 339.6,511.8 339.9,535.1 340.3,500.5 340.6,533.5 341.0,521.6 341.3,517.1 341.7,507.0 342.0,530.4 342.4,513.4 342.7,526.4 343.1,529.8 343.4,506.3 343.8,502.3 344.1,518.2 344.5,505.8 344.8,553.0 345.1,535.0 345.5,538.9 345.8,512.2 346.2,518.2 346.5,512.6 346.9,517.5 347.2,515.3 347.6,531.6 347.9,516.0 348.3,521.4 348.6,528.2 349.0,538.1 349.3,529.3 349.7,495.0 350.0,504.6 350.4,539.0 350.7,512.7 351.1,505.4 351.4,527.9 351.7,520.1 352.1,516.1 352.4,493.1 352.8,525.9 353.1,531.2 353.5,510.8 353.8,526.2 354.2,498.9 354.5,517.8 354.9,524.4 355.2,510.1 355.6,511.4 355.9,542.4 356.3,505.6 356.6,522.8 357.0,522.6 357.3,485.6 357.7,523.8 358.0,496.5 358.4,521.5 358.7,532.0 359.0,528.5 359.4,520.2 359.7,513.9 360.1,502.0 360.4,528.8 360.8,542.7 361.1,503.9 361.5,519.7 361.8,533.5 362.2,526.1 362.5,528.8 362.9,530.7 363.2,534.0 363.6,496.2 363.9,513.8 364.3,540.4 364.6,536.0 365.0,517.7 365.3,530.2 365.6,509.2 366.0,525.2 366.3,514.0 366.7,508.6 367.0,499.9 367.4,523.5 367.7,525.5 368.1,521.9 368.4,532.0 368.8,505.3 369.1,523.0 369.5,504.5 369.8,509.3 370.2,517.3 370.5,500.5 370.9,511.9 371.2,524.1 371.6,529.0 371.9,531.9 372.2,521.3 372.6,503.8 372.9,519.1 373.3,545.7 373.6,524.8 374.0,523.0 374.3,513.4 374.7,507.2 375.0,532.0 375.4,503.7 375.7,521.6 376.1,525.6 376.4,534.2 376.8,521.8 377.1,543.0 377.5,516.5 377.8,521.1 378.2,527.3 378.5,516.5 378.9,518.5 379.2,513.4 379.5,530.5 379.9,539.1 380.2,491.2 380.6,523.4 380.9,504.4 381.3,525.3 381.6,509.9 382.0,523.1 382.3,537.5 382.7,510.8 383.0,539.9 383.4,518.0 383.7,513.9 384.1,504.9 384.4,522.9 384.8,542.0 385.1,527.9 385.5,508.2 385.8,513.9 386.1,517.2 386.5,524.8 386.8,517.4 387.2,535.5 387.5,532.1 387.9,527.4 388.2,510.2 388.6,497.4 388.9,541.3 389.3,511.9 389.6,519.1 390.0,543.0 390.3,508.6 390.7,510.4 391.0,538.2 391.4,535.7 391.7,524.3 392.1,520.1 392.4,534.6 392.7,517.7 393.1,536.2 393.4,541.0 393.8,517.9 394.1,534.7 394.5,517.1 394.8,505.8 395.2,533.7 395.5,548.3 395.9,510.3 396.2,517.3 396.6,511.5 396.9,509.7 397.3,520.6 397.6,523.3 398.0,518.0 398.3,509.6 398.7,514.5 399.0,543.0" fill="none" stroke="#0000ff" stroke-width="0.7" stroke-linejoin="bevel"/>
</g>
<rect x="466.90" y="461.20" width="347.45" height="98.85" fill="none" stroke="#303030" stroke-width="0.9"/>
<text x="467.01" y="572.85" text-anchor="middle" font-size="9.5" letter-spacing="0.22">−40</text>
<line x1="484.27" y1="560.05" x2="484.27" y2="558.75" stroke="#303030" stroke-width="0.9"/>
<line x1="484.27" y1="461.20" x2="484.27" y2="462.50" stroke="#303030" stroke-width="0.9"/>
<line x1="501.64" y1="560.05" x2="501.64" y2="558.75" stroke="#303030" stroke-width="0.9"/>
<line x1="501.64" y1="461.20" x2="501.64" y2="462.50" stroke="#303030" stroke-width="0.9"/>
<line x1="519.02" y1="560.05" x2="519.02" y2="558.75" stroke="#303030" stroke-width="0.9"/>
<line x1="519.02" y1="461.20" x2="519.02" y2="462.50" stroke="#303030" stroke-width="0.9"/>
<line x1="536.39" y1="560.05" x2="536.39" y2="557.65" stroke="#303030" stroke-width="0.9"/>
<line x1="536.39" y1="461.20" x2="536.39" y2="463.60" stroke="#303030" stroke-width="0.9"/>
<text x="536.50" y="572.85" text-anchor="middle" font-size="9.5" letter-spacing="0.22">−20</text>
<line x1="553.76" y1="560.05" x2="553.76" y2="558.75" stroke="#303030" stroke-width="0.9"/>
<line x1="553.76" y1="461.20" x2="553.76" y2="462.50" stroke="#303030" stroke-width="0.9"/>
<line x1="571.13" y1="560.05" x2="571.13" y2="558.75" stroke="#303030" stroke-width="0.9"/>
<line x1="571.13" y1="461.20" x2="571.13" y2="462.50" stroke="#303030" stroke-width="0.9"/>
<line x1="588.51" y1="560.05" x2="588.51" y2="558.75" stroke="#303030" stroke-width="0.9"/>
<line x1="588.51" y1="461.20" x2="588.51" y2="462.50" stroke="#303030" stroke-width="0.9"/>
<line x1="605.88" y1="560.05" x2="605.88" y2="557.65" stroke="#303030" stroke-width="0.9"/>
<line x1="605.88" y1="461.20" x2="605.88" y2="463.60" stroke="#303030" stroke-width="0.9"/>
<text x="605.99" y="572.85" text-anchor="middle" font-size="9.5" letter-spacing="0.22">0</text>
<line x1="623.25" y1="560.05" x2="623.25" y2="558.75" stroke="#303030" stroke-width="0.9"/>
<line x1="623.25" y1="461.20" x2="623.25" y2="462.50" stroke="#303030" stroke-width="0.9"/>
<line x1="640.62" y1="560.05" x2="640.62" y2="558.75" stroke="#303030" stroke-width="0.9"/>
<line x1="640.62" y1="461.20" x2="640.62" y2="462.50" stroke="#303030" stroke-width="0.9"/>
<line x1="658.00" y1="560.05" x2="658.00" y2="558.75" stroke="#303030" stroke-width="0.9"/>
<line x1="658.00" y1="461.20" x2="658.00" y2="462.50" stroke="#303030" stroke-width="0.9"/>
<line x1="675.37" y1="560.05" x2="675.37" y2="557.65" stroke="#303030" stroke-width="0.9"/>
<line x1="675.37" y1="461.20" x2="675.37" y2="463.60" stroke="#303030" stroke-width="0.9"/>
<text x="675.48" y="572.85" text-anchor="middle" font-size="9.5" letter-spacing="0.22">20</text>
<line x1="692.74" y1="560.05" x2="692.74" y2="558.75" stroke="#303030" stroke-width="0.9"/>
<line x1="692.74" y1="461.20" x2="692.74" y2="462.50" stroke="#303030" stroke-width="0.9"/>
<line x1="710.12" y1="560.05" x2="710.12" y2="558.75" stroke="#303030" stroke-width="0.9"/>
<line x1="710.12" y1="461.20" x2="710.12" y2="462.50" stroke="#303030" stroke-width="0.9"/>
<line x1="727.49" y1="560.05" x2="727.49" y2="558.75" stroke="#303030" stroke-width="0.9"/>
<line x1="727.49" y1="461.20" x2="727.49" y2="462.50" stroke="#303030" stroke-width="0.9"/>
<line x1="744.86" y1="560.05" x2="744.86" y2="557.65" stroke="#303030" stroke-width="0.9"/>
<line x1="744.86" y1="461.20" x2="744.86" y2="463.60" stroke="#303030" stroke-width="0.9"/>
<text x="744.97" y="572.85" text-anchor="middle" font-size="9.5" letter-spacing="0.22">40</text>
<line x1="762.23" y1="560.05" x2="762.23" y2="558.75" stroke="#303030" stroke-width="0.9"/>
<line x1="762.23" y1="461.20" x2="762.23" y2="462.50" stroke="#303030" stroke-width="0.9"/>
<line x1="779.61" y1="560.05" x2="779.61" y2="558.75" stroke="#303030" stroke-width="0.9"/>
<line x1="779.61" y1="461.20" x2="779.61" y2="462.50" stroke="#303030" stroke-width="0.9"/>
<line x1="796.98" y1="560.05" x2="796.98" y2="558.75" stroke="#303030" stroke-width="0.9"/>
<line x1="796.98" y1="461.20" x2="796.98" y2="462.50" stroke="#303030" stroke-width="0.9"/>
<text x="814.46" y="572.85" text-anchor="middle" font-size="9.5" letter-spacing="0.22">60</text>
<text x="464.32" y="560.45" text-anchor="end" font-size="9.5" letter-spacing="0.22">0.15</text>
<line x1="466.90" y1="555.11" x2="470.70" y2="555.11" stroke="#303030" stroke-width="0.9"/>
<line x1="814.35" y1="555.11" x2="810.55" y2="555.11" stroke="#303030" stroke-width="0.9"/>
<line x1="466.90" y1="550.16" x2="470.70" y2="550.16" stroke="#303030" stroke-width="0.9"/>
<line x1="814.35" y1="550.16" x2="810.55" y2="550.16" stroke="#303030" stroke-width="0.9"/>
<line x1="466.90" y1="545.22" x2="470.70" y2="545.22" stroke="#303030" stroke-width="0.9"/>
<line x1="814.35" y1="545.22" x2="810.55" y2="545.22" stroke="#303030" stroke-width="0.9"/>
<line x1="466.90" y1="540.28" x2="470.70" y2="540.28" stroke="#303030" stroke-width="0.9"/>
<line x1="814.35" y1="540.28" x2="810.55" y2="540.28" stroke="#303030" stroke-width="0.9"/>
<line x1="466.90" y1="535.34" x2="474.00" y2="535.34" stroke="#303030" stroke-width="0.9"/>
<line x1="814.35" y1="535.34" x2="807.25" y2="535.34" stroke="#303030" stroke-width="0.9"/>
<text x="464.32" y="538.84" text-anchor="end" font-size="9.5" letter-spacing="0.22">0.20</text>
<line x1="466.90" y1="530.39" x2="470.70" y2="530.39" stroke="#303030" stroke-width="0.9"/>
<line x1="814.35" y1="530.39" x2="810.55" y2="530.39" stroke="#303030" stroke-width="0.9"/>
<line x1="466.90" y1="525.45" x2="470.70" y2="525.45" stroke="#303030" stroke-width="0.9"/>
<line x1="814.35" y1="525.45" x2="810.55" y2="525.45" stroke="#303030" stroke-width="0.9"/>
<line x1="466.90" y1="520.51" x2="470.70" y2="520.51" stroke="#303030" stroke-width="0.9"/>
<line x1="814.35" y1="520.51" x2="810.55" y2="520.51" stroke="#303030" stroke-width="0.9"/>
<line x1="466.90" y1="515.57" x2="470.70" y2="515.57" stroke="#303030" stroke-width="0.9"/>
<line x1="814.35" y1="515.57" x2="810.55" y2="515.57" stroke="#303030" stroke-width="0.9"/>
<line x1="466.90" y1="510.62" x2="474.00" y2="510.62" stroke="#303030" stroke-width="0.9"/>
<line x1="814.35" y1="510.62" x2="807.25" y2="510.62" stroke="#303030" stroke-width="0.9"/>
<text x="464.32" y="514.12" text-anchor="end" font-size="9.5" letter-spacing="0.22">0.25</text>
<line x1="466.90" y1="505.68" x2="470.70" y2="505.68" stroke="#303030" stroke-width="0.9"/>
<line x1="814.35" y1="505.68" x2="810.55" y2="505.68" stroke="#303030" stroke-width="0.9"/>
<line x1="466.90" y1="500.74" x2="470.70" y2="500.74" stroke="#303030" stroke-width="0.9"/>
<line x1="814.35" y1="500.74" x2="810.55" y2="500.74" stroke="#303030" stroke-width="0.9"/>
<line x1="466.90" y1="495.80" x2="470.70" y2="495.80" stroke="#303030" stroke-width="0.9"/>
<line x1="814.35" y1="495.80" x2="810.55" y2="495.80" stroke="#303030" stroke-width="0.9"/>
<line x1="466.90" y1="490.86" x2="470.70" y2="490.86" stroke="#303030" stroke-width="0.9"/>
<line x1="814.35" y1="490.86" x2="810.55" y2="490.86" stroke="#303030" stroke-width="0.9"/>
<line x1="466.90" y1="485.91" x2="474.00" y2="485.91" stroke="#303030" stroke-width="0.9"/>
<line x1="814.35" y1="485.91" x2="807.25" y2="485.91" stroke="#303030" stroke-width="0.9"/>
<text x="464.32" y="489.41" text-anchor="end" font-size="9.5" letter-spacing="0.22">0.30</text>
<line x1="466.90" y1="480.97" x2="470.70" y2="480.97" stroke="#303030" stroke-width="0.9"/>
<line x1="814.35" y1="480.97" x2="810.55" y2="480.97" stroke="#303030" stroke-width="0.9"/>
<line x1="466.90" y1="476.03" x2="470.70" y2="476.03" stroke="#303030" stroke-width="0.9"/>
<line x1="814.35" y1="476.03" x2="810.55" y2="476.03" stroke="#303030" stroke-width="0.9"/>
<line x1="466.90" y1="471.08" x2="470.70" y2="471.08" stroke="#303030" stroke-width="0.9"/>
<line x1="814.35" y1="471.08" x2="810.55" y2="471.08" stroke="#303030" stroke-width="0.9"/>
<line x1="466.90" y1="466.14" x2="470.70" y2="466.14" stroke="#303030" stroke-width="0.9"/>
<line x1="814.35" y1="466.14" x2="810.55" y2="466.14" stroke="#303030" stroke-width="0.9"/>
<text x="464.32" y="467.30" text-anchor="end" font-size="9.5" letter-spacing="0.22">0.35</text>
<text x="640.65" y="583.95" text-anchor="middle" font-size="9.5" letter-spacing="0.05" word-spacing="0.9">Time Delay (sec)</text>
<text x="438.20" y="510.62" text-anchor="middle" font-size="9.5" letter-spacing="0.15" transform="rotate(-90 438.20 510.62)">CCF</text>
<g clip-path="url(#cr3)">
<line x1="466.90" y1="535.09" x2="466.90" y2="539.42" stroke="#222222" stroke-width="0.85"/>
<line x1="462.70" y1="535.09" x2="471.10" y2="535.09" stroke="#222222" stroke-width="0.85"/>
<line x1="462.70" y1="539.42" x2="471.10" y2="539.42" stroke="#222222" stroke-width="0.85"/>
<line x1="470.37" y1="534.88" x2="470.37" y2="537.80" stroke="#222222" stroke-width="0.85"/>
<line x1="466.17" y1="534.88" x2="474.57" y2="534.88" stroke="#222222" stroke-width="0.85"/>
<line x1="466.17" y1="537.80" x2="474.57" y2="537.80" stroke="#222222" stroke-width="0.85"/>
<line x1="473.85" y1="550.02" x2="473.85" y2="555.49" stroke="#222222" stroke-width="0.85"/>
<line x1="469.65" y1="550.02" x2="478.05" y2="550.02" stroke="#222222" stroke-width="0.85"/>
<line x1="469.65" y1="555.49" x2="478.05" y2="555.49" stroke="#222222" stroke-width="0.85"/>
<line x1="477.32" y1="528.32" x2="477.32" y2="532.69" stroke="#222222" stroke-width="0.85"/>
<line x1="473.12" y1="528.32" x2="481.52" y2="528.32" stroke="#222222" stroke-width="0.85"/>
<line x1="473.12" y1="532.69" x2="481.52" y2="532.69" stroke="#222222" stroke-width="0.85"/>
<line x1="480.80" y1="527.77" x2="480.80" y2="532.14" stroke="#222222" stroke-width="0.85"/>
<line x1="476.60" y1="527.77" x2="485.00" y2="527.77" stroke="#222222" stroke-width="0.85"/>
<line x1="476.60" y1="532.14" x2="485.00" y2="532.14" stroke="#222222" stroke-width="0.85"/>
<line x1="484.27" y1="544.55" x2="484.27" y2="551.11" stroke="#222222" stroke-width="0.85"/>
<line x1="480.07" y1="544.55" x2="488.47" y2="544.55" stroke="#222222" stroke-width="0.85"/>
<line x1="480.07" y1="551.11" x2="488.47" y2="551.11" stroke="#222222" stroke-width="0.85"/>
<line x1="487.75" y1="534.16" x2="487.75" y2="539.62" stroke="#222222" stroke-width="0.85"/>
<line x1="483.55" y1="534.16" x2="491.95" y2="534.16" stroke="#222222" stroke-width="0.85"/>
<line x1="483.55" y1="539.62" x2="491.95" y2="539.62" stroke="#222222" stroke-width="0.85"/>
<line x1="491.22" y1="520.48" x2="491.22" y2="524.12" stroke="#222222" stroke-width="0.85"/>
<line x1="487.02" y1="520.48" x2="495.42" y2="520.48" stroke="#222222" stroke-width="0.85"/>
<line x1="487.02" y1="524.12" x2="495.42" y2="524.12" stroke="#222222" stroke-width="0.85"/>
<line x1="494.70" y1="552.57" x2="494.70" y2="555.49" stroke="#222222" stroke-width="0.85"/>
<line x1="490.50" y1="552.57" x2="498.90" y2="552.57" stroke="#222222" stroke-width="0.85"/>
<line x1="490.50" y1="555.49" x2="498.90" y2="555.49" stroke="#222222" stroke-width="0.85"/>
<line x1="498.17" y1="525.58" x2="498.17" y2="529.95" stroke="#222222" stroke-width="0.85"/>
<line x1="493.97" y1="525.58" x2="502.37" y2="525.58" stroke="#222222" stroke-width="0.85"/>
<line x1="493.97" y1="529.95" x2="502.37" y2="529.95" stroke="#222222" stroke-width="0.85"/>
<line x1="501.64" y1="488.56" x2="501.64" y2="491.84" stroke="#222222" stroke-width="0.85"/>
<line x1="497.44" y1="488.56" x2="505.84" y2="488.56" stroke="#222222" stroke-width="0.85"/>
<line x1="497.44" y1="491.84" x2="505.84" y2="491.84" stroke="#222222" stroke-width="0.85"/>
<line x1="505.12" y1="540.72" x2="505.12" y2="545.46" stroke="#222222" stroke-width="0.85"/>
<line x1="500.92" y1="540.72" x2="509.32" y2="540.72" stroke="#222222" stroke-width="0.85"/>
<line x1="500.92" y1="545.46" x2="509.32" y2="545.46" stroke="#222222" stroke-width="0.85"/>
<line x1="508.59" y1="511.18" x2="508.59" y2="516.64" stroke="#222222" stroke-width="0.85"/>
<line x1="504.39" y1="511.18" x2="512.79" y2="511.18" stroke="#222222" stroke-width="0.85"/>
<line x1="504.39" y1="516.64" x2="512.79" y2="516.64" stroke="#222222" stroke-width="0.85"/>
<line x1="512.07" y1="526.31" x2="512.07" y2="531.78" stroke="#222222" stroke-width="0.85"/>
<line x1="507.87" y1="526.31" x2="516.27" y2="526.31" stroke="#222222" stroke-width="0.85"/>
<line x1="507.87" y1="531.78" x2="516.27" y2="531.78" stroke="#222222" stroke-width="0.85"/>
<line x1="515.54" y1="534.88" x2="515.54" y2="538.53" stroke="#222222" stroke-width="0.85"/>
<line x1="511.34" y1="534.88" x2="519.74" y2="534.88" stroke="#222222" stroke-width="0.85"/>
<line x1="511.34" y1="538.53" x2="519.74" y2="538.53" stroke="#222222" stroke-width="0.85"/>
<line x1="519.02" y1="514.46" x2="519.02" y2="518.83" stroke="#222222" stroke-width="0.85"/>
<line x1="514.82" y1="514.46" x2="523.22" y2="514.46" stroke="#222222" stroke-width="0.85"/>
<line x1="514.82" y1="518.83" x2="523.22" y2="518.83" stroke="#222222" stroke-width="0.85"/>
<line x1="522.49" y1="519.20" x2="522.49" y2="524.30" stroke="#222222" stroke-width="0.85"/>
<line x1="518.29" y1="519.20" x2="526.69" y2="519.20" stroke="#222222" stroke-width="0.85"/>
<line x1="518.29" y1="524.30" x2="526.69" y2="524.30" stroke="#222222" stroke-width="0.85"/>
<line x1="525.97" y1="533.79" x2="525.97" y2="538.16" stroke="#222222" stroke-width="0.85"/>
<line x1="521.77" y1="533.79" x2="530.17" y2="533.79" stroke="#222222" stroke-width="0.85"/>
<line x1="521.77" y1="538.16" x2="530.17" y2="538.16" stroke="#222222" stroke-width="0.85"/>
<line x1="529.44" y1="535.43" x2="529.44" y2="539.07" stroke="#222222" stroke-width="0.85"/>
<line x1="525.24" y1="535.43" x2="533.64" y2="535.43" stroke="#222222" stroke-width="0.85"/>
<line x1="525.24" y1="539.07" x2="533.64" y2="539.07" stroke="#222222" stroke-width="0.85"/>
<line x1="532.92" y1="529.96" x2="532.92" y2="535.43" stroke="#222222" stroke-width="0.85"/>
<line x1="528.72" y1="529.96" x2="537.12" y2="529.96" stroke="#222222" stroke-width="0.85"/>
<line x1="528.72" y1="535.43" x2="537.12" y2="535.43" stroke="#222222" stroke-width="0.85"/>
<line x1="536.39" y1="525.95" x2="536.39" y2="531.41" stroke="#222222" stroke-width="0.85"/>
<line x1="532.19" y1="525.95" x2="540.59" y2="525.95" stroke="#222222" stroke-width="0.85"/>
<line x1="532.19" y1="531.41" x2="540.59" y2="531.41" stroke="#222222" stroke-width="0.85"/>
<line x1="539.86" y1="522.66" x2="539.86" y2="526.31" stroke="#222222" stroke-width="0.85"/>
<line x1="535.66" y1="522.66" x2="544.06" y2="522.66" stroke="#222222" stroke-width="0.85"/>
<line x1="535.66" y1="526.31" x2="544.06" y2="526.31" stroke="#222222" stroke-width="0.85"/>
<line x1="543.34" y1="526.86" x2="543.34" y2="532.32" stroke="#222222" stroke-width="0.85"/>
<line x1="539.14" y1="526.86" x2="547.54" y2="526.86" stroke="#222222" stroke-width="0.85"/>
<line x1="539.14" y1="532.32" x2="547.54" y2="532.32" stroke="#222222" stroke-width="0.85"/>
<line x1="546.81" y1="539.44" x2="546.81" y2="543.09" stroke="#222222" stroke-width="0.85"/>
<line x1="542.61" y1="539.44" x2="551.01" y2="539.44" stroke="#222222" stroke-width="0.85"/>
<line x1="542.61" y1="543.09" x2="551.01" y2="543.09" stroke="#222222" stroke-width="0.85"/>
<line x1="550.29" y1="503.52" x2="550.29" y2="510.07" stroke="#222222" stroke-width="0.85"/>
<line x1="546.09" y1="503.52" x2="554.49" y2="503.52" stroke="#222222" stroke-width="0.85"/>
<line x1="546.09" y1="510.07" x2="554.49" y2="510.07" stroke="#222222" stroke-width="0.85"/>
<line x1="553.76" y1="511.90" x2="553.76" y2="516.28" stroke="#222222" stroke-width="0.85"/>
<line x1="549.56" y1="511.90" x2="557.96" y2="511.90" stroke="#222222" stroke-width="0.85"/>
<line x1="549.56" y1="516.28" x2="557.96" y2="516.28" stroke="#222222" stroke-width="0.85"/>
<line x1="557.24" y1="529.41" x2="557.24" y2="532.33" stroke="#222222" stroke-width="0.85"/>
<line x1="553.04" y1="529.41" x2="561.44" y2="529.41" stroke="#222222" stroke-width="0.85"/>
<line x1="553.04" y1="532.33" x2="561.44" y2="532.33" stroke="#222222" stroke-width="0.85"/>
<line x1="560.71" y1="519.38" x2="560.71" y2="524.12" stroke="#222222" stroke-width="0.85"/>
<line x1="556.51" y1="519.38" x2="564.91" y2="519.38" stroke="#222222" stroke-width="0.85"/>
<line x1="556.51" y1="524.12" x2="564.91" y2="524.12" stroke="#222222" stroke-width="0.85"/>
<line x1="564.19" y1="506.43" x2="564.19" y2="510.80" stroke="#222222" stroke-width="0.85"/>
<line x1="559.99" y1="506.43" x2="568.39" y2="506.43" stroke="#222222" stroke-width="0.85"/>
<line x1="559.99" y1="510.80" x2="568.39" y2="510.80" stroke="#222222" stroke-width="0.85"/>
<line x1="567.66" y1="491.66" x2="567.66" y2="494.57" stroke="#222222" stroke-width="0.85"/>
<line x1="563.46" y1="491.66" x2="571.86" y2="491.66" stroke="#222222" stroke-width="0.85"/>
<line x1="563.46" y1="494.57" x2="571.86" y2="494.57" stroke="#222222" stroke-width="0.85"/>
<line x1="571.13" y1="492.57" x2="571.13" y2="498.04" stroke="#222222" stroke-width="0.85"/>
<line x1="566.93" y1="492.57" x2="575.34" y2="492.57" stroke="#222222" stroke-width="0.85"/>
<line x1="566.93" y1="498.04" x2="575.34" y2="498.04" stroke="#222222" stroke-width="0.85"/>
<line x1="574.61" y1="515.00" x2="574.61" y2="519.38" stroke="#222222" stroke-width="0.85"/>
<line x1="570.41" y1="515.00" x2="578.81" y2="515.00" stroke="#222222" stroke-width="0.85"/>
<line x1="570.41" y1="519.38" x2="578.81" y2="519.38" stroke="#222222" stroke-width="0.85"/>
<line x1="578.08" y1="496.77" x2="578.08" y2="502.23" stroke="#222222" stroke-width="0.85"/>
<line x1="573.88" y1="496.77" x2="582.28" y2="496.77" stroke="#222222" stroke-width="0.85"/>
<line x1="573.88" y1="502.23" x2="582.28" y2="502.23" stroke="#222222" stroke-width="0.85"/>
<line x1="581.56" y1="495.40" x2="581.56" y2="498.86" stroke="#222222" stroke-width="0.85"/>
<line x1="577.36" y1="495.40" x2="585.76" y2="495.40" stroke="#222222" stroke-width="0.85"/>
<line x1="577.36" y1="498.86" x2="585.76" y2="498.86" stroke="#222222" stroke-width="0.85"/>
<line x1="585.03" y1="532.85" x2="585.03" y2="536.91" stroke="#222222" stroke-width="0.85"/>
<line x1="580.83" y1="532.85" x2="589.23" y2="532.85" stroke="#222222" stroke-width="0.85"/>
<line x1="580.83" y1="536.91" x2="589.23" y2="536.91" stroke="#222222" stroke-width="0.85"/>
<line x1="588.51" y1="515.04" x2="588.51" y2="519.34" stroke="#222222" stroke-width="0.85"/>
<line x1="584.31" y1="515.04" x2="592.71" y2="515.04" stroke="#222222" stroke-width="0.85"/>
<line x1="584.31" y1="519.34" x2="592.71" y2="519.34" stroke="#222222" stroke-width="0.85"/>
<line x1="591.98" y1="501.10" x2="591.98" y2="504.83" stroke="#222222" stroke-width="0.85"/>
<line x1="587.78" y1="501.10" x2="596.18" y2="501.10" stroke="#222222" stroke-width="0.85"/>
<line x1="587.78" y1="504.83" x2="596.18" y2="504.83" stroke="#222222" stroke-width="0.85"/>
<line x1="595.46" y1="515.93" x2="595.46" y2="521.37" stroke="#222222" stroke-width="0.85"/>
<line x1="591.26" y1="515.93" x2="599.66" y2="515.93" stroke="#222222" stroke-width="0.85"/>
<line x1="591.26" y1="521.37" x2="599.66" y2="521.37" stroke="#222222" stroke-width="0.85"/>
<line x1="598.93" y1="491.67" x2="598.93" y2="496.39" stroke="#222222" stroke-width="0.85"/>
<line x1="594.73" y1="491.67" x2="603.13" y2="491.67" stroke="#222222" stroke-width="0.85"/>
<line x1="594.73" y1="496.39" x2="603.13" y2="496.39" stroke="#222222" stroke-width="0.85"/>
<line x1="602.41" y1="529.37" x2="602.41" y2="532.37" stroke="#222222" stroke-width="0.85"/>
<line x1="598.21" y1="529.37" x2="606.61" y2="529.37" stroke="#222222" stroke-width="0.85"/>
<line x1="598.21" y1="532.37" x2="606.61" y2="532.37" stroke="#222222" stroke-width="0.85"/>
<line x1="605.88" y1="517.21" x2="605.88" y2="522.65" stroke="#222222" stroke-width="0.85"/>
<line x1="601.68" y1="517.21" x2="610.08" y2="517.21" stroke="#222222" stroke-width="0.85"/>
<line x1="601.68" y1="522.65" x2="610.08" y2="522.65" stroke="#222222" stroke-width="0.85"/>
<line x1="609.35" y1="501.54" x2="609.35" y2="504.76" stroke="#222222" stroke-width="0.85"/>
<line x1="605.15" y1="501.54" x2="613.55" y2="501.54" stroke="#222222" stroke-width="0.85"/>
<line x1="605.15" y1="504.76" x2="613.55" y2="504.76" stroke="#222222" stroke-width="0.85"/>
<line x1="612.83" y1="525.52" x2="612.83" y2="530.74" stroke="#222222" stroke-width="0.85"/>
<line x1="608.63" y1="525.52" x2="617.03" y2="525.52" stroke="#222222" stroke-width="0.85"/>
<line x1="608.63" y1="530.74" x2="617.03" y2="530.74" stroke="#222222" stroke-width="0.85"/>
<line x1="616.30" y1="489.61" x2="616.30" y2="494.43" stroke="#222222" stroke-width="0.85"/>
<line x1="612.10" y1="489.61" x2="620.50" y2="489.61" stroke="#222222" stroke-width="0.85"/>
<line x1="612.10" y1="494.43" x2="620.50" y2="494.43" stroke="#222222" stroke-width="0.85"/>
<line x1="619.78" y1="508.37" x2="619.78" y2="513.25" stroke="#222222" stroke-width="0.85"/>
<line x1="615.58" y1="508.37" x2="623.98" y2="508.37" stroke="#222222" stroke-width="0.85"/>
<line x1="615.58" y1="513.25" x2="623.98" y2="513.25" stroke="#222222" stroke-width="0.85"/>
<line x1="623.25" y1="527.64" x2="623.25" y2="533.37" stroke="#222222" stroke-width="0.85"/>
<line x1="619.05" y1="527.64" x2="627.45" y2="527.64" stroke="#222222" stroke-width="0.85"/>
<line x1="619.05" y1="533.37" x2="627.45" y2="533.37" stroke="#222222" stroke-width="0.85"/>
<line x1="626.73" y1="485.65" x2="626.73" y2="490.37" stroke="#222222" stroke-width="0.85"/>
<line x1="622.53" y1="485.65" x2="630.93" y2="485.65" stroke="#222222" stroke-width="0.85"/>
<line x1="622.53" y1="490.37" x2="630.93" y2="490.37" stroke="#222222" stroke-width="0.85"/>
<line x1="630.20" y1="520.16" x2="630.20" y2="523.34" stroke="#222222" stroke-width="0.85"/>
<line x1="626.00" y1="520.16" x2="634.40" y2="520.16" stroke="#222222" stroke-width="0.85"/>
<line x1="626.00" y1="523.34" x2="634.40" y2="523.34" stroke="#222222" stroke-width="0.85"/>
<line x1="633.68" y1="529.12" x2="633.68" y2="534.44" stroke="#222222" stroke-width="0.85"/>
<line x1="629.48" y1="529.12" x2="637.88" y2="529.12" stroke="#222222" stroke-width="0.85"/>
<line x1="629.48" y1="534.44" x2="637.88" y2="534.44" stroke="#222222" stroke-width="0.85"/>
<line x1="637.15" y1="499.36" x2="637.15" y2="504.02" stroke="#222222" stroke-width="0.85"/>
<line x1="632.95" y1="499.36" x2="641.35" y2="499.36" stroke="#222222" stroke-width="0.85"/>
<line x1="632.95" y1="504.02" x2="641.35" y2="504.02" stroke="#222222" stroke-width="0.85"/>
<line x1="640.62" y1="503.68" x2="640.62" y2="507.72" stroke="#222222" stroke-width="0.85"/>
<line x1="636.42" y1="503.68" x2="644.83" y2="503.68" stroke="#222222" stroke-width="0.85"/>
<line x1="636.42" y1="507.72" x2="644.83" y2="507.72" stroke="#222222" stroke-width="0.85"/>
<line x1="644.10" y1="483.96" x2="644.10" y2="488.42" stroke="#222222" stroke-width="0.85"/>
<line x1="639.90" y1="483.96" x2="648.30" y2="483.96" stroke="#222222" stroke-width="0.85"/>
<line x1="639.90" y1="488.42" x2="648.30" y2="488.42" stroke="#222222" stroke-width="0.85"/>
<line x1="647.57" y1="507.16" x2="647.57" y2="510.80" stroke="#222222" stroke-width="0.85"/>
<line x1="643.37" y1="507.16" x2="651.77" y2="507.16" stroke="#222222" stroke-width="0.85"/>
<line x1="643.37" y1="510.80" x2="651.77" y2="510.80" stroke="#222222" stroke-width="0.85"/>
<line x1="651.05" y1="489.00" x2="651.05" y2="492.49" stroke="#222222" stroke-width="0.85"/>
<line x1="646.85" y1="489.00" x2="655.25" y2="489.00" stroke="#222222" stroke-width="0.85"/>
<line x1="646.85" y1="492.49" x2="655.25" y2="492.49" stroke="#222222" stroke-width="0.85"/>
<line x1="654.52" y1="503.47" x2="654.52" y2="507.94" stroke="#222222" stroke-width="0.85"/>
<line x1="650.32" y1="503.47" x2="658.72" y2="503.47" stroke="#222222" stroke-width="0.85"/>
<line x1="650.32" y1="507.94" x2="658.72" y2="507.94" stroke="#222222" stroke-width="0.85"/>
<line x1="658.00" y1="528.82" x2="658.00" y2="532.92" stroke="#222222" stroke-width="0.85"/>
<line x1="653.80" y1="528.82" x2="662.20" y2="528.82" stroke="#222222" stroke-width="0.85"/>
<line x1="653.80" y1="532.92" x2="662.20" y2="532.92" stroke="#222222" stroke-width="0.85"/>
<line x1="661.47" y1="498.88" x2="661.47" y2="504.50" stroke="#222222" stroke-width="0.85"/>
<line x1="657.27" y1="498.88" x2="665.67" y2="498.88" stroke="#222222" stroke-width="0.85"/>
<line x1="657.27" y1="504.50" x2="665.67" y2="504.50" stroke="#222222" stroke-width="0.85"/>
<line x1="664.95" y1="525.89" x2="664.95" y2="529.28" stroke="#222222" stroke-width="0.85"/>
<line x1="660.75" y1="525.89" x2="669.15" y2="525.89" stroke="#222222" stroke-width="0.85"/>
<line x1="660.75" y1="529.28" x2="669.15" y2="529.28" stroke="#222222" stroke-width="0.85"/>
<line x1="668.42" y1="538.10" x2="668.42" y2="543.70" stroke="#222222" stroke-width="0.85"/>
<line x1="664.22" y1="538.10" x2="672.62" y2="538.10" stroke="#222222" stroke-width="0.85"/>
<line x1="664.22" y1="543.70" x2="672.62" y2="543.70" stroke="#222222" stroke-width="0.85"/>
<line x1="671.90" y1="503.58" x2="671.90" y2="507.09" stroke="#222222" stroke-width="0.85"/>
<line x1="667.70" y1="503.58" x2="676.10" y2="503.58" stroke="#222222" stroke-width="0.85"/>
<line x1="667.70" y1="507.09" x2="676.10" y2="507.09" stroke="#222222" stroke-width="0.85"/>
<line x1="675.37" y1="505.69" x2="675.37" y2="510.45" stroke="#222222" stroke-width="0.85"/>
<line x1="671.17" y1="505.69" x2="679.57" y2="505.69" stroke="#222222" stroke-width="0.85"/>
<line x1="671.17" y1="510.45" x2="679.57" y2="510.45" stroke="#222222" stroke-width="0.85"/>
<line x1="678.84" y1="506.41" x2="678.84" y2="509.73" stroke="#222222" stroke-width="0.85"/>
<line x1="674.64" y1="506.41" x2="683.04" y2="506.41" stroke="#222222" stroke-width="0.85"/>
<line x1="674.64" y1="509.73" x2="683.04" y2="509.73" stroke="#222222" stroke-width="0.85"/>
<line x1="682.32" y1="509.12" x2="682.32" y2="514.31" stroke="#222222" stroke-width="0.85"/>
<line x1="678.12" y1="509.12" x2="686.52" y2="509.12" stroke="#222222" stroke-width="0.85"/>
<line x1="678.12" y1="514.31" x2="686.52" y2="514.31" stroke="#222222" stroke-width="0.85"/>
<line x1="685.79" y1="523.51" x2="685.79" y2="526.55" stroke="#222222" stroke-width="0.85"/>
<line x1="681.59" y1="523.51" x2="689.99" y2="523.51" stroke="#222222" stroke-width="0.85"/>
<line x1="681.59" y1="526.55" x2="689.99" y2="526.55" stroke="#222222" stroke-width="0.85"/>
<line x1="689.27" y1="495.19" x2="689.27" y2="499.07" stroke="#222222" stroke-width="0.85"/>
<line x1="685.07" y1="495.19" x2="693.47" y2="495.19" stroke="#222222" stroke-width="0.85"/>
<line x1="685.07" y1="499.07" x2="693.47" y2="499.07" stroke="#222222" stroke-width="0.85"/>
<line x1="692.74" y1="540.71" x2="692.74" y2="546.56" stroke="#222222" stroke-width="0.85"/>
<line x1="688.54" y1="540.71" x2="696.94" y2="540.71" stroke="#222222" stroke-width="0.85"/>
<line x1="688.54" y1="546.56" x2="696.94" y2="546.56" stroke="#222222" stroke-width="0.85"/>
<line x1="696.22" y1="503.05" x2="696.22" y2="506.89" stroke="#222222" stroke-width="0.85"/>
<line x1="692.02" y1="503.05" x2="700.42" y2="503.05" stroke="#222222" stroke-width="0.85"/>
<line x1="692.02" y1="506.89" x2="700.42" y2="506.89" stroke="#222222" stroke-width="0.85"/>
<line x1="699.69" y1="512.28" x2="699.69" y2="515.90" stroke="#222222" stroke-width="0.85"/>
<line x1="695.49" y1="512.28" x2="703.89" y2="512.28" stroke="#222222" stroke-width="0.85"/>
<line x1="695.49" y1="515.90" x2="703.89" y2="515.90" stroke="#222222" stroke-width="0.85"/>
<line x1="703.17" y1="534.84" x2="703.17" y2="537.84" stroke="#222222" stroke-width="0.85"/>
<line x1="698.97" y1="534.84" x2="707.37" y2="534.84" stroke="#222222" stroke-width="0.85"/>
<line x1="698.97" y1="537.84" x2="707.37" y2="537.84" stroke="#222222" stroke-width="0.85"/>
<line x1="706.64" y1="522.97" x2="706.64" y2="526.00" stroke="#222222" stroke-width="0.85"/>
<line x1="702.44" y1="522.97" x2="710.84" y2="522.97" stroke="#222222" stroke-width="0.85"/>
<line x1="702.44" y1="526.00" x2="710.84" y2="526.00" stroke="#222222" stroke-width="0.85"/>
<line x1="710.12" y1="511.20" x2="710.12" y2="516.98" stroke="#222222" stroke-width="0.85"/>
<line x1="705.91" y1="511.20" x2="714.32" y2="511.20" stroke="#222222" stroke-width="0.85"/>
<line x1="705.91" y1="516.98" x2="714.32" y2="516.98" stroke="#222222" stroke-width="0.85"/>
<line x1="713.59" y1="503.19" x2="713.59" y2="509.31" stroke="#222222" stroke-width="0.85"/>
<line x1="709.39" y1="503.19" x2="717.79" y2="503.19" stroke="#222222" stroke-width="0.85"/>
<line x1="709.39" y1="509.31" x2="717.79" y2="509.31" stroke="#222222" stroke-width="0.85"/>
<line x1="717.06" y1="523.51" x2="717.06" y2="527.29" stroke="#222222" stroke-width="0.85"/>
<line x1="712.86" y1="523.51" x2="721.26" y2="523.51" stroke="#222222" stroke-width="0.85"/>
<line x1="712.86" y1="527.29" x2="721.26" y2="527.29" stroke="#222222" stroke-width="0.85"/>
<line x1="720.54" y1="517.83" x2="720.54" y2="523.84" stroke="#222222" stroke-width="0.85"/>
<line x1="716.34" y1="517.83" x2="724.74" y2="517.83" stroke="#222222" stroke-width="0.85"/>
<line x1="716.34" y1="523.84" x2="724.74" y2="523.84" stroke="#222222" stroke-width="0.85"/>
<line x1="724.01" y1="511.47" x2="724.01" y2="514.52" stroke="#222222" stroke-width="0.85"/>
<line x1="719.81" y1="511.47" x2="728.21" y2="511.47" stroke="#222222" stroke-width="0.85"/>
<line x1="719.81" y1="514.52" x2="728.21" y2="514.52" stroke="#222222" stroke-width="0.85"/>
<line x1="727.49" y1="526.75" x2="727.49" y2="530.61" stroke="#222222" stroke-width="0.85"/>
<line x1="723.29" y1="526.75" x2="731.69" y2="526.75" stroke="#222222" stroke-width="0.85"/>
<line x1="723.29" y1="530.61" x2="731.69" y2="530.61" stroke="#222222" stroke-width="0.85"/>
<line x1="730.96" y1="515.53" x2="730.96" y2="520.67" stroke="#222222" stroke-width="0.85"/>
<line x1="726.76" y1="515.53" x2="735.16" y2="515.53" stroke="#222222" stroke-width="0.85"/>
<line x1="726.76" y1="520.67" x2="735.16" y2="520.67" stroke="#222222" stroke-width="0.85"/>
<line x1="734.44" y1="507.06" x2="734.44" y2="512.00" stroke="#222222" stroke-width="0.85"/>
<line x1="730.24" y1="507.06" x2="738.64" y2="507.06" stroke="#222222" stroke-width="0.85"/>
<line x1="730.24" y1="512.00" x2="738.64" y2="512.00" stroke="#222222" stroke-width="0.85"/>
<line x1="737.91" y1="522.40" x2="737.91" y2="527.67" stroke="#222222" stroke-width="0.85"/>
<line x1="733.71" y1="522.40" x2="742.11" y2="522.40" stroke="#222222" stroke-width="0.85"/>
<line x1="733.71" y1="527.67" x2="742.11" y2="527.67" stroke="#222222" stroke-width="0.85"/>
<line x1="741.39" y1="527.57" x2="741.39" y2="532.35" stroke="#222222" stroke-width="0.85"/>
<line x1="737.19" y1="527.57" x2="745.59" y2="527.57" stroke="#222222" stroke-width="0.85"/>
<line x1="737.19" y1="532.35" x2="745.59" y2="532.35" stroke="#222222" stroke-width="0.85"/>
<line x1="744.86" y1="512.95" x2="744.86" y2="518.88" stroke="#222222" stroke-width="0.85"/>
<line x1="740.66" y1="512.95" x2="749.06" y2="512.95" stroke="#222222" stroke-width="0.85"/>
<line x1="740.66" y1="518.88" x2="749.06" y2="518.88" stroke="#222222" stroke-width="0.85"/>
<line x1="748.33" y1="524.39" x2="748.33" y2="528.96" stroke="#222222" stroke-width="0.85"/>
<line x1="744.13" y1="524.39" x2="752.53" y2="524.39" stroke="#222222" stroke-width="0.85"/>
<line x1="744.13" y1="528.96" x2="752.53" y2="528.96" stroke="#222222" stroke-width="0.85"/>
<line x1="751.81" y1="511.92" x2="751.81" y2="517.72" stroke="#222222" stroke-width="0.85"/>
<line x1="747.61" y1="511.92" x2="756.01" y2="511.92" stroke="#222222" stroke-width="0.85"/>
<line x1="747.61" y1="517.72" x2="756.01" y2="517.72" stroke="#222222" stroke-width="0.85"/>
<line x1="755.28" y1="541.05" x2="755.28" y2="545.49" stroke="#222222" stroke-width="0.85"/>
<line x1="751.08" y1="541.05" x2="759.48" y2="541.05" stroke="#222222" stroke-width="0.85"/>
<line x1="751.08" y1="545.49" x2="759.48" y2="545.49" stroke="#222222" stroke-width="0.85"/>
<line x1="758.76" y1="536.90" x2="758.76" y2="540.52" stroke="#222222" stroke-width="0.85"/>
<line x1="754.56" y1="536.90" x2="762.96" y2="536.90" stroke="#222222" stroke-width="0.85"/>
<line x1="754.56" y1="540.52" x2="762.96" y2="540.52" stroke="#222222" stroke-width="0.85"/>
<line x1="762.23" y1="525.28" x2="762.23" y2="530.99" stroke="#222222" stroke-width="0.85"/>
<line x1="758.03" y1="525.28" x2="766.43" y2="525.28" stroke="#222222" stroke-width="0.85"/>
<line x1="758.03" y1="530.99" x2="766.43" y2="530.99" stroke="#222222" stroke-width="0.85"/>
<line x1="765.71" y1="514.02" x2="765.71" y2="517.45" stroke="#222222" stroke-width="0.85"/>
<line x1="761.51" y1="514.02" x2="769.91" y2="514.02" stroke="#222222" stroke-width="0.85"/>
<line x1="761.51" y1="517.45" x2="769.91" y2="517.45" stroke="#222222" stroke-width="0.85"/>
<line x1="769.18" y1="531.21" x2="769.18" y2="534.17" stroke="#222222" stroke-width="0.85"/>
<line x1="764.98" y1="531.21" x2="773.38" y2="531.21" stroke="#222222" stroke-width="0.85"/>
<line x1="764.98" y1="534.17" x2="773.38" y2="534.17" stroke="#222222" stroke-width="0.85"/>
<line x1="772.66" y1="535.18" x2="772.66" y2="540.42" stroke="#222222" stroke-width="0.85"/>
<line x1="768.46" y1="535.18" x2="776.86" y2="535.18" stroke="#222222" stroke-width="0.85"/>
<line x1="768.46" y1="540.42" x2="776.86" y2="540.42" stroke="#222222" stroke-width="0.85"/>
<line x1="776.13" y1="542.65" x2="776.13" y2="547.17" stroke="#222222" stroke-width="0.85"/>
<line x1="771.93" y1="542.65" x2="780.33" y2="542.65" stroke="#222222" stroke-width="0.85"/>
<line x1="771.93" y1="547.17" x2="780.33" y2="547.17" stroke="#222222" stroke-width="0.85"/>
<line x1="779.61" y1="506.56" x2="779.61" y2="510.31" stroke="#222222" stroke-width="0.85"/>
<line x1="775.40" y1="506.56" x2="783.81" y2="506.56" stroke="#222222" stroke-width="0.85"/>
<line x1="775.40" y1="510.31" x2="783.81" y2="510.31" stroke="#222222" stroke-width="0.85"/>
<line x1="783.08" y1="539.70" x2="783.08" y2="544.65" stroke="#222222" stroke-width="0.85"/>
<line x1="778.88" y1="539.70" x2="787.28" y2="539.70" stroke="#222222" stroke-width="0.85"/>
<line x1="778.88" y1="544.65" x2="787.28" y2="544.65" stroke="#222222" stroke-width="0.85"/>
<line x1="786.55" y1="523.78" x2="786.55" y2="527.75" stroke="#222222" stroke-width="0.85"/>
<line x1="782.35" y1="523.78" x2="790.75" y2="523.78" stroke="#222222" stroke-width="0.85"/>
<line x1="782.35" y1="527.75" x2="790.75" y2="527.75" stroke="#222222" stroke-width="0.85"/>
<line x1="790.03" y1="522.34" x2="790.03" y2="525.53" stroke="#222222" stroke-width="0.85"/>
<line x1="785.83" y1="522.34" x2="794.23" y2="522.34" stroke="#222222" stroke-width="0.85"/>
<line x1="785.83" y1="525.53" x2="794.23" y2="525.53" stroke="#222222" stroke-width="0.85"/>
<line x1="793.50" y1="526.02" x2="793.50" y2="532.07" stroke="#222222" stroke-width="0.85"/>
<line x1="789.30" y1="526.02" x2="797.70" y2="526.02" stroke="#222222" stroke-width="0.85"/>
<line x1="789.30" y1="532.07" x2="797.70" y2="532.07" stroke="#222222" stroke-width="0.85"/>
<line x1="796.98" y1="543.22" x2="796.98" y2="546.97" stroke="#222222" stroke-width="0.85"/>
<line x1="792.78" y1="543.22" x2="801.18" y2="543.22" stroke="#222222" stroke-width="0.85"/>
<line x1="792.78" y1="546.97" x2="801.18" y2="546.97" stroke="#222222" stroke-width="0.85"/>
<line x1="800.45" y1="542.53" x2="800.45" y2="548.39" stroke="#222222" stroke-width="0.85"/>
<line x1="796.25" y1="542.53" x2="804.65" y2="542.53" stroke="#222222" stroke-width="0.85"/>
<line x1="796.25" y1="548.39" x2="804.65" y2="548.39" stroke="#222222" stroke-width="0.85"/>
<line x1="803.93" y1="523.29" x2="803.93" y2="529.33" stroke="#222222" stroke-width="0.85"/>
<line x1="799.73" y1="523.29" x2="808.13" y2="523.29" stroke="#222222" stroke-width="0.85"/>
<line x1="799.73" y1="529.33" x2="808.13" y2="529.33" stroke="#222222" stroke-width="0.85"/>
<line x1="807.40" y1="533.58" x2="807.40" y2="539.10" stroke="#222222" stroke-width="0.85"/>
<line x1="803.20" y1="533.58" x2="811.60" y2="533.58" stroke="#222222" stroke-width="0.85"/>
<line x1="803.20" y1="539.10" x2="811.60" y2="539.10" stroke="#222222" stroke-width="0.85"/>
<line x1="810.88" y1="540.99" x2="810.88" y2="544.46" stroke="#222222" stroke-width="0.85"/>
<line x1="806.68" y1="540.99" x2="815.08" y2="540.99" stroke="#222222" stroke-width="0.85"/>
<line x1="806.68" y1="544.46" x2="815.08" y2="544.46" stroke="#222222" stroke-width="0.85"/>
<polyline points="466.9,536.8 470.4,535.9 473.8,535.1 477.3,534.2 480.8,533.4 484.3,532.6 487.7,531.7 491.2,530.9 494.7,530.1 498.2,529.2 501.6,528.4 505.1,527.6 508.6,526.8 512.1,526.1 515.5,525.3 519.0,524.5 522.5,523.8 526.0,523.1 529.4,522.4 532.9,521.7 536.4,521.0 539.9,520.3 543.3,519.7 546.8,519.1 550.3,518.5 553.8,517.9 557.2,517.3 560.7,516.8 564.2,516.3 567.7,515.8 571.1,515.3 574.6,514.8 578.1,514.4 581.6,514.0 585.0,513.6 588.5,513.3 592.0,513.0 595.5,512.7 598.9,512.4 602.4,512.2 605.9,511.9 609.4,511.8 612.8,511.6 616.3,511.5 619.8,511.3 623.3,511.3 626.7,511.2 630.2,511.2 633.7,511.2 637.2,511.2 640.6,511.3 644.1,511.3 647.6,511.5 651.0,511.6 654.5,511.8 658.0,512.0 661.5,512.2 664.9,512.4 668.4,512.7 671.9,513.0 675.4,513.3 678.8,513.7 682.3,514.0 685.8,514.4 689.3,514.9 692.7,515.3 696.2,515.8 699.7,516.3 703.2,516.8 706.6,517.3 710.1,517.9 713.6,518.5 717.1,519.1 720.5,519.7 724.0,520.3 727.5,521.0 731.0,521.7 734.4,522.4 737.9,523.1 741.4,523.8 744.9,524.5 748.3,525.3 751.8,526.1 755.3,526.8 758.8,527.6 762.2,528.4 765.7,529.2 769.2,530.0 772.7,530.9 776.1,531.7 779.6,532.5 783.1,533.4 786.6,534.2 790.0,535.0 793.5,535.9 797.0,536.7 800.5,537.6 803.9,538.4 807.4,539.2 810.9,540.1" fill="none" stroke="#ff0000" stroke-width="0.85" stroke-linejoin="bevel"/>
</g>
</svg>
</body></html>
